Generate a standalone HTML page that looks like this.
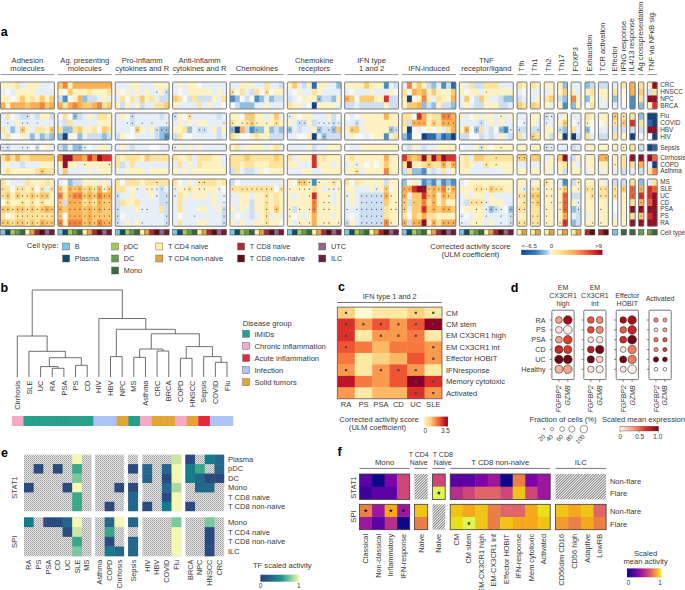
<!DOCTYPE html>
<html><head><meta charset="utf-8"><style>
html,body{margin:0;padding:0;background:#fff;}
svg{display:block;font-family:"Liberation Sans",sans-serif;fill:#383838;}
</style></head><body>
<svg width="685" height="590" viewBox="0 0 685 590">
<rect width="685" height="590" fill="#fff"/>
<text x="0.80" y="36.20" font-size="12.5" text-anchor="start" font-weight="bold" fill="#000">a</text>
<rect x="0.50" y="82.00" width="5.40" height="7.25" fill="#fef2c2" />
<rect x="5.40" y="82.00" width="5.40" height="7.25" fill="#fef2c2" />
<rect x="10.30" y="82.00" width="5.40" height="7.25" fill="#fef2c2" />
<rect x="15.20" y="82.00" width="5.40" height="7.25" fill="#fde39c" />
<rect x="20.10" y="82.00" width="5.40" height="7.25" fill="#e6eff8" />
<rect x="25.00" y="82.00" width="5.40" height="7.25" fill="#fef2c2" />
<rect x="29.90" y="82.00" width="5.40" height="7.25" fill="#fef2c2" />
<rect x="34.80" y="82.00" width="5.40" height="7.25" fill="#fef2c2" />
<rect x="39.70" y="82.00" width="5.40" height="7.25" fill="#e6eff8" />
<rect x="44.60" y="82.00" width="5.40" height="7.25" fill="#e6eff8" />
<rect x="49.50" y="82.00" width="4.90" height="7.25" fill="#f8f8f7" />
<rect x="0.50" y="88.75" width="5.40" height="7.25" fill="#e6eff8" />
<rect x="5.40" y="88.75" width="5.40" height="7.25" fill="#f8f8f7" />
<rect x="10.30" y="88.75" width="5.40" height="7.25" fill="#e6eff8" />
<rect x="15.20" y="88.75" width="5.40" height="7.25" fill="#fef2c2" />
<rect x="20.10" y="88.75" width="5.40" height="7.25" fill="#fef2c2" />
<rect x="25.00" y="88.75" width="5.40" height="7.25" fill="#fef2c2" />
<rect x="29.90" y="88.75" width="5.40" height="7.25" fill="#fef2c2" />
<rect x="34.80" y="88.75" width="5.40" height="7.25" fill="#e6eff8" />
<rect x="39.70" y="88.75" width="5.40" height="7.25" fill="#e6eff8" />
<rect x="44.60" y="88.75" width="5.40" height="7.25" fill="#e6eff8" />
<rect x="49.50" y="88.75" width="4.90" height="7.25" fill="#e6eff8" />
<rect x="0.50" y="95.50" width="5.40" height="7.25" fill="#fef2c2" />
<rect x="5.40" y="95.50" width="5.40" height="7.25" fill="#fef2c2" />
<rect x="10.30" y="95.50" width="5.40" height="7.25" fill="#f8f8f7" />
<rect x="15.20" y="95.50" width="5.40" height="7.25" fill="#fef2c2" />
<rect x="20.10" y="95.50" width="5.40" height="7.25" fill="#fccb70" />
<rect x="25.00" y="95.50" width="5.40" height="7.25" fill="#fef2c2" />
<rect x="29.90" y="95.50" width="5.40" height="7.25" fill="#fde39c" />
<rect x="34.80" y="95.50" width="5.40" height="7.25" fill="#fef2c2" />
<rect x="39.70" y="95.50" width="5.40" height="7.25" fill="#fccb70" />
<rect x="44.60" y="95.50" width="5.40" height="7.25" fill="#fef2c2" />
<rect x="49.50" y="95.50" width="4.90" height="7.25" fill="#fccb70" />
<rect x="0.50" y="102.25" width="5.40" height="6.75" fill="#fbb054" />
<rect x="5.40" y="102.25" width="5.40" height="6.75" fill="#fef2c2" />
<rect x="10.30" y="102.25" width="5.40" height="6.75" fill="#fbb054" />
<rect x="15.20" y="102.25" width="5.40" height="6.75" fill="#fbb054" />
<rect x="20.10" y="102.25" width="5.40" height="6.75" fill="#fbb054" />
<rect x="25.00" y="102.25" width="5.40" height="6.75" fill="#fccb70" />
<rect x="29.90" y="102.25" width="5.40" height="6.75" fill="#fbb054" />
<rect x="34.80" y="102.25" width="5.40" height="6.75" fill="#fbb054" />
<rect x="39.70" y="102.25" width="5.40" height="6.75" fill="#f6843e" />
<rect x="44.60" y="102.25" width="5.40" height="6.75" fill="#fccb70" />
<rect x="49.50" y="102.25" width="4.90" height="6.75" fill="#fbb054" />
<rect x="0.50" y="82.00" width="53.90" height="27.00" fill="none" stroke="#6f6f6f" stroke-width="0.9" rx="0.8"/>
<rect x="0.50" y="113.00" width="5.40" height="7.25" fill="#e6eff8" />
<rect x="5.40" y="113.00" width="5.40" height="7.25" fill="#fde39c" />
<rect x="10.30" y="113.00" width="5.40" height="7.25" fill="#f8f8f7" />
<rect x="15.20" y="113.00" width="5.40" height="7.25" fill="#e6eff8" />
<rect x="20.10" y="113.00" width="5.40" height="7.25" fill="#cddff0" />
<rect x="25.00" y="113.00" width="5.40" height="7.25" fill="#cddff0" />
<rect x="29.90" y="113.00" width="5.40" height="7.25" fill="#e6eff8" />
<rect x="34.80" y="113.00" width="5.40" height="7.25" fill="#cddff0" />
<rect x="39.70" y="113.00" width="5.40" height="7.25" fill="#fef2c2" />
<rect x="44.60" y="113.00" width="5.40" height="7.25" fill="#fef2c2" />
<rect x="49.50" y="113.00" width="4.90" height="7.25" fill="#cddff0" />
<rect x="0.50" y="119.75" width="5.40" height="7.25" fill="#e6eff8" />
<rect x="5.40" y="119.75" width="5.40" height="7.25" fill="#e6eff8" />
<rect x="10.30" y="119.75" width="5.40" height="7.25" fill="#e6eff8" />
<rect x="15.20" y="119.75" width="5.40" height="7.25" fill="#fef2c2" />
<rect x="20.10" y="119.75" width="5.40" height="7.25" fill="#e6eff8" />
<rect x="25.00" y="119.75" width="5.40" height="7.25" fill="#e6eff8" />
<rect x="29.90" y="119.75" width="5.40" height="7.25" fill="#e6eff8" />
<rect x="34.80" y="119.75" width="5.40" height="7.25" fill="#e6eff8" />
<rect x="39.70" y="119.75" width="5.40" height="7.25" fill="#e6eff8" />
<rect x="44.60" y="119.75" width="5.40" height="7.25" fill="#e6eff8" />
<rect x="49.50" y="119.75" width="4.90" height="7.25" fill="#e6eff8" />
<rect x="0.50" y="126.50" width="5.40" height="7.25" fill="#fde39c" />
<rect x="5.40" y="126.50" width="5.40" height="7.25" fill="#e6eff8" />
<rect x="10.30" y="126.50" width="5.40" height="7.25" fill="#92bfdf" />
<rect x="15.20" y="126.50" width="5.40" height="7.25" fill="#e6eff8" />
<rect x="20.10" y="126.50" width="5.40" height="7.25" fill="#fccb70" />
<rect x="25.00" y="126.50" width="5.40" height="7.25" fill="#fef2c2" />
<rect x="29.90" y="126.50" width="5.40" height="7.25" fill="#e6eff8" />
<rect x="34.80" y="126.50" width="5.40" height="7.25" fill="#fde39c" />
<rect x="39.70" y="126.50" width="5.40" height="7.25" fill="#fde39c" />
<rect x="44.60" y="126.50" width="5.40" height="7.25" fill="#fef2c2" />
<rect x="49.50" y="126.50" width="4.90" height="7.25" fill="#fccb70" />
<rect x="0.50" y="133.25" width="5.40" height="6.75" fill="#e6eff8" />
<rect x="5.40" y="133.25" width="5.40" height="6.75" fill="#fde39c" />
<rect x="10.30" y="133.25" width="5.40" height="6.75" fill="#f8f8f7" />
<rect x="15.20" y="133.25" width="5.40" height="6.75" fill="#f8f8f7" />
<rect x="20.10" y="133.25" width="5.40" height="6.75" fill="#fef2c2" />
<rect x="25.00" y="133.25" width="5.40" height="6.75" fill="#e6eff8" />
<rect x="29.90" y="133.25" width="5.40" height="6.75" fill="#92bfdf" />
<rect x="34.80" y="133.25" width="5.40" height="6.75" fill="#e6eff8" />
<rect x="39.70" y="133.25" width="5.40" height="6.75" fill="#92bfdf" />
<rect x="44.60" y="133.25" width="5.40" height="6.75" fill="#cddff0" />
<rect x="49.50" y="133.25" width="4.90" height="6.75" fill="#92bfdf" />
<circle cx="27.45" cy="116.38" r="0.62" fill="#4a4a4a"/>
<circle cx="7.85" cy="123.12" r="0.62" fill="#4a4a4a"/>
<circle cx="22.55" cy="123.12" r="0.62" fill="#4a4a4a"/>
<circle cx="27.45" cy="123.12" r="0.62" fill="#4a4a4a"/>
<circle cx="37.25" cy="123.12" r="0.62" fill="#4a4a4a"/>
<circle cx="22.55" cy="129.88" r="0.62" fill="#4a4a4a"/>
<circle cx="51.95" cy="129.88" r="0.62" fill="#4a4a4a"/>
<rect x="0.50" y="113.00" width="53.90" height="27.00" fill="none" stroke="#6f6f6f" stroke-width="0.9" rx="0.8"/>
<rect x="0.50" y="144.20" width="5.40" height="6.75" fill="#e6eff8" />
<rect x="5.40" y="144.20" width="5.40" height="6.75" fill="#cddff0" />
<rect x="10.30" y="144.20" width="5.40" height="6.75" fill="#e6eff8" />
<rect x="15.20" y="144.20" width="5.40" height="6.75" fill="#e6eff8" />
<rect x="20.10" y="144.20" width="5.40" height="6.75" fill="#e6eff8" />
<rect x="25.00" y="144.20" width="5.40" height="6.75" fill="#e6eff8" />
<rect x="29.90" y="144.20" width="5.40" height="6.75" fill="#f8f8f7" />
<rect x="34.80" y="144.20" width="5.40" height="6.75" fill="#cddff0" />
<rect x="39.70" y="144.20" width="5.40" height="6.75" fill="#f8f8f7" />
<rect x="44.60" y="144.20" width="5.40" height="6.75" fill="#fef2c2" />
<rect x="49.50" y="144.20" width="4.90" height="6.75" fill="#e6eff8" />
<circle cx="2.95" cy="147.57" r="0.62" fill="#4a4a4a"/>
<circle cx="7.85" cy="147.57" r="0.62" fill="#4a4a4a"/>
<circle cx="22.55" cy="147.57" r="0.62" fill="#4a4a4a"/>
<circle cx="27.45" cy="147.57" r="0.62" fill="#4a4a4a"/>
<circle cx="37.25" cy="147.57" r="0.62" fill="#4a4a4a"/>
<rect x="0.50" y="144.20" width="53.90" height="6.75" fill="none" stroke="#6f6f6f" stroke-width="0.9" rx="0.8"/>
<rect x="0.50" y="154.60" width="5.40" height="7.25" fill="#fde39c" />
<rect x="5.40" y="154.60" width="5.40" height="7.25" fill="#fbb054" />
<rect x="10.30" y="154.60" width="5.40" height="7.25" fill="#fde39c" />
<rect x="15.20" y="154.60" width="5.40" height="7.25" fill="#fbb054" />
<rect x="20.10" y="154.60" width="5.40" height="7.25" fill="#fde39c" />
<rect x="25.00" y="154.60" width="5.40" height="7.25" fill="#fde39c" />
<rect x="29.90" y="154.60" width="5.40" height="7.25" fill="#fccb70" />
<rect x="34.80" y="154.60" width="5.40" height="7.25" fill="#fccb70" />
<rect x="39.70" y="154.60" width="5.40" height="7.25" fill="#fccb70" />
<rect x="44.60" y="154.60" width="5.40" height="7.25" fill="#fccb70" />
<rect x="49.50" y="154.60" width="4.90" height="7.25" fill="#fccb70" />
<rect x="0.50" y="161.35" width="5.40" height="7.25" fill="#e6eff8" />
<rect x="5.40" y="161.35" width="5.40" height="7.25" fill="#fef2c2" />
<rect x="10.30" y="161.35" width="5.40" height="7.25" fill="#e6eff8" />
<rect x="15.20" y="161.35" width="5.40" height="7.25" fill="#e6eff8" />
<rect x="20.10" y="161.35" width="5.40" height="7.25" fill="#cddff0" />
<rect x="25.00" y="161.35" width="5.40" height="7.25" fill="#e6eff8" />
<rect x="29.90" y="161.35" width="5.40" height="7.25" fill="#e6eff8" />
<rect x="34.80" y="161.35" width="5.40" height="7.25" fill="#e6eff8" />
<rect x="39.70" y="161.35" width="5.40" height="7.25" fill="#fef2c2" />
<rect x="44.60" y="161.35" width="5.40" height="7.25" fill="#fef2c2" />
<rect x="49.50" y="161.35" width="4.90" height="7.25" fill="#fef2c2" />
<rect x="0.50" y="168.10" width="5.40" height="6.75" fill="#fef2c2" />
<rect x="5.40" y="168.10" width="5.40" height="6.75" fill="#fde39c" />
<rect x="10.30" y="168.10" width="5.40" height="6.75" fill="#fef2c2" />
<rect x="15.20" y="168.10" width="5.40" height="6.75" fill="#fef2c2" />
<rect x="20.10" y="168.10" width="5.40" height="6.75" fill="#fef2c2" />
<rect x="25.00" y="168.10" width="5.40" height="6.75" fill="#fef2c2" />
<rect x="29.90" y="168.10" width="5.40" height="6.75" fill="#fef2c2" />
<rect x="34.80" y="168.10" width="5.40" height="6.75" fill="#fde39c" />
<rect x="39.70" y="168.10" width="5.40" height="6.75" fill="#fccb70" />
<rect x="44.60" y="168.10" width="5.40" height="6.75" fill="#fde39c" />
<rect x="49.50" y="168.10" width="4.90" height="6.75" fill="#fde39c" />
<circle cx="42.15" cy="171.47" r="0.62" fill="#4a4a4a"/>
<rect x="0.50" y="154.60" width="53.90" height="20.25" fill="none" stroke="#6f6f6f" stroke-width="0.9" rx="0.8"/>
<rect x="0.50" y="179.00" width="5.40" height="7.25" fill="#fde39c" />
<rect x="5.40" y="179.00" width="5.40" height="7.25" fill="#f8f8f7" />
<rect x="10.30" y="179.00" width="5.40" height="7.25" fill="#e6eff8" />
<rect x="15.20" y="179.00" width="5.40" height="7.25" fill="#e6eff8" />
<rect x="20.10" y="179.00" width="5.40" height="7.25" fill="#e6eff8" />
<rect x="25.00" y="179.00" width="5.40" height="7.25" fill="#fde39c" />
<rect x="29.90" y="179.00" width="5.40" height="7.25" fill="#fef2c2" />
<rect x="34.80" y="179.00" width="5.40" height="7.25" fill="#fef2c2" />
<rect x="39.70" y="179.00" width="5.40" height="7.25" fill="#fef2c2" />
<rect x="44.60" y="179.00" width="5.40" height="7.25" fill="#fde39c" />
<rect x="49.50" y="179.00" width="4.90" height="7.25" fill="#fef2c2" />
<rect x="0.50" y="185.75" width="5.40" height="7.25" fill="#fde39c" />
<rect x="5.40" y="185.75" width="5.40" height="7.25" fill="#fde39c" />
<rect x="10.30" y="185.75" width="5.40" height="7.25" fill="#f8f8f7" />
<rect x="15.20" y="185.75" width="5.40" height="7.25" fill="#fde39c" />
<rect x="20.10" y="185.75" width="5.40" height="7.25" fill="#fde39c" />
<rect x="25.00" y="185.75" width="5.40" height="7.25" fill="#fef2c2" />
<rect x="29.90" y="185.75" width="5.40" height="7.25" fill="#fde39c" />
<rect x="34.80" y="185.75" width="5.40" height="7.25" fill="#f8f8f7" />
<rect x="39.70" y="185.75" width="5.40" height="7.25" fill="#fde39c" />
<rect x="44.60" y="185.75" width="5.40" height="7.25" fill="#e6eff8" />
<rect x="49.50" y="185.75" width="4.90" height="7.25" fill="#fde39c" />
<rect x="0.50" y="192.50" width="5.40" height="7.25" fill="#fde39c" />
<rect x="5.40" y="192.50" width="5.40" height="7.25" fill="#fccb70" />
<rect x="10.30" y="192.50" width="5.40" height="7.25" fill="#fef2c2" />
<rect x="15.20" y="192.50" width="5.40" height="7.25" fill="#fccb70" />
<rect x="20.10" y="192.50" width="5.40" height="7.25" fill="#fde39c" />
<rect x="25.00" y="192.50" width="5.40" height="7.25" fill="#fde39c" />
<rect x="29.90" y="192.50" width="5.40" height="7.25" fill="#fccb70" />
<rect x="34.80" y="192.50" width="5.40" height="7.25" fill="#fde39c" />
<rect x="39.70" y="192.50" width="5.40" height="7.25" fill="#fccb70" />
<rect x="44.60" y="192.50" width="5.40" height="7.25" fill="#fccb70" />
<rect x="49.50" y="192.50" width="4.90" height="7.25" fill="#fef2c2" />
<rect x="0.50" y="199.25" width="5.40" height="7.25" fill="#f8f8f7" />
<rect x="5.40" y="199.25" width="5.40" height="7.25" fill="#fde39c" />
<rect x="10.30" y="199.25" width="5.40" height="7.25" fill="#fef2c2" />
<rect x="15.20" y="199.25" width="5.40" height="7.25" fill="#fef2c2" />
<rect x="20.10" y="199.25" width="5.40" height="7.25" fill="#fde39c" />
<rect x="25.00" y="199.25" width="5.40" height="7.25" fill="#fef2c2" />
<rect x="29.90" y="199.25" width="5.40" height="7.25" fill="#fde39c" />
<rect x="34.80" y="199.25" width="5.40" height="7.25" fill="#fef2c2" />
<rect x="39.70" y="199.25" width="5.40" height="7.25" fill="#fde39c" />
<rect x="44.60" y="199.25" width="5.40" height="7.25" fill="#fef2c2" />
<rect x="49.50" y="199.25" width="4.90" height="7.25" fill="#fef2c2" />
<rect x="0.50" y="206.00" width="5.40" height="7.25" fill="#fccb70" />
<rect x="5.40" y="206.00" width="5.40" height="7.25" fill="#fccb70" />
<rect x="10.30" y="206.00" width="5.40" height="7.25" fill="#fde39c" />
<rect x="15.20" y="206.00" width="5.40" height="7.25" fill="#fccb70" />
<rect x="20.10" y="206.00" width="5.40" height="7.25" fill="#fccb70" />
<rect x="25.00" y="206.00" width="5.40" height="7.25" fill="#fde39c" />
<rect x="29.90" y="206.00" width="5.40" height="7.25" fill="#fccb70" />
<rect x="34.80" y="206.00" width="5.40" height="7.25" fill="#fde39c" />
<rect x="39.70" y="206.00" width="5.40" height="7.25" fill="#fccb70" />
<rect x="44.60" y="206.00" width="5.40" height="7.25" fill="#fbb054" />
<rect x="49.50" y="206.00" width="4.90" height="7.25" fill="#fccb70" />
<rect x="0.50" y="212.75" width="5.40" height="7.25" fill="#fde39c" />
<rect x="5.40" y="212.75" width="5.40" height="7.25" fill="#f8f8f7" />
<rect x="10.30" y="212.75" width="5.40" height="7.25" fill="#fef2c2" />
<rect x="15.20" y="212.75" width="5.40" height="7.25" fill="#fde39c" />
<rect x="20.10" y="212.75" width="5.40" height="7.25" fill="#fde39c" />
<rect x="25.00" y="212.75" width="5.40" height="7.25" fill="#fde39c" />
<rect x="29.90" y="212.75" width="5.40" height="7.25" fill="#fde39c" />
<rect x="34.80" y="212.75" width="5.40" height="7.25" fill="#fde39c" />
<rect x="39.70" y="212.75" width="5.40" height="7.25" fill="#fde39c" />
<rect x="44.60" y="212.75" width="5.40" height="7.25" fill="#fde39c" />
<rect x="49.50" y="212.75" width="4.90" height="7.25" fill="#fde39c" />
<rect x="0.50" y="219.50" width="5.40" height="6.75" fill="#fccb70" />
<rect x="5.40" y="219.50" width="5.40" height="6.75" fill="#fccb70" />
<rect x="10.30" y="219.50" width="5.40" height="6.75" fill="#fde39c" />
<rect x="15.20" y="219.50" width="5.40" height="6.75" fill="#fccb70" />
<rect x="20.10" y="219.50" width="5.40" height="6.75" fill="#fccb70" />
<rect x="25.00" y="219.50" width="5.40" height="6.75" fill="#fde39c" />
<rect x="29.90" y="219.50" width="5.40" height="6.75" fill="#fccb70" />
<rect x="34.80" y="219.50" width="5.40" height="6.75" fill="#fde39c" />
<rect x="39.70" y="219.50" width="5.40" height="6.75" fill="#fbb054" />
<rect x="44.60" y="219.50" width="5.40" height="6.75" fill="#fccb70" />
<rect x="49.50" y="219.50" width="4.90" height="6.75" fill="#fccb70" />
<circle cx="2.95" cy="189.12" r="0.62" fill="#4a4a4a"/>
<circle cx="17.65" cy="189.12" r="0.62" fill="#4a4a4a"/>
<circle cx="22.55" cy="189.12" r="0.62" fill="#4a4a4a"/>
<circle cx="32.35" cy="189.12" r="0.62" fill="#4a4a4a"/>
<circle cx="42.15" cy="189.12" r="0.62" fill="#4a4a4a"/>
<circle cx="51.95" cy="189.12" r="0.62" fill="#4a4a4a"/>
<circle cx="2.95" cy="195.88" r="0.62" fill="#4a4a4a"/>
<circle cx="7.85" cy="195.88" r="0.62" fill="#4a4a4a"/>
<circle cx="17.65" cy="195.88" r="0.62" fill="#4a4a4a"/>
<circle cx="22.55" cy="195.88" r="0.62" fill="#4a4a4a"/>
<circle cx="27.45" cy="195.88" r="0.62" fill="#4a4a4a"/>
<circle cx="32.35" cy="195.88" r="0.62" fill="#4a4a4a"/>
<circle cx="37.25" cy="195.88" r="0.62" fill="#4a4a4a"/>
<circle cx="42.15" cy="195.88" r="0.62" fill="#4a4a4a"/>
<circle cx="47.05" cy="195.88" r="0.62" fill="#4a4a4a"/>
<circle cx="7.85" cy="202.62" r="0.62" fill="#4a4a4a"/>
<circle cx="22.55" cy="202.62" r="0.62" fill="#4a4a4a"/>
<circle cx="32.35" cy="202.62" r="0.62" fill="#4a4a4a"/>
<circle cx="42.15" cy="202.62" r="0.62" fill="#4a4a4a"/>
<circle cx="2.95" cy="209.38" r="0.62" fill="#4a4a4a"/>
<circle cx="7.85" cy="209.38" r="0.62" fill="#4a4a4a"/>
<circle cx="12.75" cy="209.38" r="0.62" fill="#4a4a4a"/>
<circle cx="17.65" cy="209.38" r="0.62" fill="#4a4a4a"/>
<circle cx="22.55" cy="209.38" r="0.62" fill="#4a4a4a"/>
<circle cx="27.45" cy="209.38" r="0.62" fill="#4a4a4a"/>
<circle cx="32.35" cy="209.38" r="0.62" fill="#4a4a4a"/>
<circle cx="37.25" cy="209.38" r="0.62" fill="#4a4a4a"/>
<circle cx="42.15" cy="209.38" r="0.62" fill="#4a4a4a"/>
<circle cx="47.05" cy="209.38" r="0.62" fill="#4a4a4a"/>
<circle cx="51.95" cy="209.38" r="0.62" fill="#4a4a4a"/>
<circle cx="17.65" cy="216.12" r="0.62" fill="#4a4a4a"/>
<circle cx="22.55" cy="216.12" r="0.62" fill="#4a4a4a"/>
<circle cx="27.45" cy="216.12" r="0.62" fill="#4a4a4a"/>
<circle cx="32.35" cy="216.12" r="0.62" fill="#4a4a4a"/>
<circle cx="37.25" cy="216.12" r="0.62" fill="#4a4a4a"/>
<circle cx="42.15" cy="216.12" r="0.62" fill="#4a4a4a"/>
<circle cx="47.05" cy="216.12" r="0.62" fill="#4a4a4a"/>
<circle cx="51.95" cy="216.12" r="0.62" fill="#4a4a4a"/>
<circle cx="2.95" cy="222.88" r="0.62" fill="#4a4a4a"/>
<circle cx="7.85" cy="222.88" r="0.62" fill="#4a4a4a"/>
<circle cx="12.75" cy="222.88" r="0.62" fill="#4a4a4a"/>
<circle cx="17.65" cy="222.88" r="0.62" fill="#4a4a4a"/>
<circle cx="22.55" cy="222.88" r="0.62" fill="#4a4a4a"/>
<circle cx="27.45" cy="222.88" r="0.62" fill="#4a4a4a"/>
<circle cx="32.35" cy="222.88" r="0.62" fill="#4a4a4a"/>
<circle cx="37.25" cy="222.88" r="0.62" fill="#4a4a4a"/>
<circle cx="42.15" cy="222.88" r="0.62" fill="#4a4a4a"/>
<circle cx="47.05" cy="222.88" r="0.62" fill="#4a4a4a"/>
<circle cx="51.95" cy="222.88" r="0.62" fill="#4a4a4a"/>
<rect x="0.50" y="179.00" width="53.90" height="47.25" fill="none" stroke="#6f6f6f" stroke-width="0.9" rx="0.8"/>
<rect x="0.50" y="229.50" width="5.30" height="5.50" fill="#7cc5dc" />
<rect x="5.40" y="229.50" width="5.30" height="5.50" fill="#0d4f67" />
<rect x="10.30" y="229.50" width="5.30" height="5.50" fill="#a5c85b" />
<rect x="15.20" y="229.50" width="5.30" height="5.50" fill="#6a9c4d" />
<rect x="20.10" y="229.50" width="5.30" height="5.50" fill="#3a6a40" />
<rect x="25.00" y="229.50" width="5.30" height="5.50" fill="#fdf0aa" />
<rect x="29.90" y="229.50" width="5.30" height="5.50" fill="#e5a23e" />
<rect x="34.80" y="229.50" width="5.30" height="5.50" fill="#a62f35" />
<rect x="39.70" y="229.50" width="5.30" height="5.50" fill="#5a0e16" />
<rect x="44.60" y="229.50" width="5.30" height="5.50" fill="#94678a" />
<rect x="49.50" y="229.50" width="4.90" height="5.50" fill="#6a1f3d" />
<path d="M5.40,229.5V235 M10.30,229.5V235 M15.20,229.5V235 M20.10,229.5V235 M25.00,229.5V235 M29.90,229.5V235 M34.80,229.5V235 M39.70,229.5V235 M44.60,229.5V235 M49.50,229.5V235" stroke="#2a2a2a" stroke-width="0.45"/>
<rect x="0.50" y="229.5" width="53.90" height="5.5" fill="none" stroke="#444" stroke-width="0.55"/>
<text x="27.45" y="62.60" font-size="7.6" text-anchor="middle" >Adhesion</text>
<text x="27.45" y="71.20" font-size="7.6" text-anchor="middle" >molecules</text>
<line x1="0.50" y1="74.6" x2="54.40" y2="74.6" stroke="#8a8a8a" stroke-width="0.9"/>
<rect x="57.86" y="82.00" width="5.40" height="7.25" fill="#fccb70" />
<rect x="62.76" y="82.00" width="5.40" height="7.25" fill="#f6843e" />
<rect x="67.66" y="82.00" width="5.40" height="7.25" fill="#fef2c2" />
<rect x="72.56" y="82.00" width="5.40" height="7.25" fill="#fbb054" />
<rect x="77.46" y="82.00" width="5.40" height="7.25" fill="#fbb054" />
<rect x="82.36" y="82.00" width="5.40" height="7.25" fill="#fbb054" />
<rect x="87.26" y="82.00" width="5.40" height="7.25" fill="#fbb054" />
<rect x="92.16" y="82.00" width="5.40" height="7.25" fill="#fbb054" />
<rect x="97.06" y="82.00" width="5.40" height="7.25" fill="#fbb054" />
<rect x="101.96" y="82.00" width="5.40" height="7.25" fill="#fbb054" />
<rect x="106.86" y="82.00" width="4.90" height="7.25" fill="#fbb054" />
<rect x="57.86" y="88.75" width="5.40" height="7.25" fill="#fef2c2" />
<rect x="62.76" y="88.75" width="5.40" height="7.25" fill="#f8f8f7" />
<rect x="67.66" y="88.75" width="5.40" height="7.25" fill="#fccb70" />
<rect x="72.56" y="88.75" width="5.40" height="7.25" fill="#fef2c2" />
<rect x="77.46" y="88.75" width="5.40" height="7.25" fill="#fef2c2" />
<rect x="82.36" y="88.75" width="5.40" height="7.25" fill="#fef2c2" />
<rect x="87.26" y="88.75" width="5.40" height="7.25" fill="#fde39c" />
<rect x="92.16" y="88.75" width="5.40" height="7.25" fill="#fef2c2" />
<rect x="97.06" y="88.75" width="5.40" height="7.25" fill="#fef2c2" />
<rect x="101.96" y="88.75" width="5.40" height="7.25" fill="#fef2c2" />
<rect x="106.86" y="88.75" width="4.90" height="7.25" fill="#fde39c" />
<rect x="57.86" y="95.50" width="5.40" height="7.25" fill="#cddff0" />
<rect x="62.76" y="95.50" width="5.40" height="7.25" fill="#4b8ec5" />
<rect x="67.66" y="95.50" width="5.40" height="7.25" fill="#f8f8f7" />
<rect x="72.56" y="95.50" width="5.40" height="7.25" fill="#fef2c2" />
<rect x="77.46" y="95.50" width="5.40" height="7.25" fill="#fbb054" />
<rect x="82.36" y="95.50" width="5.40" height="7.25" fill="#92bfdf" />
<rect x="87.26" y="95.50" width="5.40" height="7.25" fill="#cddff0" />
<rect x="92.16" y="95.50" width="5.40" height="7.25" fill="#cddff0" />
<rect x="97.06" y="95.50" width="5.40" height="7.25" fill="#e6eff8" />
<rect x="101.96" y="95.50" width="5.40" height="7.25" fill="#fef2c2" />
<rect x="106.86" y="95.50" width="4.90" height="7.25" fill="#e6eff8" />
<rect x="57.86" y="102.25" width="5.40" height="6.75" fill="#fbb054" />
<rect x="62.76" y="102.25" width="5.40" height="6.75" fill="#fde39c" />
<rect x="67.66" y="102.25" width="5.40" height="6.75" fill="#fbb054" />
<rect x="72.56" y="102.25" width="5.40" height="6.75" fill="#f6843e" />
<rect x="77.46" y="102.25" width="5.40" height="6.75" fill="#fbb054" />
<rect x="82.36" y="102.25" width="5.40" height="6.75" fill="#fccb70" />
<rect x="87.26" y="102.25" width="5.40" height="6.75" fill="#fccb70" />
<rect x="92.16" y="102.25" width="5.40" height="6.75" fill="#fbb054" />
<rect x="97.06" y="102.25" width="5.40" height="6.75" fill="#f6843e" />
<rect x="101.96" y="102.25" width="5.40" height="6.75" fill="#fde39c" />
<rect x="106.86" y="102.25" width="4.90" height="6.75" fill="#fccb70" />
<rect x="57.86" y="82.00" width="53.90" height="27.00" fill="none" stroke="#6f6f6f" stroke-width="0.9" rx="0.8"/>
<rect x="57.86" y="113.00" width="5.40" height="7.25" fill="#f8f8f7" />
<rect x="62.76" y="113.00" width="5.40" height="7.25" fill="#fde39c" />
<rect x="67.66" y="113.00" width="5.40" height="7.25" fill="#f8f8f7" />
<rect x="72.56" y="113.00" width="5.40" height="7.25" fill="#92bfdf" />
<rect x="77.46" y="113.00" width="5.40" height="7.25" fill="#cddff0" />
<rect x="82.36" y="113.00" width="5.40" height="7.25" fill="#e6eff8" />
<rect x="87.26" y="113.00" width="5.40" height="7.25" fill="#fef2c2" />
<rect x="92.16" y="113.00" width="5.40" height="7.25" fill="#e6eff8" />
<rect x="97.06" y="113.00" width="5.40" height="7.25" fill="#fde39c" />
<rect x="101.96" y="113.00" width="5.40" height="7.25" fill="#fde39c" />
<rect x="106.86" y="113.00" width="4.90" height="7.25" fill="#fef2c2" />
<rect x="57.86" y="119.75" width="5.40" height="7.25" fill="#e6eff8" />
<rect x="62.76" y="119.75" width="5.40" height="7.25" fill="#cddff0" />
<rect x="67.66" y="119.75" width="5.40" height="7.25" fill="#fde39c" />
<rect x="72.56" y="119.75" width="5.40" height="7.25" fill="#e6eff8" />
<rect x="77.46" y="119.75" width="5.40" height="7.25" fill="#e6eff8" />
<rect x="82.36" y="119.75" width="5.40" height="7.25" fill="#e6eff8" />
<rect x="87.26" y="119.75" width="5.40" height="7.25" fill="#e6eff8" />
<rect x="92.16" y="119.75" width="5.40" height="7.25" fill="#e6eff8" />
<rect x="97.06" y="119.75" width="5.40" height="7.25" fill="#fef2c2" />
<rect x="101.96" y="119.75" width="5.40" height="7.25" fill="#fef2c2" />
<rect x="106.86" y="119.75" width="4.90" height="7.25" fill="#fef2c2" />
<rect x="57.86" y="126.50" width="5.40" height="7.25" fill="#fde39c" />
<rect x="62.76" y="126.50" width="5.40" height="7.25" fill="#92bfdf" />
<rect x="67.66" y="126.50" width="5.40" height="7.25" fill="#92bfdf" />
<rect x="72.56" y="126.50" width="5.40" height="7.25" fill="#fde39c" />
<rect x="77.46" y="126.50" width="5.40" height="7.25" fill="#fccb70" />
<rect x="82.36" y="126.50" width="5.40" height="7.25" fill="#fef2c2" />
<rect x="87.26" y="126.50" width="5.40" height="7.25" fill="#fef2c2" />
<rect x="92.16" y="126.50" width="5.40" height="7.25" fill="#fde39c" />
<rect x="97.06" y="126.50" width="5.40" height="7.25" fill="#f8f8f7" />
<rect x="101.96" y="126.50" width="5.40" height="7.25" fill="#fccb70" />
<rect x="106.86" y="126.50" width="4.90" height="7.25" fill="#fde39c" />
<rect x="57.86" y="133.25" width="5.40" height="6.75" fill="#92bfdf" />
<rect x="62.76" y="133.25" width="5.40" height="6.75" fill="#163f80" />
<rect x="67.66" y="133.25" width="5.40" height="6.75" fill="#f8f8f7" />
<rect x="72.56" y="133.25" width="5.40" height="6.75" fill="#f8f8f7" />
<rect x="77.46" y="133.25" width="5.40" height="6.75" fill="#92bfdf" />
<rect x="82.36" y="133.25" width="5.40" height="6.75" fill="#e6eff8" />
<rect x="87.26" y="133.25" width="5.40" height="6.75" fill="#cddff0" />
<rect x="92.16" y="133.25" width="5.40" height="6.75" fill="#cddff0" />
<rect x="97.06" y="133.25" width="5.40" height="6.75" fill="#cddff0" />
<rect x="101.96" y="133.25" width="5.40" height="6.75" fill="#92bfdf" />
<rect x="106.86" y="133.25" width="4.90" height="6.75" fill="#cddff0" />
<circle cx="75.01" cy="116.38" r="0.62" fill="#4a4a4a"/>
<rect x="57.86" y="113.00" width="53.90" height="27.00" fill="none" stroke="#6f6f6f" stroke-width="0.9" rx="0.8"/>
<rect x="57.86" y="144.20" width="5.40" height="6.75" fill="#cddff0" />
<rect x="62.76" y="144.20" width="5.40" height="6.75" fill="#92bfdf" />
<rect x="67.66" y="144.20" width="5.40" height="6.75" fill="#e6eff8" />
<rect x="72.56" y="144.20" width="5.40" height="6.75" fill="#92bfdf" />
<rect x="77.46" y="144.20" width="5.40" height="6.75" fill="#92bfdf" />
<rect x="82.36" y="144.20" width="5.40" height="6.75" fill="#e6eff8" />
<rect x="87.26" y="144.20" width="5.40" height="6.75" fill="#f8f8f7" />
<rect x="92.16" y="144.20" width="5.40" height="6.75" fill="#e6eff8" />
<rect x="97.06" y="144.20" width="5.40" height="6.75" fill="#fef2c2" />
<rect x="101.96" y="144.20" width="5.40" height="6.75" fill="#fef2c2" />
<rect x="106.86" y="144.20" width="4.90" height="6.75" fill="#e6eff8" />
<circle cx="79.91" cy="147.57" r="0.62" fill="#4a4a4a"/>
<circle cx="84.81" cy="147.57" r="0.62" fill="#4a4a4a"/>
<rect x="57.86" y="144.20" width="53.90" height="6.75" fill="none" stroke="#6f6f6f" stroke-width="0.9" rx="0.8"/>
<rect x="57.86" y="154.60" width="5.40" height="7.25" fill="#f6843e" />
<rect x="62.76" y="154.60" width="5.40" height="7.25" fill="#950c28" />
<rect x="67.66" y="154.60" width="5.40" height="7.25" fill="#950c28" />
<rect x="72.56" y="154.60" width="5.40" height="7.25" fill="#f6843e" />
<rect x="77.46" y="154.60" width="5.40" height="7.25" fill="#f6843e" />
<rect x="82.36" y="154.60" width="5.40" height="7.25" fill="#fbb054" />
<rect x="87.26" y="154.60" width="5.40" height="7.25" fill="#d9302a" />
<rect x="92.16" y="154.60" width="5.40" height="7.25" fill="#f6843e" />
<rect x="97.06" y="154.60" width="5.40" height="7.25" fill="#950c28" />
<rect x="101.96" y="154.60" width="5.40" height="7.25" fill="#d9302a" />
<rect x="106.86" y="154.60" width="4.90" height="7.25" fill="#d9302a" />
<rect x="57.86" y="161.35" width="5.40" height="7.25" fill="#fef2c2" />
<rect x="62.76" y="161.35" width="5.40" height="7.25" fill="#950c28" />
<rect x="67.66" y="161.35" width="5.40" height="7.25" fill="#fef2c2" />
<rect x="72.56" y="161.35" width="5.40" height="7.25" fill="#fef2c2" />
<rect x="77.46" y="161.35" width="5.40" height="7.25" fill="#e6eff8" />
<rect x="82.36" y="161.35" width="5.40" height="7.25" fill="#fef2c2" />
<rect x="87.26" y="161.35" width="5.40" height="7.25" fill="#fef2c2" />
<rect x="92.16" y="161.35" width="5.40" height="7.25" fill="#fef2c2" />
<rect x="97.06" y="161.35" width="5.40" height="7.25" fill="#fef2c2" />
<rect x="101.96" y="161.35" width="5.40" height="7.25" fill="#fef2c2" />
<rect x="106.86" y="161.35" width="4.90" height="7.25" fill="#fef2c2" />
<rect x="57.86" y="168.10" width="5.40" height="6.75" fill="#e6eff8" />
<rect x="62.76" y="168.10" width="5.40" height="6.75" fill="#fccb70" />
<rect x="67.66" y="168.10" width="5.40" height="6.75" fill="#e6eff8" />
<rect x="72.56" y="168.10" width="5.40" height="6.75" fill="#e6eff8" />
<rect x="77.46" y="168.10" width="5.40" height="6.75" fill="#e6eff8" />
<rect x="82.36" y="168.10" width="5.40" height="6.75" fill="#e6eff8" />
<rect x="87.26" y="168.10" width="5.40" height="6.75" fill="#fef2c2" />
<rect x="92.16" y="168.10" width="5.40" height="6.75" fill="#e6eff8" />
<rect x="97.06" y="168.10" width="5.40" height="6.75" fill="#fef2c2" />
<rect x="101.96" y="168.10" width="5.40" height="6.75" fill="#fef2c2" />
<rect x="106.86" y="168.10" width="4.90" height="6.75" fill="#fef2c2" />
<circle cx="65.21" cy="157.97" r="0.62" fill="#4a4a4a"/>
<circle cx="65.21" cy="164.72" r="0.62" fill="#4a4a4a"/>
<circle cx="84.81" cy="164.72" r="0.62" fill="#4a4a4a"/>
<circle cx="109.31" cy="164.72" r="0.62" fill="#4a4a4a"/>
<rect x="57.86" y="154.60" width="53.90" height="20.25" fill="none" stroke="#6f6f6f" stroke-width="0.9" rx="0.8"/>
<rect x="57.86" y="179.00" width="5.40" height="7.25" fill="#e6eff8" />
<rect x="62.76" y="179.00" width="5.40" height="7.25" fill="#f8f8f7" />
<rect x="67.66" y="179.00" width="5.40" height="7.25" fill="#92bfdf" />
<rect x="72.56" y="179.00" width="5.40" height="7.25" fill="#cddff0" />
<rect x="77.46" y="179.00" width="5.40" height="7.25" fill="#cddff0" />
<rect x="82.36" y="179.00" width="5.40" height="7.25" fill="#fef2c2" />
<rect x="87.26" y="179.00" width="5.40" height="7.25" fill="#fef2c2" />
<rect x="92.16" y="179.00" width="5.40" height="7.25" fill="#fef2c2" />
<rect x="97.06" y="179.00" width="5.40" height="7.25" fill="#e6eff8" />
<rect x="101.96" y="179.00" width="5.40" height="7.25" fill="#fef2c2" />
<rect x="106.86" y="179.00" width="4.90" height="7.25" fill="#e6eff8" />
<rect x="57.86" y="185.75" width="5.40" height="7.25" fill="#fccb70" />
<rect x="62.76" y="185.75" width="5.40" height="7.25" fill="#fef2c2" />
<rect x="67.66" y="185.75" width="5.40" height="7.25" fill="#fbb054" />
<rect x="72.56" y="185.75" width="5.40" height="7.25" fill="#fccb70" />
<rect x="77.46" y="185.75" width="5.40" height="7.25" fill="#fbb054" />
<rect x="82.36" y="185.75" width="5.40" height="7.25" fill="#fde39c" />
<rect x="87.26" y="185.75" width="5.40" height="7.25" fill="#fccb70" />
<rect x="92.16" y="185.75" width="5.40" height="7.25" fill="#fde39c" />
<rect x="97.06" y="185.75" width="5.40" height="7.25" fill="#fbb054" />
<rect x="101.96" y="185.75" width="5.40" height="7.25" fill="#fef2c2" />
<rect x="106.86" y="185.75" width="4.90" height="7.25" fill="#fccb70" />
<rect x="57.86" y="192.50" width="5.40" height="7.25" fill="#f6843e" />
<rect x="62.76" y="192.50" width="5.40" height="7.25" fill="#fde39c" />
<rect x="67.66" y="192.50" width="5.40" height="7.25" fill="#fbb054" />
<rect x="72.56" y="192.50" width="5.40" height="7.25" fill="#f6843e" />
<rect x="77.46" y="192.50" width="5.40" height="7.25" fill="#f6843e" />
<rect x="82.36" y="192.50" width="5.40" height="7.25" fill="#fccb70" />
<rect x="87.26" y="192.50" width="5.40" height="7.25" fill="#fbb054" />
<rect x="92.16" y="192.50" width="5.40" height="7.25" fill="#fccb70" />
<rect x="97.06" y="192.50" width="5.40" height="7.25" fill="#f6843e" />
<rect x="101.96" y="192.50" width="5.40" height="7.25" fill="#fbb054" />
<rect x="106.86" y="192.50" width="4.90" height="7.25" fill="#fbb054" />
<rect x="57.86" y="199.25" width="5.40" height="7.25" fill="#fccb70" />
<rect x="62.76" y="199.25" width="5.40" height="7.25" fill="#cddff0" />
<rect x="67.66" y="199.25" width="5.40" height="7.25" fill="#fbb054" />
<rect x="72.56" y="199.25" width="5.40" height="7.25" fill="#fbb054" />
<rect x="77.46" y="199.25" width="5.40" height="7.25" fill="#fbb054" />
<rect x="82.36" y="199.25" width="5.40" height="7.25" fill="#fde39c" />
<rect x="87.26" y="199.25" width="5.40" height="7.25" fill="#fccb70" />
<rect x="92.16" y="199.25" width="5.40" height="7.25" fill="#fde39c" />
<rect x="97.06" y="199.25" width="5.40" height="7.25" fill="#fbb054" />
<rect x="101.96" y="199.25" width="5.40" height="7.25" fill="#fccb70" />
<rect x="106.86" y="199.25" width="4.90" height="7.25" fill="#fccb70" />
<rect x="57.86" y="206.00" width="5.40" height="7.25" fill="#fbb054" />
<rect x="62.76" y="206.00" width="5.40" height="7.25" fill="#fccb70" />
<rect x="67.66" y="206.00" width="5.40" height="7.25" fill="#fbb054" />
<rect x="72.56" y="206.00" width="5.40" height="7.25" fill="#fbb054" />
<rect x="77.46" y="206.00" width="5.40" height="7.25" fill="#fbb054" />
<rect x="82.36" y="206.00" width="5.40" height="7.25" fill="#fccb70" />
<rect x="87.26" y="206.00" width="5.40" height="7.25" fill="#fbb054" />
<rect x="92.16" y="206.00" width="5.40" height="7.25" fill="#fccb70" />
<rect x="97.06" y="206.00" width="5.40" height="7.25" fill="#fbb054" />
<rect x="101.96" y="206.00" width="5.40" height="7.25" fill="#fccb70" />
<rect x="106.86" y="206.00" width="4.90" height="7.25" fill="#fccb70" />
<rect x="57.86" y="212.75" width="5.40" height="7.25" fill="#fccb70" />
<rect x="62.76" y="212.75" width="5.40" height="7.25" fill="#f8f8f7" />
<rect x="67.66" y="212.75" width="5.40" height="7.25" fill="#fbb054" />
<rect x="72.56" y="212.75" width="5.40" height="7.25" fill="#fbb054" />
<rect x="77.46" y="212.75" width="5.40" height="7.25" fill="#fbb054" />
<rect x="82.36" y="212.75" width="5.40" height="7.25" fill="#fccb70" />
<rect x="87.26" y="212.75" width="5.40" height="7.25" fill="#fbb054" />
<rect x="92.16" y="212.75" width="5.40" height="7.25" fill="#fccb70" />
<rect x="97.06" y="212.75" width="5.40" height="7.25" fill="#fccb70" />
<rect x="101.96" y="212.75" width="5.40" height="7.25" fill="#fccb70" />
<rect x="106.86" y="212.75" width="4.90" height="7.25" fill="#fccb70" />
<rect x="57.86" y="219.50" width="5.40" height="6.75" fill="#f6843e" />
<rect x="62.76" y="219.50" width="5.40" height="6.75" fill="#fef2c2" />
<rect x="67.66" y="219.50" width="5.40" height="6.75" fill="#f6843e" />
<rect x="72.56" y="219.50" width="5.40" height="6.75" fill="#f6843e" />
<rect x="77.46" y="219.50" width="5.40" height="6.75" fill="#f6843e" />
<rect x="82.36" y="219.50" width="5.40" height="6.75" fill="#fccb70" />
<rect x="87.26" y="219.50" width="5.40" height="6.75" fill="#fbb054" />
<rect x="92.16" y="219.50" width="5.40" height="6.75" fill="#fccb70" />
<rect x="97.06" y="219.50" width="5.40" height="6.75" fill="#f6843e" />
<rect x="101.96" y="219.50" width="5.40" height="6.75" fill="#fbb054" />
<rect x="106.86" y="219.50" width="4.90" height="6.75" fill="#fbb054" />
<circle cx="60.31" cy="189.12" r="0.62" fill="#4a4a4a"/>
<circle cx="70.11" cy="189.12" r="0.62" fill="#4a4a4a"/>
<circle cx="75.01" cy="189.12" r="0.62" fill="#4a4a4a"/>
<circle cx="79.91" cy="189.12" r="0.62" fill="#4a4a4a"/>
<circle cx="84.81" cy="189.12" r="0.62" fill="#4a4a4a"/>
<circle cx="89.71" cy="189.12" r="0.62" fill="#4a4a4a"/>
<circle cx="94.61" cy="189.12" r="0.62" fill="#4a4a4a"/>
<circle cx="99.51" cy="189.12" r="0.62" fill="#4a4a4a"/>
<circle cx="104.41" cy="189.12" r="0.62" fill="#4a4a4a"/>
<circle cx="109.31" cy="189.12" r="0.62" fill="#4a4a4a"/>
<circle cx="60.31" cy="195.88" r="0.62" fill="#4a4a4a"/>
<circle cx="70.11" cy="195.88" r="0.62" fill="#4a4a4a"/>
<circle cx="75.01" cy="195.88" r="0.62" fill="#4a4a4a"/>
<circle cx="79.91" cy="195.88" r="0.62" fill="#4a4a4a"/>
<circle cx="84.81" cy="195.88" r="0.62" fill="#4a4a4a"/>
<circle cx="89.71" cy="195.88" r="0.62" fill="#4a4a4a"/>
<circle cx="94.61" cy="195.88" r="0.62" fill="#4a4a4a"/>
<circle cx="99.51" cy="195.88" r="0.62" fill="#4a4a4a"/>
<circle cx="104.41" cy="195.88" r="0.62" fill="#4a4a4a"/>
<circle cx="109.31" cy="195.88" r="0.62" fill="#4a4a4a"/>
<circle cx="60.31" cy="202.62" r="0.62" fill="#4a4a4a"/>
<circle cx="70.11" cy="202.62" r="0.62" fill="#4a4a4a"/>
<circle cx="75.01" cy="202.62" r="0.62" fill="#4a4a4a"/>
<circle cx="79.91" cy="202.62" r="0.62" fill="#4a4a4a"/>
<circle cx="84.81" cy="202.62" r="0.62" fill="#4a4a4a"/>
<circle cx="89.71" cy="202.62" r="0.62" fill="#4a4a4a"/>
<circle cx="94.61" cy="202.62" r="0.62" fill="#4a4a4a"/>
<circle cx="99.51" cy="202.62" r="0.62" fill="#4a4a4a"/>
<circle cx="104.41" cy="202.62" r="0.62" fill="#4a4a4a"/>
<circle cx="109.31" cy="202.62" r="0.62" fill="#4a4a4a"/>
<circle cx="60.31" cy="209.38" r="0.62" fill="#4a4a4a"/>
<circle cx="70.11" cy="209.38" r="0.62" fill="#4a4a4a"/>
<circle cx="75.01" cy="209.38" r="0.62" fill="#4a4a4a"/>
<circle cx="79.91" cy="209.38" r="0.62" fill="#4a4a4a"/>
<circle cx="84.81" cy="209.38" r="0.62" fill="#4a4a4a"/>
<circle cx="89.71" cy="209.38" r="0.62" fill="#4a4a4a"/>
<circle cx="94.61" cy="209.38" r="0.62" fill="#4a4a4a"/>
<circle cx="99.51" cy="209.38" r="0.62" fill="#4a4a4a"/>
<circle cx="104.41" cy="209.38" r="0.62" fill="#4a4a4a"/>
<circle cx="109.31" cy="209.38" r="0.62" fill="#4a4a4a"/>
<circle cx="60.31" cy="216.12" r="0.62" fill="#4a4a4a"/>
<circle cx="70.11" cy="216.12" r="0.62" fill="#4a4a4a"/>
<circle cx="75.01" cy="216.12" r="0.62" fill="#4a4a4a"/>
<circle cx="79.91" cy="216.12" r="0.62" fill="#4a4a4a"/>
<circle cx="84.81" cy="216.12" r="0.62" fill="#4a4a4a"/>
<circle cx="89.71" cy="216.12" r="0.62" fill="#4a4a4a"/>
<circle cx="94.61" cy="216.12" r="0.62" fill="#4a4a4a"/>
<circle cx="99.51" cy="216.12" r="0.62" fill="#4a4a4a"/>
<circle cx="104.41" cy="216.12" r="0.62" fill="#4a4a4a"/>
<circle cx="109.31" cy="216.12" r="0.62" fill="#4a4a4a"/>
<circle cx="60.31" cy="222.88" r="0.62" fill="#4a4a4a"/>
<circle cx="70.11" cy="222.88" r="0.62" fill="#4a4a4a"/>
<circle cx="75.01" cy="222.88" r="0.62" fill="#4a4a4a"/>
<circle cx="79.91" cy="222.88" r="0.62" fill="#4a4a4a"/>
<circle cx="84.81" cy="222.88" r="0.62" fill="#4a4a4a"/>
<circle cx="89.71" cy="222.88" r="0.62" fill="#4a4a4a"/>
<circle cx="94.61" cy="222.88" r="0.62" fill="#4a4a4a"/>
<circle cx="99.51" cy="222.88" r="0.62" fill="#4a4a4a"/>
<circle cx="104.41" cy="222.88" r="0.62" fill="#4a4a4a"/>
<circle cx="109.31" cy="222.88" r="0.62" fill="#4a4a4a"/>
<rect x="57.86" y="179.00" width="53.90" height="47.25" fill="none" stroke="#6f6f6f" stroke-width="0.9" rx="0.8"/>
<rect x="57.86" y="229.50" width="5.30" height="5.50" fill="#7cc5dc" />
<rect x="62.76" y="229.50" width="5.30" height="5.50" fill="#0d4f67" />
<rect x="67.66" y="229.50" width="5.30" height="5.50" fill="#a5c85b" />
<rect x="72.56" y="229.50" width="5.30" height="5.50" fill="#6a9c4d" />
<rect x="77.46" y="229.50" width="5.30" height="5.50" fill="#3a6a40" />
<rect x="82.36" y="229.50" width="5.30" height="5.50" fill="#fdf0aa" />
<rect x="87.26" y="229.50" width="5.30" height="5.50" fill="#e5a23e" />
<rect x="92.16" y="229.50" width="5.30" height="5.50" fill="#a62f35" />
<rect x="97.06" y="229.50" width="5.30" height="5.50" fill="#5a0e16" />
<rect x="101.96" y="229.50" width="5.30" height="5.50" fill="#94678a" />
<rect x="106.86" y="229.50" width="4.90" height="5.50" fill="#6a1f3d" />
<path d="M62.76,229.5V235 M67.66,229.5V235 M72.56,229.5V235 M77.46,229.5V235 M82.36,229.5V235 M87.26,229.5V235 M92.16,229.5V235 M97.06,229.5V235 M101.96,229.5V235 M106.86,229.5V235" stroke="#2a2a2a" stroke-width="0.45"/>
<rect x="57.86" y="229.5" width="53.90" height="5.5" fill="none" stroke="#444" stroke-width="0.55"/>
<text x="84.81" y="62.60" font-size="7.6" text-anchor="middle" >Ag. presenting</text>
<text x="84.81" y="71.20" font-size="7.6" text-anchor="middle" >molecules</text>
<line x1="57.86" y1="74.6" x2="111.76" y2="74.6" stroke="#8a8a8a" stroke-width="0.9"/>
<rect x="115.22" y="82.00" width="5.40" height="7.25" fill="#e6eff8" />
<rect x="120.12" y="82.00" width="5.40" height="7.25" fill="#e6eff8" />
<rect x="125.02" y="82.00" width="5.40" height="7.25" fill="#e6eff8" />
<rect x="129.92" y="82.00" width="5.40" height="7.25" fill="#fef2c2" />
<rect x="134.82" y="82.00" width="5.40" height="7.25" fill="#fef2c2" />
<rect x="139.72" y="82.00" width="5.40" height="7.25" fill="#e6eff8" />
<rect x="144.62" y="82.00" width="5.40" height="7.25" fill="#e6eff8" />
<rect x="149.52" y="82.00" width="5.40" height="7.25" fill="#e6eff8" />
<rect x="154.42" y="82.00" width="5.40" height="7.25" fill="#fef2c2" />
<rect x="159.32" y="82.00" width="5.40" height="7.25" fill="#fef2c2" />
<rect x="164.22" y="82.00" width="4.90" height="7.25" fill="#fef2c2" />
<rect x="115.22" y="88.75" width="5.40" height="7.25" fill="#fef2c2" />
<rect x="120.12" y="88.75" width="5.40" height="7.25" fill="#f8f8f7" />
<rect x="125.02" y="88.75" width="5.40" height="7.25" fill="#fef2c2" />
<rect x="129.92" y="88.75" width="5.40" height="7.25" fill="#e6eff8" />
<rect x="134.82" y="88.75" width="5.40" height="7.25" fill="#fef2c2" />
<rect x="139.72" y="88.75" width="5.40" height="7.25" fill="#e6eff8" />
<rect x="144.62" y="88.75" width="5.40" height="7.25" fill="#fef2c2" />
<rect x="149.52" y="88.75" width="5.40" height="7.25" fill="#e6eff8" />
<rect x="154.42" y="88.75" width="5.40" height="7.25" fill="#e6eff8" />
<rect x="159.32" y="88.75" width="5.40" height="7.25" fill="#fef2c2" />
<rect x="164.22" y="88.75" width="4.90" height="7.25" fill="#cddff0" />
<rect x="115.22" y="95.50" width="5.40" height="7.25" fill="#e6eff8" />
<rect x="120.12" y="95.50" width="5.40" height="7.25" fill="#fde39c" />
<rect x="125.02" y="95.50" width="5.40" height="7.25" fill="#f8f8f7" />
<rect x="129.92" y="95.50" width="5.40" height="7.25" fill="#fde39c" />
<rect x="134.82" y="95.50" width="5.40" height="7.25" fill="#e6eff8" />
<rect x="139.72" y="95.50" width="5.40" height="7.25" fill="#fccb70" />
<rect x="144.62" y="95.50" width="5.40" height="7.25" fill="#fef2c2" />
<rect x="149.52" y="95.50" width="5.40" height="7.25" fill="#fde39c" />
<rect x="154.42" y="95.50" width="5.40" height="7.25" fill="#e6eff8" />
<rect x="159.32" y="95.50" width="5.40" height="7.25" fill="#cddff0" />
<rect x="164.22" y="95.50" width="4.90" height="7.25" fill="#cddff0" />
<rect x="115.22" y="102.25" width="5.40" height="6.75" fill="#fef2c2" />
<rect x="120.12" y="102.25" width="5.40" height="6.75" fill="#cddff0" />
<rect x="125.02" y="102.25" width="5.40" height="6.75" fill="#fef2c2" />
<rect x="129.92" y="102.25" width="5.40" height="6.75" fill="#e6eff8" />
<rect x="134.82" y="102.25" width="5.40" height="6.75" fill="#fef2c2" />
<rect x="139.72" y="102.25" width="5.40" height="6.75" fill="#cddff0" />
<rect x="144.62" y="102.25" width="5.40" height="6.75" fill="#e6eff8" />
<rect x="149.52" y="102.25" width="5.40" height="6.75" fill="#e6eff8" />
<rect x="154.42" y="102.25" width="5.40" height="6.75" fill="#fde39c" />
<rect x="159.32" y="102.25" width="5.40" height="6.75" fill="#fde39c" />
<rect x="164.22" y="102.25" width="4.90" height="6.75" fill="#fccb70" />
<circle cx="156.87" cy="92.12" r="0.62" fill="#4a4a4a"/>
<circle cx="166.67" cy="92.12" r="0.62" fill="#4a4a4a"/>
<rect x="115.22" y="82.00" width="53.90" height="27.00" fill="none" stroke="#6f6f6f" stroke-width="0.9" rx="0.8"/>
<rect x="115.22" y="113.00" width="5.40" height="7.25" fill="#e6eff8" />
<rect x="120.12" y="113.00" width="5.40" height="7.25" fill="#fef2c2" />
<rect x="125.02" y="113.00" width="5.40" height="7.25" fill="#f8f8f7" />
<rect x="129.92" y="113.00" width="5.40" height="7.25" fill="#cddff0" />
<rect x="134.82" y="113.00" width="5.40" height="7.25" fill="#e6eff8" />
<rect x="139.72" y="113.00" width="5.40" height="7.25" fill="#e6eff8" />
<rect x="144.62" y="113.00" width="5.40" height="7.25" fill="#e6eff8" />
<rect x="149.52" y="113.00" width="5.40" height="7.25" fill="#e6eff8" />
<rect x="154.42" y="113.00" width="5.40" height="7.25" fill="#e6eff8" />
<rect x="159.32" y="113.00" width="5.40" height="7.25" fill="#cddff0" />
<rect x="164.22" y="113.00" width="4.90" height="7.25" fill="#e6eff8" />
<rect x="115.22" y="119.75" width="5.40" height="7.25" fill="#e6eff8" />
<rect x="120.12" y="119.75" width="5.40" height="7.25" fill="#e6eff8" />
<rect x="125.02" y="119.75" width="5.40" height="7.25" fill="#e6eff8" />
<rect x="129.92" y="119.75" width="5.40" height="7.25" fill="#cddff0" />
<rect x="134.82" y="119.75" width="5.40" height="7.25" fill="#e6eff8" />
<rect x="139.72" y="119.75" width="5.40" height="7.25" fill="#e6eff8" />
<rect x="144.62" y="119.75" width="5.40" height="7.25" fill="#e6eff8" />
<rect x="149.52" y="119.75" width="5.40" height="7.25" fill="#e6eff8" />
<rect x="154.42" y="119.75" width="5.40" height="7.25" fill="#e6eff8" />
<rect x="159.32" y="119.75" width="5.40" height="7.25" fill="#e6eff8" />
<rect x="164.22" y="119.75" width="4.90" height="7.25" fill="#e6eff8" />
<rect x="115.22" y="126.50" width="5.40" height="7.25" fill="#e6eff8" />
<rect x="120.12" y="126.50" width="5.40" height="7.25" fill="#e6eff8" />
<rect x="125.02" y="126.50" width="5.40" height="7.25" fill="#e6eff8" />
<rect x="129.92" y="126.50" width="5.40" height="7.25" fill="#f8f8f7" />
<rect x="134.82" y="126.50" width="5.40" height="7.25" fill="#fccb70" />
<rect x="139.72" y="126.50" width="5.40" height="7.25" fill="#fef2c2" />
<rect x="144.62" y="126.50" width="5.40" height="7.25" fill="#e6eff8" />
<rect x="149.52" y="126.50" width="5.40" height="7.25" fill="#fef2c2" />
<rect x="154.42" y="126.50" width="5.40" height="7.25" fill="#cddff0" />
<rect x="159.32" y="126.50" width="5.40" height="7.25" fill="#92bfdf" />
<rect x="164.22" y="126.50" width="4.90" height="7.25" fill="#92bfdf" />
<rect x="115.22" y="133.25" width="5.40" height="6.75" fill="#cddff0" />
<rect x="120.12" y="133.25" width="5.40" height="6.75" fill="#fef2c2" />
<rect x="125.02" y="133.25" width="5.40" height="6.75" fill="#f8f8f7" />
<rect x="129.92" y="133.25" width="5.40" height="6.75" fill="#f8f8f7" />
<rect x="134.82" y="133.25" width="5.40" height="6.75" fill="#e6eff8" />
<rect x="139.72" y="133.25" width="5.40" height="6.75" fill="#e6eff8" />
<rect x="144.62" y="133.25" width="5.40" height="6.75" fill="#e6eff8" />
<rect x="149.52" y="133.25" width="5.40" height="6.75" fill="#e6eff8" />
<rect x="154.42" y="133.25" width="5.40" height="6.75" fill="#cddff0" />
<rect x="159.32" y="133.25" width="5.40" height="6.75" fill="#92bfdf" />
<rect x="164.22" y="133.25" width="4.90" height="6.75" fill="#4b8ec5" />
<circle cx="132.37" cy="116.38" r="0.62" fill="#4a4a4a"/>
<circle cx="127.47" cy="123.12" r="0.62" fill="#4a4a4a"/>
<circle cx="132.37" cy="123.12" r="0.62" fill="#4a4a4a"/>
<circle cx="142.17" cy="123.12" r="0.62" fill="#4a4a4a"/>
<circle cx="151.97" cy="123.12" r="0.62" fill="#4a4a4a"/>
<circle cx="166.67" cy="123.12" r="0.62" fill="#4a4a4a"/>
<circle cx="137.27" cy="129.88" r="0.62" fill="#4a4a4a"/>
<circle cx="156.87" cy="129.88" r="0.62" fill="#4a4a4a"/>
<circle cx="161.77" cy="129.88" r="0.62" fill="#4a4a4a"/>
<circle cx="166.67" cy="129.88" r="0.62" fill="#4a4a4a"/>
<circle cx="166.67" cy="136.62" r="0.62" fill="#4a4a4a"/>
<rect x="115.22" y="113.00" width="53.90" height="27.00" fill="none" stroke="#6f6f6f" stroke-width="0.9" rx="0.8"/>
<rect x="115.22" y="144.20" width="5.40" height="6.75" fill="#e6eff8" />
<rect x="120.12" y="144.20" width="5.40" height="6.75" fill="#fef2c2" />
<rect x="125.02" y="144.20" width="5.40" height="6.75" fill="#e6eff8" />
<rect x="129.92" y="144.20" width="5.40" height="6.75" fill="#cddff0" />
<rect x="134.82" y="144.20" width="5.40" height="6.75" fill="#e6eff8" />
<rect x="139.72" y="144.20" width="5.40" height="6.75" fill="#e6eff8" />
<rect x="144.62" y="144.20" width="5.40" height="6.75" fill="#e6eff8" />
<rect x="149.52" y="144.20" width="5.40" height="6.75" fill="#f8f8f7" />
<rect x="154.42" y="144.20" width="5.40" height="6.75" fill="#f8f8f7" />
<rect x="159.32" y="144.20" width="5.40" height="6.75" fill="#e6eff8" />
<rect x="164.22" y="144.20" width="4.90" height="6.75" fill="#e6eff8" />
<rect x="115.22" y="144.20" width="53.90" height="6.75" fill="none" stroke="#6f6f6f" stroke-width="0.9" rx="0.8"/>
<rect x="115.22" y="154.60" width="5.40" height="7.25" fill="#fde39c" />
<rect x="120.12" y="154.60" width="5.40" height="7.25" fill="#fef2c2" />
<rect x="125.02" y="154.60" width="5.40" height="7.25" fill="#fde39c" />
<rect x="129.92" y="154.60" width="5.40" height="7.25" fill="#fde39c" />
<rect x="134.82" y="154.60" width="5.40" height="7.25" fill="#fde39c" />
<rect x="139.72" y="154.60" width="5.40" height="7.25" fill="#fef2c2" />
<rect x="144.62" y="154.60" width="5.40" height="7.25" fill="#fccb70" />
<rect x="149.52" y="154.60" width="5.40" height="7.25" fill="#fde39c" />
<rect x="154.42" y="154.60" width="5.40" height="7.25" fill="#fde39c" />
<rect x="159.32" y="154.60" width="5.40" height="7.25" fill="#fde39c" />
<rect x="164.22" y="154.60" width="4.90" height="7.25" fill="#fde39c" />
<rect x="115.22" y="161.35" width="5.40" height="7.25" fill="#fde39c" />
<rect x="120.12" y="161.35" width="5.40" height="7.25" fill="#cddff0" />
<rect x="125.02" y="161.35" width="5.40" height="7.25" fill="#e6eff8" />
<rect x="129.92" y="161.35" width="5.40" height="7.25" fill="#fde39c" />
<rect x="134.82" y="161.35" width="5.40" height="7.25" fill="#e6eff8" />
<rect x="139.72" y="161.35" width="5.40" height="7.25" fill="#e6eff8" />
<rect x="144.62" y="161.35" width="5.40" height="7.25" fill="#e6eff8" />
<rect x="149.52" y="161.35" width="5.40" height="7.25" fill="#e6eff8" />
<rect x="154.42" y="161.35" width="5.40" height="7.25" fill="#e6eff8" />
<rect x="159.32" y="161.35" width="5.40" height="7.25" fill="#e6eff8" />
<rect x="164.22" y="161.35" width="4.90" height="7.25" fill="#e6eff8" />
<rect x="115.22" y="168.10" width="5.40" height="6.75" fill="#e6eff8" />
<rect x="120.12" y="168.10" width="5.40" height="6.75" fill="#e6eff8" />
<rect x="125.02" y="168.10" width="5.40" height="6.75" fill="#fef2c2" />
<rect x="129.92" y="168.10" width="5.40" height="6.75" fill="#fef2c2" />
<rect x="134.82" y="168.10" width="5.40" height="6.75" fill="#fef2c2" />
<rect x="139.72" y="168.10" width="5.40" height="6.75" fill="#fef2c2" />
<rect x="144.62" y="168.10" width="5.40" height="6.75" fill="#e6eff8" />
<rect x="149.52" y="168.10" width="5.40" height="6.75" fill="#fef2c2" />
<rect x="154.42" y="168.10" width="5.40" height="6.75" fill="#fef2c2" />
<rect x="159.32" y="168.10" width="5.40" height="6.75" fill="#fef2c2" />
<rect x="164.22" y="168.10" width="4.90" height="6.75" fill="#fef2c2" />
<rect x="115.22" y="154.60" width="53.90" height="20.25" fill="none" stroke="#6f6f6f" stroke-width="0.9" rx="0.8"/>
<rect x="115.22" y="179.00" width="5.40" height="7.25" fill="#fde39c" />
<rect x="120.12" y="179.00" width="5.40" height="7.25" fill="#f8f8f7" />
<rect x="125.02" y="179.00" width="5.40" height="7.25" fill="#fde39c" />
<rect x="129.92" y="179.00" width="5.40" height="7.25" fill="#fde39c" />
<rect x="134.82" y="179.00" width="5.40" height="7.25" fill="#fde39c" />
<rect x="139.72" y="179.00" width="5.40" height="7.25" fill="#fef2c2" />
<rect x="144.62" y="179.00" width="5.40" height="7.25" fill="#fde39c" />
<rect x="149.52" y="179.00" width="5.40" height="7.25" fill="#fde39c" />
<rect x="154.42" y="179.00" width="5.40" height="7.25" fill="#fde39c" />
<rect x="159.32" y="179.00" width="5.40" height="7.25" fill="#fde39c" />
<rect x="164.22" y="179.00" width="4.90" height="7.25" fill="#fde39c" />
<rect x="115.22" y="185.75" width="5.40" height="7.25" fill="#fde39c" />
<rect x="120.12" y="185.75" width="5.40" height="7.25" fill="#fde39c" />
<rect x="125.02" y="185.75" width="5.40" height="7.25" fill="#e6eff8" />
<rect x="129.92" y="185.75" width="5.40" height="7.25" fill="#fef2c2" />
<rect x="134.82" y="185.75" width="5.40" height="7.25" fill="#e6eff8" />
<rect x="139.72" y="185.75" width="5.40" height="7.25" fill="#e6eff8" />
<rect x="144.62" y="185.75" width="5.40" height="7.25" fill="#fef2c2" />
<rect x="149.52" y="185.75" width="5.40" height="7.25" fill="#fef2c2" />
<rect x="154.42" y="185.75" width="5.40" height="7.25" fill="#e6eff8" />
<rect x="159.32" y="185.75" width="5.40" height="7.25" fill="#cddff0" />
<rect x="164.22" y="185.75" width="4.90" height="7.25" fill="#e6eff8" />
<rect x="115.22" y="192.50" width="5.40" height="7.25" fill="#cddff0" />
<rect x="120.12" y="192.50" width="5.40" height="7.25" fill="#e6eff8" />
<rect x="125.02" y="192.50" width="5.40" height="7.25" fill="#e6eff8" />
<rect x="129.92" y="192.50" width="5.40" height="7.25" fill="#fef2c2" />
<rect x="134.82" y="192.50" width="5.40" height="7.25" fill="#e6eff8" />
<rect x="139.72" y="192.50" width="5.40" height="7.25" fill="#e6eff8" />
<rect x="144.62" y="192.50" width="5.40" height="7.25" fill="#e6eff8" />
<rect x="149.52" y="192.50" width="5.40" height="7.25" fill="#fef2c2" />
<rect x="154.42" y="192.50" width="5.40" height="7.25" fill="#e6eff8" />
<rect x="159.32" y="192.50" width="5.40" height="7.25" fill="#cddff0" />
<rect x="164.22" y="192.50" width="4.90" height="7.25" fill="#cddff0" />
<rect x="115.22" y="199.25" width="5.40" height="7.25" fill="#cddff0" />
<rect x="120.12" y="199.25" width="5.40" height="7.25" fill="#fde39c" />
<rect x="125.02" y="199.25" width="5.40" height="7.25" fill="#fef2c2" />
<rect x="129.92" y="199.25" width="5.40" height="7.25" fill="#fef2c2" />
<rect x="134.82" y="199.25" width="5.40" height="7.25" fill="#fde39c" />
<rect x="139.72" y="199.25" width="5.40" height="7.25" fill="#e6eff8" />
<rect x="144.62" y="199.25" width="5.40" height="7.25" fill="#e6eff8" />
<rect x="149.52" y="199.25" width="5.40" height="7.25" fill="#e6eff8" />
<rect x="154.42" y="199.25" width="5.40" height="7.25" fill="#e6eff8" />
<rect x="159.32" y="199.25" width="5.40" height="7.25" fill="#cddff0" />
<rect x="164.22" y="199.25" width="4.90" height="7.25" fill="#cddff0" />
<rect x="115.22" y="206.00" width="5.40" height="7.25" fill="#cddff0" />
<rect x="120.12" y="206.00" width="5.40" height="7.25" fill="#e6eff8" />
<rect x="125.02" y="206.00" width="5.40" height="7.25" fill="#e6eff8" />
<rect x="129.92" y="206.00" width="5.40" height="7.25" fill="#e6eff8" />
<rect x="134.82" y="206.00" width="5.40" height="7.25" fill="#fef2c2" />
<rect x="139.72" y="206.00" width="5.40" height="7.25" fill="#e6eff8" />
<rect x="144.62" y="206.00" width="5.40" height="7.25" fill="#e6eff8" />
<rect x="149.52" y="206.00" width="5.40" height="7.25" fill="#e6eff8" />
<rect x="154.42" y="206.00" width="5.40" height="7.25" fill="#e6eff8" />
<rect x="159.32" y="206.00" width="5.40" height="7.25" fill="#fde39c" />
<rect x="164.22" y="206.00" width="4.90" height="7.25" fill="#cddff0" />
<rect x="115.22" y="212.75" width="5.40" height="7.25" fill="#cddff0" />
<rect x="120.12" y="212.75" width="5.40" height="7.25" fill="#f8f8f7" />
<rect x="125.02" y="212.75" width="5.40" height="7.25" fill="#e6eff8" />
<rect x="129.92" y="212.75" width="5.40" height="7.25" fill="#e6eff8" />
<rect x="134.82" y="212.75" width="5.40" height="7.25" fill="#e6eff8" />
<rect x="139.72" y="212.75" width="5.40" height="7.25" fill="#e6eff8" />
<rect x="144.62" y="212.75" width="5.40" height="7.25" fill="#e6eff8" />
<rect x="149.52" y="212.75" width="5.40" height="7.25" fill="#e6eff8" />
<rect x="154.42" y="212.75" width="5.40" height="7.25" fill="#e6eff8" />
<rect x="159.32" y="212.75" width="5.40" height="7.25" fill="#e6eff8" />
<rect x="164.22" y="212.75" width="4.90" height="7.25" fill="#cddff0" />
<rect x="115.22" y="219.50" width="5.40" height="6.75" fill="#cddff0" />
<rect x="120.12" y="219.50" width="5.40" height="6.75" fill="#e6eff8" />
<rect x="125.02" y="219.50" width="5.40" height="6.75" fill="#fef2c2" />
<rect x="129.92" y="219.50" width="5.40" height="6.75" fill="#e6eff8" />
<rect x="134.82" y="219.50" width="5.40" height="6.75" fill="#fef2c2" />
<rect x="139.72" y="219.50" width="5.40" height="6.75" fill="#e6eff8" />
<rect x="144.62" y="219.50" width="5.40" height="6.75" fill="#e6eff8" />
<rect x="149.52" y="219.50" width="5.40" height="6.75" fill="#e6eff8" />
<rect x="154.42" y="219.50" width="5.40" height="6.75" fill="#e6eff8" />
<rect x="159.32" y="219.50" width="5.40" height="6.75" fill="#e6eff8" />
<rect x="164.22" y="219.50" width="4.90" height="6.75" fill="#cddff0" />
<circle cx="156.87" cy="182.38" r="0.62" fill="#4a4a4a"/>
<circle cx="137.27" cy="189.12" r="0.62" fill="#4a4a4a"/>
<circle cx="147.07" cy="189.12" r="0.62" fill="#4a4a4a"/>
<circle cx="151.97" cy="189.12" r="0.62" fill="#4a4a4a"/>
<circle cx="156.87" cy="189.12" r="0.62" fill="#4a4a4a"/>
<circle cx="161.77" cy="189.12" r="0.62" fill="#4a4a4a"/>
<circle cx="117.67" cy="195.88" r="0.62" fill="#4a4a4a"/>
<circle cx="156.87" cy="195.88" r="0.62" fill="#4a4a4a"/>
<circle cx="166.67" cy="195.88" r="0.62" fill="#4a4a4a"/>
<circle cx="166.67" cy="202.62" r="0.62" fill="#4a4a4a"/>
<circle cx="117.67" cy="209.38" r="0.62" fill="#4a4a4a"/>
<circle cx="142.17" cy="209.38" r="0.62" fill="#4a4a4a"/>
<circle cx="147.07" cy="209.38" r="0.62" fill="#4a4a4a"/>
<circle cx="117.67" cy="216.12" r="0.62" fill="#4a4a4a"/>
<circle cx="166.67" cy="216.12" r="0.62" fill="#4a4a4a"/>
<circle cx="117.67" cy="222.88" r="0.62" fill="#4a4a4a"/>
<circle cx="142.17" cy="222.88" r="0.62" fill="#4a4a4a"/>
<circle cx="166.67" cy="222.88" r="0.62" fill="#4a4a4a"/>
<rect x="115.22" y="179.00" width="53.90" height="47.25" fill="none" stroke="#6f6f6f" stroke-width="0.9" rx="0.8"/>
<rect x="115.22" y="229.50" width="5.30" height="5.50" fill="#7cc5dc" />
<rect x="120.12" y="229.50" width="5.30" height="5.50" fill="#0d4f67" />
<rect x="125.02" y="229.50" width="5.30" height="5.50" fill="#a5c85b" />
<rect x="129.92" y="229.50" width="5.30" height="5.50" fill="#6a9c4d" />
<rect x="134.82" y="229.50" width="5.30" height="5.50" fill="#3a6a40" />
<rect x="139.72" y="229.50" width="5.30" height="5.50" fill="#fdf0aa" />
<rect x="144.62" y="229.50" width="5.30" height="5.50" fill="#e5a23e" />
<rect x="149.52" y="229.50" width="5.30" height="5.50" fill="#a62f35" />
<rect x="154.42" y="229.50" width="5.30" height="5.50" fill="#5a0e16" />
<rect x="159.32" y="229.50" width="5.30" height="5.50" fill="#94678a" />
<rect x="164.22" y="229.50" width="4.90" height="5.50" fill="#6a1f3d" />
<path d="M120.12,229.5V235 M125.02,229.5V235 M129.92,229.5V235 M134.82,229.5V235 M139.72,229.5V235 M144.62,229.5V235 M149.52,229.5V235 M154.42,229.5V235 M159.32,229.5V235 M164.22,229.5V235" stroke="#2a2a2a" stroke-width="0.45"/>
<rect x="115.22" y="229.5" width="53.90" height="5.5" fill="none" stroke="#444" stroke-width="0.55"/>
<text x="142.17" y="62.60" font-size="7.6" text-anchor="middle" >Pro-inflamm</text>
<text x="142.17" y="71.20" font-size="7.6" text-anchor="middle" >cytokines and R</text>
<line x1="115.22" y1="74.6" x2="169.12" y2="74.6" stroke="#8a8a8a" stroke-width="0.9"/>
<rect x="172.58" y="82.00" width="5.40" height="7.25" fill="#e6eff8" />
<rect x="177.48" y="82.00" width="5.40" height="7.25" fill="#fef2c2" />
<rect x="182.38" y="82.00" width="5.40" height="7.25" fill="#e6eff8" />
<rect x="187.28" y="82.00" width="5.40" height="7.25" fill="#fef2c2" />
<rect x="192.18" y="82.00" width="5.40" height="7.25" fill="#fef2c2" />
<rect x="197.08" y="82.00" width="5.40" height="7.25" fill="#f8f8f7" />
<rect x="201.98" y="82.00" width="5.40" height="7.25" fill="#e6eff8" />
<rect x="206.88" y="82.00" width="5.40" height="7.25" fill="#e6eff8" />
<rect x="211.78" y="82.00" width="5.40" height="7.25" fill="#e6eff8" />
<rect x="216.68" y="82.00" width="5.40" height="7.25" fill="#e6eff8" />
<rect x="221.58" y="82.00" width="4.90" height="7.25" fill="#e6eff8" />
<rect x="172.58" y="88.75" width="5.40" height="7.25" fill="#e6eff8" />
<rect x="177.48" y="88.75" width="5.40" height="7.25" fill="#f8f8f7" />
<rect x="182.38" y="88.75" width="5.40" height="7.25" fill="#e6eff8" />
<rect x="187.28" y="88.75" width="5.40" height="7.25" fill="#fef2c2" />
<rect x="192.18" y="88.75" width="5.40" height="7.25" fill="#fef2c2" />
<rect x="197.08" y="88.75" width="5.40" height="7.25" fill="#fef2c2" />
<rect x="201.98" y="88.75" width="5.40" height="7.25" fill="#fef2c2" />
<rect x="206.88" y="88.75" width="5.40" height="7.25" fill="#fef2c2" />
<rect x="211.78" y="88.75" width="5.40" height="7.25" fill="#e6eff8" />
<rect x="216.68" y="88.75" width="5.40" height="7.25" fill="#fef2c2" />
<rect x="221.58" y="88.75" width="4.90" height="7.25" fill="#e6eff8" />
<rect x="172.58" y="95.50" width="5.40" height="7.25" fill="#fccb70" />
<rect x="177.48" y="95.50" width="5.40" height="7.25" fill="#fde39c" />
<rect x="182.38" y="95.50" width="5.40" height="7.25" fill="#f8f8f7" />
<rect x="187.28" y="95.50" width="5.40" height="7.25" fill="#cddff0" />
<rect x="192.18" y="95.50" width="5.40" height="7.25" fill="#fde39c" />
<rect x="197.08" y="95.50" width="5.40" height="7.25" fill="#cddff0" />
<rect x="201.98" y="95.50" width="5.40" height="7.25" fill="#cddff0" />
<rect x="206.88" y="95.50" width="5.40" height="7.25" fill="#cddff0" />
<rect x="211.78" y="95.50" width="5.40" height="7.25" fill="#fef2c2" />
<rect x="216.68" y="95.50" width="5.40" height="7.25" fill="#e6eff8" />
<rect x="221.58" y="95.50" width="4.90" height="7.25" fill="#fde39c" />
<rect x="172.58" y="102.25" width="5.40" height="6.75" fill="#fef2c2" />
<rect x="177.48" y="102.25" width="5.40" height="6.75" fill="#e6eff8" />
<rect x="182.38" y="102.25" width="5.40" height="6.75" fill="#e6eff8" />
<rect x="187.28" y="102.25" width="5.40" height="6.75" fill="#e6eff8" />
<rect x="192.18" y="102.25" width="5.40" height="6.75" fill="#e6eff8" />
<rect x="197.08" y="102.25" width="5.40" height="6.75" fill="#fde39c" />
<rect x="201.98" y="102.25" width="5.40" height="6.75" fill="#e6eff8" />
<rect x="206.88" y="102.25" width="5.40" height="6.75" fill="#fef2c2" />
<rect x="211.78" y="102.25" width="5.40" height="6.75" fill="#e6eff8" />
<rect x="216.68" y="102.25" width="5.40" height="6.75" fill="#e6eff8" />
<rect x="221.58" y="102.25" width="4.90" height="6.75" fill="#f8f8f7" />
<rect x="172.58" y="82.00" width="53.90" height="27.00" fill="none" stroke="#6f6f6f" stroke-width="0.9" rx="0.8"/>
<rect x="172.58" y="113.00" width="5.40" height="7.25" fill="#cddff0" />
<rect x="177.48" y="113.00" width="5.40" height="7.25" fill="#fef2c2" />
<rect x="182.38" y="113.00" width="5.40" height="7.25" fill="#f8f8f7" />
<rect x="187.28" y="113.00" width="5.40" height="7.25" fill="#fde39c" />
<rect x="192.18" y="113.00" width="5.40" height="7.25" fill="#e6eff8" />
<rect x="197.08" y="113.00" width="5.40" height="7.25" fill="#e6eff8" />
<rect x="201.98" y="113.00" width="5.40" height="7.25" fill="#e6eff8" />
<rect x="206.88" y="113.00" width="5.40" height="7.25" fill="#e6eff8" />
<rect x="211.78" y="113.00" width="5.40" height="7.25" fill="#e6eff8" />
<rect x="216.68" y="113.00" width="5.40" height="7.25" fill="#cddff0" />
<rect x="221.58" y="113.00" width="4.90" height="7.25" fill="#e6eff8" />
<rect x="172.58" y="119.75" width="5.40" height="7.25" fill="#e6eff8" />
<rect x="177.48" y="119.75" width="5.40" height="7.25" fill="#fef2c2" />
<rect x="182.38" y="119.75" width="5.40" height="7.25" fill="#e6eff8" />
<rect x="187.28" y="119.75" width="5.40" height="7.25" fill="#fef2c2" />
<rect x="192.18" y="119.75" width="5.40" height="7.25" fill="#e6eff8" />
<rect x="197.08" y="119.75" width="5.40" height="7.25" fill="#fef2c2" />
<rect x="201.98" y="119.75" width="5.40" height="7.25" fill="#fef2c2" />
<rect x="206.88" y="119.75" width="5.40" height="7.25" fill="#e6eff8" />
<rect x="211.78" y="119.75" width="5.40" height="7.25" fill="#e6eff8" />
<rect x="216.68" y="119.75" width="5.40" height="7.25" fill="#e6eff8" />
<rect x="221.58" y="119.75" width="4.90" height="7.25" fill="#e6eff8" />
<rect x="172.58" y="126.50" width="5.40" height="7.25" fill="#fef2c2" />
<rect x="177.48" y="126.50" width="5.40" height="7.25" fill="#fef2c2" />
<rect x="182.38" y="126.50" width="5.40" height="7.25" fill="#fde39c" />
<rect x="187.28" y="126.50" width="5.40" height="7.25" fill="#92bfdf" />
<rect x="192.18" y="126.50" width="5.40" height="7.25" fill="#e6eff8" />
<rect x="197.08" y="126.50" width="5.40" height="7.25" fill="#cddff0" />
<rect x="201.98" y="126.50" width="5.40" height="7.25" fill="#cddff0" />
<rect x="206.88" y="126.50" width="5.40" height="7.25" fill="#e6eff8" />
<rect x="211.78" y="126.50" width="5.40" height="7.25" fill="#fef2c2" />
<rect x="216.68" y="126.50" width="5.40" height="7.25" fill="#cddff0" />
<rect x="221.58" y="126.50" width="4.90" height="7.25" fill="#fef2c2" />
<rect x="172.58" y="133.25" width="5.40" height="6.75" fill="#cddff0" />
<rect x="177.48" y="133.25" width="5.40" height="6.75" fill="#fde39c" />
<rect x="182.38" y="133.25" width="5.40" height="6.75" fill="#f8f8f7" />
<rect x="187.28" y="133.25" width="5.40" height="6.75" fill="#f8f8f7" />
<rect x="192.18" y="133.25" width="5.40" height="6.75" fill="#e6eff8" />
<rect x="197.08" y="133.25" width="5.40" height="6.75" fill="#e6eff8" />
<rect x="201.98" y="133.25" width="5.40" height="6.75" fill="#e6eff8" />
<rect x="206.88" y="133.25" width="5.40" height="6.75" fill="#e6eff8" />
<rect x="211.78" y="133.25" width="5.40" height="6.75" fill="#e6eff8" />
<rect x="216.68" y="133.25" width="5.40" height="6.75" fill="#cddff0" />
<rect x="221.58" y="133.25" width="4.90" height="6.75" fill="#e6eff8" />
<circle cx="175.03" cy="116.38" r="0.62" fill="#4a4a4a"/>
<circle cx="189.73" cy="116.38" r="0.62" fill="#4a4a4a"/>
<circle cx="224.03" cy="123.12" r="0.62" fill="#4a4a4a"/>
<circle cx="199.53" cy="129.88" r="0.62" fill="#4a4a4a"/>
<circle cx="204.43" cy="129.88" r="0.62" fill="#4a4a4a"/>
<rect x="172.58" y="113.00" width="53.90" height="27.00" fill="none" stroke="#6f6f6f" stroke-width="0.9" rx="0.8"/>
<rect x="172.58" y="144.20" width="5.40" height="6.75" fill="#e6eff8" />
<rect x="177.48" y="144.20" width="5.40" height="6.75" fill="#fef2c2" />
<rect x="182.38" y="144.20" width="5.40" height="6.75" fill="#e6eff8" />
<rect x="187.28" y="144.20" width="5.40" height="6.75" fill="#fef2c2" />
<rect x="192.18" y="144.20" width="5.40" height="6.75" fill="#e6eff8" />
<rect x="197.08" y="144.20" width="5.40" height="6.75" fill="#fef2c2" />
<rect x="201.98" y="144.20" width="5.40" height="6.75" fill="#e6eff8" />
<rect x="206.88" y="144.20" width="5.40" height="6.75" fill="#e6eff8" />
<rect x="211.78" y="144.20" width="5.40" height="6.75" fill="#e6eff8" />
<rect x="216.68" y="144.20" width="5.40" height="6.75" fill="#e6eff8" />
<rect x="221.58" y="144.20" width="4.90" height="6.75" fill="#e6eff8" />
<circle cx="175.03" cy="147.57" r="0.62" fill="#4a4a4a"/>
<rect x="172.58" y="144.20" width="53.90" height="6.75" fill="none" stroke="#6f6f6f" stroke-width="0.9" rx="0.8"/>
<rect x="172.58" y="154.60" width="5.40" height="7.25" fill="#fde39c" />
<rect x="177.48" y="154.60" width="5.40" height="7.25" fill="#fef2c2" />
<rect x="182.38" y="154.60" width="5.40" height="7.25" fill="#fef2c2" />
<rect x="187.28" y="154.60" width="5.40" height="7.25" fill="#fde39c" />
<rect x="192.18" y="154.60" width="5.40" height="7.25" fill="#e6eff8" />
<rect x="197.08" y="154.60" width="5.40" height="7.25" fill="#fde39c" />
<rect x="201.98" y="154.60" width="5.40" height="7.25" fill="#fde39c" />
<rect x="206.88" y="154.60" width="5.40" height="7.25" fill="#fde39c" />
<rect x="211.78" y="154.60" width="5.40" height="7.25" fill="#fef2c2" />
<rect x="216.68" y="154.60" width="5.40" height="7.25" fill="#fef2c2" />
<rect x="221.58" y="154.60" width="4.90" height="7.25" fill="#e6eff8" />
<rect x="172.58" y="161.35" width="5.40" height="7.25" fill="#e6eff8" />
<rect x="177.48" y="161.35" width="5.40" height="7.25" fill="#fde39c" />
<rect x="182.38" y="161.35" width="5.40" height="7.25" fill="#e6eff8" />
<rect x="187.28" y="161.35" width="5.40" height="7.25" fill="#fef2c2" />
<rect x="192.18" y="161.35" width="5.40" height="7.25" fill="#e6eff8" />
<rect x="197.08" y="161.35" width="5.40" height="7.25" fill="#fde39c" />
<rect x="201.98" y="161.35" width="5.40" height="7.25" fill="#fef2c2" />
<rect x="206.88" y="161.35" width="5.40" height="7.25" fill="#fef2c2" />
<rect x="211.78" y="161.35" width="5.40" height="7.25" fill="#fef2c2" />
<rect x="216.68" y="161.35" width="5.40" height="7.25" fill="#fef2c2" />
<rect x="221.58" y="161.35" width="4.90" height="7.25" fill="#e6eff8" />
<rect x="172.58" y="168.10" width="5.40" height="6.75" fill="#fef2c2" />
<rect x="177.48" y="168.10" width="5.40" height="6.75" fill="#e6eff8" />
<rect x="182.38" y="168.10" width="5.40" height="6.75" fill="#fef2c2" />
<rect x="187.28" y="168.10" width="5.40" height="6.75" fill="#e6eff8" />
<rect x="192.18" y="168.10" width="5.40" height="6.75" fill="#fef2c2" />
<rect x="197.08" y="168.10" width="5.40" height="6.75" fill="#fef2c2" />
<rect x="201.98" y="168.10" width="5.40" height="6.75" fill="#fef2c2" />
<rect x="206.88" y="168.10" width="5.40" height="6.75" fill="#fef2c2" />
<rect x="211.78" y="168.10" width="5.40" height="6.75" fill="#fef2c2" />
<rect x="216.68" y="168.10" width="5.40" height="6.75" fill="#fef2c2" />
<rect x="221.58" y="168.10" width="4.90" height="6.75" fill="#fef2c2" />
<rect x="172.58" y="154.60" width="53.90" height="20.25" fill="none" stroke="#6f6f6f" stroke-width="0.9" rx="0.8"/>
<rect x="172.58" y="179.00" width="5.40" height="7.25" fill="#fde39c" />
<rect x="177.48" y="179.00" width="5.40" height="7.25" fill="#f8f8f7" />
<rect x="182.38" y="179.00" width="5.40" height="7.25" fill="#e6eff8" />
<rect x="187.28" y="179.00" width="5.40" height="7.25" fill="#fef2c2" />
<rect x="192.18" y="179.00" width="5.40" height="7.25" fill="#e6eff8" />
<rect x="197.08" y="179.00" width="5.40" height="7.25" fill="#fde39c" />
<rect x="201.98" y="179.00" width="5.40" height="7.25" fill="#fde39c" />
<rect x="206.88" y="179.00" width="5.40" height="7.25" fill="#fde39c" />
<rect x="211.78" y="179.00" width="5.40" height="7.25" fill="#fde39c" />
<rect x="216.68" y="179.00" width="5.40" height="7.25" fill="#fef2c2" />
<rect x="221.58" y="179.00" width="4.90" height="7.25" fill="#fde39c" />
<rect x="172.58" y="185.75" width="5.40" height="7.25" fill="#e6eff8" />
<rect x="177.48" y="185.75" width="5.40" height="7.25" fill="#fef2c2" />
<rect x="182.38" y="185.75" width="5.40" height="7.25" fill="#fef2c2" />
<rect x="187.28" y="185.75" width="5.40" height="7.25" fill="#fde39c" />
<rect x="192.18" y="185.75" width="5.40" height="7.25" fill="#fef2c2" />
<rect x="197.08" y="185.75" width="5.40" height="7.25" fill="#fef2c2" />
<rect x="201.98" y="185.75" width="5.40" height="7.25" fill="#fef2c2" />
<rect x="206.88" y="185.75" width="5.40" height="7.25" fill="#fef2c2" />
<rect x="211.78" y="185.75" width="5.40" height="7.25" fill="#fef2c2" />
<rect x="216.68" y="185.75" width="5.40" height="7.25" fill="#e6eff8" />
<rect x="221.58" y="185.75" width="4.90" height="7.25" fill="#f8f8f7" />
<rect x="172.58" y="192.50" width="5.40" height="7.25" fill="#e6eff8" />
<rect x="177.48" y="192.50" width="5.40" height="7.25" fill="#fde39c" />
<rect x="182.38" y="192.50" width="5.40" height="7.25" fill="#fef2c2" />
<rect x="187.28" y="192.50" width="5.40" height="7.25" fill="#e6eff8" />
<rect x="192.18" y="192.50" width="5.40" height="7.25" fill="#fef2c2" />
<rect x="197.08" y="192.50" width="5.40" height="7.25" fill="#fef2c2" />
<rect x="201.98" y="192.50" width="5.40" height="7.25" fill="#fef2c2" />
<rect x="206.88" y="192.50" width="5.40" height="7.25" fill="#e6eff8" />
<rect x="211.78" y="192.50" width="5.40" height="7.25" fill="#fef2c2" />
<rect x="216.68" y="192.50" width="5.40" height="7.25" fill="#e6eff8" />
<rect x="221.58" y="192.50" width="4.90" height="7.25" fill="#e6eff8" />
<rect x="172.58" y="199.25" width="5.40" height="7.25" fill="#e6eff8" />
<rect x="177.48" y="199.25" width="5.40" height="7.25" fill="#fde39c" />
<rect x="182.38" y="199.25" width="5.40" height="7.25" fill="#e6eff8" />
<rect x="187.28" y="199.25" width="5.40" height="7.25" fill="#e6eff8" />
<rect x="192.18" y="199.25" width="5.40" height="7.25" fill="#e6eff8" />
<rect x="197.08" y="199.25" width="5.40" height="7.25" fill="#e6eff8" />
<rect x="201.98" y="199.25" width="5.40" height="7.25" fill="#e6eff8" />
<rect x="206.88" y="199.25" width="5.40" height="7.25" fill="#e6eff8" />
<rect x="211.78" y="199.25" width="5.40" height="7.25" fill="#fef2c2" />
<rect x="216.68" y="199.25" width="5.40" height="7.25" fill="#e6eff8" />
<rect x="221.58" y="199.25" width="4.90" height="7.25" fill="#e6eff8" />
<rect x="172.58" y="206.00" width="5.40" height="7.25" fill="#e6eff8" />
<rect x="177.48" y="206.00" width="5.40" height="7.25" fill="#fde39c" />
<rect x="182.38" y="206.00" width="5.40" height="7.25" fill="#e6eff8" />
<rect x="187.28" y="206.00" width="5.40" height="7.25" fill="#e6eff8" />
<rect x="192.18" y="206.00" width="5.40" height="7.25" fill="#e6eff8" />
<rect x="197.08" y="206.00" width="5.40" height="7.25" fill="#fef2c2" />
<rect x="201.98" y="206.00" width="5.40" height="7.25" fill="#fef2c2" />
<rect x="206.88" y="206.00" width="5.40" height="7.25" fill="#e6eff8" />
<rect x="211.78" y="206.00" width="5.40" height="7.25" fill="#e6eff8" />
<rect x="216.68" y="206.00" width="5.40" height="7.25" fill="#fef2c2" />
<rect x="221.58" y="206.00" width="4.90" height="7.25" fill="#cddff0" />
<rect x="172.58" y="212.75" width="5.40" height="7.25" fill="#e6eff8" />
<rect x="177.48" y="212.75" width="5.40" height="7.25" fill="#f8f8f7" />
<rect x="182.38" y="212.75" width="5.40" height="7.25" fill="#e6eff8" />
<rect x="187.28" y="212.75" width="5.40" height="7.25" fill="#e6eff8" />
<rect x="192.18" y="212.75" width="5.40" height="7.25" fill="#e6eff8" />
<rect x="197.08" y="212.75" width="5.40" height="7.25" fill="#e6eff8" />
<rect x="201.98" y="212.75" width="5.40" height="7.25" fill="#e6eff8" />
<rect x="206.88" y="212.75" width="5.40" height="7.25" fill="#e6eff8" />
<rect x="211.78" y="212.75" width="5.40" height="7.25" fill="#e6eff8" />
<rect x="216.68" y="212.75" width="5.40" height="7.25" fill="#e6eff8" />
<rect x="221.58" y="212.75" width="4.90" height="7.25" fill="#cddff0" />
<rect x="172.58" y="219.50" width="5.40" height="6.75" fill="#e6eff8" />
<rect x="177.48" y="219.50" width="5.40" height="6.75" fill="#fde39c" />
<rect x="182.38" y="219.50" width="5.40" height="6.75" fill="#e6eff8" />
<rect x="187.28" y="219.50" width="5.40" height="6.75" fill="#e6eff8" />
<rect x="192.18" y="219.50" width="5.40" height="6.75" fill="#e6eff8" />
<rect x="197.08" y="219.50" width="5.40" height="6.75" fill="#fef2c2" />
<rect x="201.98" y="219.50" width="5.40" height="6.75" fill="#fef2c2" />
<rect x="206.88" y="219.50" width="5.40" height="6.75" fill="#e6eff8" />
<rect x="211.78" y="219.50" width="5.40" height="6.75" fill="#e6eff8" />
<rect x="216.68" y="219.50" width="5.40" height="6.75" fill="#e6eff8" />
<rect x="221.58" y="219.50" width="4.90" height="6.75" fill="#cddff0" />
<circle cx="199.53" cy="182.38" r="0.62" fill="#4a4a4a"/>
<circle cx="204.43" cy="182.38" r="0.62" fill="#4a4a4a"/>
<circle cx="175.03" cy="189.12" r="0.62" fill="#4a4a4a"/>
<circle cx="184.83" cy="189.12" r="0.62" fill="#4a4a4a"/>
<circle cx="189.73" cy="189.12" r="0.62" fill="#4a4a4a"/>
<circle cx="199.53" cy="189.12" r="0.62" fill="#4a4a4a"/>
<circle cx="204.43" cy="189.12" r="0.62" fill="#4a4a4a"/>
<circle cx="219.13" cy="189.12" r="0.62" fill="#4a4a4a"/>
<circle cx="175.03" cy="195.88" r="0.62" fill="#4a4a4a"/>
<circle cx="224.03" cy="195.88" r="0.62" fill="#4a4a4a"/>
<circle cx="224.03" cy="202.62" r="0.62" fill="#4a4a4a"/>
<circle cx="224.03" cy="209.38" r="0.62" fill="#4a4a4a"/>
<circle cx="194.63" cy="216.12" r="0.62" fill="#4a4a4a"/>
<circle cx="224.03" cy="216.12" r="0.62" fill="#4a4a4a"/>
<circle cx="224.03" cy="222.88" r="0.62" fill="#4a4a4a"/>
<rect x="172.58" y="179.00" width="53.90" height="47.25" fill="none" stroke="#6f6f6f" stroke-width="0.9" rx="0.8"/>
<rect x="172.58" y="229.50" width="5.30" height="5.50" fill="#7cc5dc" />
<rect x="177.48" y="229.50" width="5.30" height="5.50" fill="#0d4f67" />
<rect x="182.38" y="229.50" width="5.30" height="5.50" fill="#a5c85b" />
<rect x="187.28" y="229.50" width="5.30" height="5.50" fill="#6a9c4d" />
<rect x="192.18" y="229.50" width="5.30" height="5.50" fill="#3a6a40" />
<rect x="197.08" y="229.50" width="5.30" height="5.50" fill="#fdf0aa" />
<rect x="201.98" y="229.50" width="5.30" height="5.50" fill="#e5a23e" />
<rect x="206.88" y="229.50" width="5.30" height="5.50" fill="#a62f35" />
<rect x="211.78" y="229.50" width="5.30" height="5.50" fill="#5a0e16" />
<rect x="216.68" y="229.50" width="5.30" height="5.50" fill="#94678a" />
<rect x="221.58" y="229.50" width="4.90" height="5.50" fill="#6a1f3d" />
<path d="M177.48,229.5V235 M182.38,229.5V235 M187.28,229.5V235 M192.18,229.5V235 M197.08,229.5V235 M201.98,229.5V235 M206.88,229.5V235 M211.78,229.5V235 M216.68,229.5V235 M221.58,229.5V235" stroke="#2a2a2a" stroke-width="0.45"/>
<rect x="172.58" y="229.5" width="53.90" height="5.5" fill="none" stroke="#444" stroke-width="0.55"/>
<text x="199.53" y="62.60" font-size="7.6" text-anchor="middle" >Anti-inflamm</text>
<text x="199.53" y="71.20" font-size="7.6" text-anchor="middle" >cytokines and R</text>
<line x1="172.58" y1="74.6" x2="226.48" y2="74.6" stroke="#8a8a8a" stroke-width="0.9"/>
<rect x="229.94" y="82.00" width="5.40" height="7.25" fill="#e6eff8" />
<rect x="234.84" y="82.00" width="5.40" height="7.25" fill="#e6eff8" />
<rect x="239.74" y="82.00" width="5.40" height="7.25" fill="#fef2c2" />
<rect x="244.64" y="82.00" width="5.40" height="7.25" fill="#fef2c2" />
<rect x="249.54" y="82.00" width="5.40" height="7.25" fill="#fef2c2" />
<rect x="254.44" y="82.00" width="5.40" height="7.25" fill="#e6eff8" />
<rect x="259.34" y="82.00" width="5.40" height="7.25" fill="#e6eff8" />
<rect x="264.24" y="82.00" width="5.40" height="7.25" fill="#fde39c" />
<rect x="269.14" y="82.00" width="5.40" height="7.25" fill="#e6eff8" />
<rect x="274.04" y="82.00" width="5.40" height="7.25" fill="#e6eff8" />
<rect x="278.94" y="82.00" width="4.90" height="7.25" fill="#cddff0" />
<rect x="229.94" y="88.75" width="5.40" height="7.25" fill="#fde39c" />
<rect x="234.84" y="88.75" width="5.40" height="7.25" fill="#f8f8f7" />
<rect x="239.74" y="88.75" width="5.40" height="7.25" fill="#fde39c" />
<rect x="244.64" y="88.75" width="5.40" height="7.25" fill="#e6eff8" />
<rect x="249.54" y="88.75" width="5.40" height="7.25" fill="#cddff0" />
<rect x="254.44" y="88.75" width="5.40" height="7.25" fill="#fde39c" />
<rect x="259.34" y="88.75" width="5.40" height="7.25" fill="#f8f8f7" />
<rect x="264.24" y="88.75" width="5.40" height="7.25" fill="#fde39c" />
<rect x="269.14" y="88.75" width="5.40" height="7.25" fill="#f8f8f7" />
<rect x="274.04" y="88.75" width="5.40" height="7.25" fill="#fef2c2" />
<rect x="278.94" y="88.75" width="4.90" height="7.25" fill="#fef2c2" />
<rect x="229.94" y="95.50" width="5.40" height="7.25" fill="#4b8ec5" />
<rect x="234.84" y="95.50" width="5.40" height="7.25" fill="#92bfdf" />
<rect x="239.74" y="95.50" width="5.40" height="7.25" fill="#f8f8f7" />
<rect x="244.64" y="95.50" width="5.40" height="7.25" fill="#cddff0" />
<rect x="249.54" y="95.50" width="5.40" height="7.25" fill="#f8f8f7" />
<rect x="254.44" y="95.50" width="5.40" height="7.25" fill="#4b8ec5" />
<rect x="259.34" y="95.50" width="5.40" height="7.25" fill="#92bfdf" />
<rect x="264.24" y="95.50" width="5.40" height="7.25" fill="#e6eff8" />
<rect x="269.14" y="95.50" width="5.40" height="7.25" fill="#92bfdf" />
<rect x="274.04" y="95.50" width="5.40" height="7.25" fill="#cddff0" />
<rect x="278.94" y="95.50" width="4.90" height="7.25" fill="#cddff0" />
<rect x="229.94" y="102.25" width="5.40" height="6.75" fill="#f8f8f7" />
<rect x="234.84" y="102.25" width="5.40" height="6.75" fill="#cddff0" />
<rect x="239.74" y="102.25" width="5.40" height="6.75" fill="#92bfdf" />
<rect x="244.64" y="102.25" width="5.40" height="6.75" fill="#92bfdf" />
<rect x="249.54" y="102.25" width="5.40" height="6.75" fill="#92bfdf" />
<rect x="254.44" y="102.25" width="5.40" height="6.75" fill="#e6eff8" />
<rect x="259.34" y="102.25" width="5.40" height="6.75" fill="#e6eff8" />
<rect x="264.24" y="102.25" width="5.40" height="6.75" fill="#fef2c2" />
<rect x="269.14" y="102.25" width="5.40" height="6.75" fill="#e6eff8" />
<rect x="274.04" y="102.25" width="5.40" height="6.75" fill="#e6eff8" />
<rect x="278.94" y="102.25" width="4.90" height="6.75" fill="#e6eff8" />
<circle cx="232.39" cy="92.12" r="0.62" fill="#4a4a4a"/>
<circle cx="266.69" cy="92.12" r="0.62" fill="#4a4a4a"/>
<rect x="229.94" y="82.00" width="53.90" height="27.00" fill="none" stroke="#6f6f6f" stroke-width="0.9" rx="0.8"/>
<rect x="229.94" y="113.00" width="5.40" height="7.25" fill="#fef2c2" />
<rect x="234.84" y="113.00" width="5.40" height="7.25" fill="#fef2c2" />
<rect x="239.74" y="113.00" width="5.40" height="7.25" fill="#f8f8f7" />
<rect x="244.64" y="113.00" width="5.40" height="7.25" fill="#fccb70" />
<rect x="249.54" y="113.00" width="5.40" height="7.25" fill="#fccb70" />
<rect x="254.44" y="113.00" width="5.40" height="7.25" fill="#fef2c2" />
<rect x="259.34" y="113.00" width="5.40" height="7.25" fill="#fef2c2" />
<rect x="264.24" y="113.00" width="5.40" height="7.25" fill="#e6eff8" />
<rect x="269.14" y="113.00" width="5.40" height="7.25" fill="#fef2c2" />
<rect x="274.04" y="113.00" width="5.40" height="7.25" fill="#fccb70" />
<rect x="278.94" y="113.00" width="4.90" height="7.25" fill="#e6eff8" />
<rect x="229.94" y="119.75" width="5.40" height="7.25" fill="#fde39c" />
<rect x="234.84" y="119.75" width="5.40" height="7.25" fill="#fef2c2" />
<rect x="239.74" y="119.75" width="5.40" height="7.25" fill="#fef2c2" />
<rect x="244.64" y="119.75" width="5.40" height="7.25" fill="#fde39c" />
<rect x="249.54" y="119.75" width="5.40" height="7.25" fill="#fccb70" />
<rect x="254.44" y="119.75" width="5.40" height="7.25" fill="#fef2c2" />
<rect x="259.34" y="119.75" width="5.40" height="7.25" fill="#fef2c2" />
<rect x="264.24" y="119.75" width="5.40" height="7.25" fill="#fef2c2" />
<rect x="269.14" y="119.75" width="5.40" height="7.25" fill="#fef2c2" />
<rect x="274.04" y="119.75" width="5.40" height="7.25" fill="#fde39c" />
<rect x="278.94" y="119.75" width="4.90" height="7.25" fill="#fef2c2" />
<rect x="229.94" y="126.50" width="5.40" height="7.25" fill="#92bfdf" />
<rect x="234.84" y="126.50" width="5.40" height="7.25" fill="#163f80" />
<rect x="239.74" y="126.50" width="5.40" height="7.25" fill="#fbb054" />
<rect x="244.64" y="126.50" width="5.40" height="7.25" fill="#cddff0" />
<rect x="249.54" y="126.50" width="5.40" height="7.25" fill="#4b8ec5" />
<rect x="254.44" y="126.50" width="5.40" height="7.25" fill="#92bfdf" />
<rect x="259.34" y="126.50" width="5.40" height="7.25" fill="#92bfdf" />
<rect x="264.24" y="126.50" width="5.40" height="7.25" fill="#fef2c2" />
<rect x="269.14" y="126.50" width="5.40" height="7.25" fill="#92bfdf" />
<rect x="274.04" y="126.50" width="5.40" height="7.25" fill="#cddff0" />
<rect x="278.94" y="126.50" width="4.90" height="7.25" fill="#92bfdf" />
<rect x="229.94" y="133.25" width="5.40" height="6.75" fill="#fde39c" />
<rect x="234.84" y="133.25" width="5.40" height="6.75" fill="#fef2c2" />
<rect x="239.74" y="133.25" width="5.40" height="6.75" fill="#f8f8f7" />
<rect x="244.64" y="133.25" width="5.40" height="6.75" fill="#f8f8f7" />
<rect x="249.54" y="133.25" width="5.40" height="6.75" fill="#fef2c2" />
<rect x="254.44" y="133.25" width="5.40" height="6.75" fill="#fde39c" />
<rect x="259.34" y="133.25" width="5.40" height="6.75" fill="#fef2c2" />
<rect x="264.24" y="133.25" width="5.40" height="6.75" fill="#fef2c2" />
<rect x="269.14" y="133.25" width="5.40" height="6.75" fill="#cddff0" />
<rect x="274.04" y="133.25" width="5.40" height="6.75" fill="#cddff0" />
<rect x="278.94" y="133.25" width="4.90" height="6.75" fill="#cddff0" />
<circle cx="232.39" cy="123.12" r="0.62" fill="#4a4a4a"/>
<circle cx="242.19" cy="123.12" r="0.62" fill="#4a4a4a"/>
<circle cx="247.09" cy="123.12" r="0.62" fill="#4a4a4a"/>
<circle cx="251.99" cy="123.12" r="0.62" fill="#4a4a4a"/>
<circle cx="256.89" cy="123.12" r="0.62" fill="#4a4a4a"/>
<circle cx="266.69" cy="123.12" r="0.62" fill="#4a4a4a"/>
<circle cx="276.49" cy="123.12" r="0.62" fill="#4a4a4a"/>
<circle cx="232.39" cy="129.88" r="0.62" fill="#4a4a4a"/>
<circle cx="237.29" cy="129.88" r="0.62" fill="#4a4a4a"/>
<circle cx="256.89" cy="129.88" r="0.62" fill="#4a4a4a"/>
<rect x="229.94" y="113.00" width="53.90" height="27.00" fill="none" stroke="#6f6f6f" stroke-width="0.9" rx="0.8"/>
<rect x="229.94" y="144.20" width="5.40" height="6.75" fill="#fef2c2" />
<rect x="234.84" y="144.20" width="5.40" height="6.75" fill="#fde39c" />
<rect x="239.74" y="144.20" width="5.40" height="6.75" fill="#e6eff8" />
<rect x="244.64" y="144.20" width="5.40" height="6.75" fill="#fef2c2" />
<rect x="249.54" y="144.20" width="5.40" height="6.75" fill="#fef2c2" />
<rect x="254.44" y="144.20" width="5.40" height="6.75" fill="#fef2c2" />
<rect x="259.34" y="144.20" width="5.40" height="6.75" fill="#fef2c2" />
<rect x="264.24" y="144.20" width="5.40" height="6.75" fill="#e6eff8" />
<rect x="269.14" y="144.20" width="5.40" height="6.75" fill="#fef2c2" />
<rect x="274.04" y="144.20" width="5.40" height="6.75" fill="#fde39c" />
<rect x="278.94" y="144.20" width="4.90" height="6.75" fill="#e6eff8" />
<rect x="229.94" y="144.20" width="53.90" height="6.75" fill="none" stroke="#6f6f6f" stroke-width="0.9" rx="0.8"/>
<rect x="229.94" y="154.60" width="5.40" height="7.25" fill="#fde39c" />
<rect x="234.84" y="154.60" width="5.40" height="7.25" fill="#fde39c" />
<rect x="239.74" y="154.60" width="5.40" height="7.25" fill="#fde39c" />
<rect x="244.64" y="154.60" width="5.40" height="7.25" fill="#fccb70" />
<rect x="249.54" y="154.60" width="5.40" height="7.25" fill="#fde39c" />
<rect x="254.44" y="154.60" width="5.40" height="7.25" fill="#fde39c" />
<rect x="259.34" y="154.60" width="5.40" height="7.25" fill="#fde39c" />
<rect x="264.24" y="154.60" width="5.40" height="7.25" fill="#fde39c" />
<rect x="269.14" y="154.60" width="5.40" height="7.25" fill="#fde39c" />
<rect x="274.04" y="154.60" width="5.40" height="7.25" fill="#fccb70" />
<rect x="278.94" y="154.60" width="4.90" height="7.25" fill="#fde39c" />
<rect x="229.94" y="161.35" width="5.40" height="7.25" fill="#fde39c" />
<rect x="234.84" y="161.35" width="5.40" height="7.25" fill="#fde39c" />
<rect x="239.74" y="161.35" width="5.40" height="7.25" fill="#fef2c2" />
<rect x="244.64" y="161.35" width="5.40" height="7.25" fill="#fde39c" />
<rect x="249.54" y="161.35" width="5.40" height="7.25" fill="#fde39c" />
<rect x="254.44" y="161.35" width="5.40" height="7.25" fill="#fef2c2" />
<rect x="259.34" y="161.35" width="5.40" height="7.25" fill="#fef2c2" />
<rect x="264.24" y="161.35" width="5.40" height="7.25" fill="#fef2c2" />
<rect x="269.14" y="161.35" width="5.40" height="7.25" fill="#fde39c" />
<rect x="274.04" y="161.35" width="5.40" height="7.25" fill="#fde39c" />
<rect x="278.94" y="161.35" width="4.90" height="7.25" fill="#fde39c" />
<rect x="229.94" y="168.10" width="5.40" height="6.75" fill="#cddff0" />
<rect x="234.84" y="168.10" width="5.40" height="6.75" fill="#fde39c" />
<rect x="239.74" y="168.10" width="5.40" height="6.75" fill="#e6eff8" />
<rect x="244.64" y="168.10" width="5.40" height="6.75" fill="#cddff0" />
<rect x="249.54" y="168.10" width="5.40" height="6.75" fill="#cddff0" />
<rect x="254.44" y="168.10" width="5.40" height="6.75" fill="#e6eff8" />
<rect x="259.34" y="168.10" width="5.40" height="6.75" fill="#fef2c2" />
<rect x="264.24" y="168.10" width="5.40" height="6.75" fill="#f8f8f7" />
<rect x="269.14" y="168.10" width="5.40" height="6.75" fill="#fef2c2" />
<rect x="274.04" y="168.10" width="5.40" height="6.75" fill="#fef2c2" />
<rect x="278.94" y="168.10" width="4.90" height="6.75" fill="#fef2c2" />
<rect x="229.94" y="154.60" width="53.90" height="20.25" fill="none" stroke="#6f6f6f" stroke-width="0.9" rx="0.8"/>
<rect x="229.94" y="179.00" width="5.40" height="7.25" fill="#cddff0" />
<rect x="234.84" y="179.00" width="5.40" height="7.25" fill="#f8f8f7" />
<rect x="239.74" y="179.00" width="5.40" height="7.25" fill="#e6eff8" />
<rect x="244.64" y="179.00" width="5.40" height="7.25" fill="#e6eff8" />
<rect x="249.54" y="179.00" width="5.40" height="7.25" fill="#e6eff8" />
<rect x="254.44" y="179.00" width="5.40" height="7.25" fill="#e6eff8" />
<rect x="259.34" y="179.00" width="5.40" height="7.25" fill="#e6eff8" />
<rect x="264.24" y="179.00" width="5.40" height="7.25" fill="#e6eff8" />
<rect x="269.14" y="179.00" width="5.40" height="7.25" fill="#e6eff8" />
<rect x="274.04" y="179.00" width="5.40" height="7.25" fill="#e6eff8" />
<rect x="278.94" y="179.00" width="4.90" height="7.25" fill="#e6eff8" />
<rect x="229.94" y="185.75" width="5.40" height="7.25" fill="#fde39c" />
<rect x="234.84" y="185.75" width="5.40" height="7.25" fill="#fde39c" />
<rect x="239.74" y="185.75" width="5.40" height="7.25" fill="#fde39c" />
<rect x="244.64" y="185.75" width="5.40" height="7.25" fill="#fde39c" />
<rect x="249.54" y="185.75" width="5.40" height="7.25" fill="#fde39c" />
<rect x="254.44" y="185.75" width="5.40" height="7.25" fill="#fde39c" />
<rect x="259.34" y="185.75" width="5.40" height="7.25" fill="#fde39c" />
<rect x="264.24" y="185.75" width="5.40" height="7.25" fill="#fde39c" />
<rect x="269.14" y="185.75" width="5.40" height="7.25" fill="#fde39c" />
<rect x="274.04" y="185.75" width="5.40" height="7.25" fill="#f8f8f7" />
<rect x="278.94" y="185.75" width="4.90" height="7.25" fill="#fde39c" />
<rect x="229.94" y="192.50" width="5.40" height="7.25" fill="#e6eff8" />
<rect x="234.84" y="192.50" width="5.40" height="7.25" fill="#e6eff8" />
<rect x="239.74" y="192.50" width="5.40" height="7.25" fill="#fef2c2" />
<rect x="244.64" y="192.50" width="5.40" height="7.25" fill="#fef2c2" />
<rect x="249.54" y="192.50" width="5.40" height="7.25" fill="#e6eff8" />
<rect x="254.44" y="192.50" width="5.40" height="7.25" fill="#fef2c2" />
<rect x="259.34" y="192.50" width="5.40" height="7.25" fill="#fef2c2" />
<rect x="264.24" y="192.50" width="5.40" height="7.25" fill="#fde39c" />
<rect x="269.14" y="192.50" width="5.40" height="7.25" fill="#fef2c2" />
<rect x="274.04" y="192.50" width="5.40" height="7.25" fill="#fde39c" />
<rect x="278.94" y="192.50" width="4.90" height="7.25" fill="#fef2c2" />
<rect x="229.94" y="199.25" width="5.40" height="7.25" fill="#e6eff8" />
<rect x="234.84" y="199.25" width="5.40" height="7.25" fill="#e6eff8" />
<rect x="239.74" y="199.25" width="5.40" height="7.25" fill="#fef2c2" />
<rect x="244.64" y="199.25" width="5.40" height="7.25" fill="#fef2c2" />
<rect x="249.54" y="199.25" width="5.40" height="7.25" fill="#cddff0" />
<rect x="254.44" y="199.25" width="5.40" height="7.25" fill="#fef2c2" />
<rect x="259.34" y="199.25" width="5.40" height="7.25" fill="#fef2c2" />
<rect x="264.24" y="199.25" width="5.40" height="7.25" fill="#fde39c" />
<rect x="269.14" y="199.25" width="5.40" height="7.25" fill="#fef2c2" />
<rect x="274.04" y="199.25" width="5.40" height="7.25" fill="#fde39c" />
<rect x="278.94" y="199.25" width="4.90" height="7.25" fill="#fef2c2" />
<rect x="229.94" y="206.00" width="5.40" height="7.25" fill="#fef2c2" />
<rect x="234.84" y="206.00" width="5.40" height="7.25" fill="#e6eff8" />
<rect x="239.74" y="206.00" width="5.40" height="7.25" fill="#fef2c2" />
<rect x="244.64" y="206.00" width="5.40" height="7.25" fill="#e6eff8" />
<rect x="249.54" y="206.00" width="5.40" height="7.25" fill="#cddff0" />
<rect x="254.44" y="206.00" width="5.40" height="7.25" fill="#fef2c2" />
<rect x="259.34" y="206.00" width="5.40" height="7.25" fill="#fef2c2" />
<rect x="264.24" y="206.00" width="5.40" height="7.25" fill="#fde39c" />
<rect x="269.14" y="206.00" width="5.40" height="7.25" fill="#fef2c2" />
<rect x="274.04" y="206.00" width="5.40" height="7.25" fill="#fccb70" />
<rect x="278.94" y="206.00" width="4.90" height="7.25" fill="#fef2c2" />
<rect x="229.94" y="212.75" width="5.40" height="7.25" fill="#e6eff8" />
<rect x="234.84" y="212.75" width="5.40" height="7.25" fill="#f8f8f7" />
<rect x="239.74" y="212.75" width="5.40" height="7.25" fill="#e6eff8" />
<rect x="244.64" y="212.75" width="5.40" height="7.25" fill="#e6eff8" />
<rect x="249.54" y="212.75" width="5.40" height="7.25" fill="#cddff0" />
<rect x="254.44" y="212.75" width="5.40" height="7.25" fill="#e6eff8" />
<rect x="259.34" y="212.75" width="5.40" height="7.25" fill="#fef2c2" />
<rect x="264.24" y="212.75" width="5.40" height="7.25" fill="#fde39c" />
<rect x="269.14" y="212.75" width="5.40" height="7.25" fill="#e6eff8" />
<rect x="274.04" y="212.75" width="5.40" height="7.25" fill="#fef2c2" />
<rect x="278.94" y="212.75" width="4.90" height="7.25" fill="#e6eff8" />
<rect x="229.94" y="219.50" width="5.40" height="6.75" fill="#fef2c2" />
<rect x="234.84" y="219.50" width="5.40" height="6.75" fill="#e6eff8" />
<rect x="239.74" y="219.50" width="5.40" height="6.75" fill="#fef2c2" />
<rect x="244.64" y="219.50" width="5.40" height="6.75" fill="#e6eff8" />
<rect x="249.54" y="219.50" width="5.40" height="6.75" fill="#e6eff8" />
<rect x="254.44" y="219.50" width="5.40" height="6.75" fill="#fef2c2" />
<rect x="259.34" y="219.50" width="5.40" height="6.75" fill="#fef2c2" />
<rect x="264.24" y="219.50" width="5.40" height="6.75" fill="#fde39c" />
<rect x="269.14" y="219.50" width="5.40" height="6.75" fill="#fef2c2" />
<rect x="274.04" y="219.50" width="5.40" height="6.75" fill="#fef2c2" />
<rect x="278.94" y="219.50" width="4.90" height="6.75" fill="#f8f8f7" />
<circle cx="232.39" cy="189.12" r="0.62" fill="#4a4a4a"/>
<circle cx="242.19" cy="189.12" r="0.62" fill="#4a4a4a"/>
<circle cx="247.09" cy="189.12" r="0.62" fill="#4a4a4a"/>
<circle cx="251.99" cy="189.12" r="0.62" fill="#4a4a4a"/>
<circle cx="256.89" cy="189.12" r="0.62" fill="#4a4a4a"/>
<circle cx="261.79" cy="189.12" r="0.62" fill="#4a4a4a"/>
<circle cx="266.69" cy="189.12" r="0.62" fill="#4a4a4a"/>
<circle cx="271.59" cy="189.12" r="0.62" fill="#4a4a4a"/>
<circle cx="281.39" cy="189.12" r="0.62" fill="#4a4a4a"/>
<circle cx="266.69" cy="195.88" r="0.62" fill="#4a4a4a"/>
<circle cx="266.69" cy="202.62" r="0.62" fill="#4a4a4a"/>
<circle cx="266.69" cy="209.38" r="0.62" fill="#4a4a4a"/>
<circle cx="276.49" cy="209.38" r="0.62" fill="#4a4a4a"/>
<circle cx="266.69" cy="216.12" r="0.62" fill="#4a4a4a"/>
<circle cx="266.69" cy="222.88" r="0.62" fill="#4a4a4a"/>
<rect x="229.94" y="179.00" width="53.90" height="47.25" fill="none" stroke="#6f6f6f" stroke-width="0.9" rx="0.8"/>
<rect x="229.94" y="229.50" width="5.30" height="5.50" fill="#7cc5dc" />
<rect x="234.84" y="229.50" width="5.30" height="5.50" fill="#0d4f67" />
<rect x="239.74" y="229.50" width="5.30" height="5.50" fill="#a5c85b" />
<rect x="244.64" y="229.50" width="5.30" height="5.50" fill="#6a9c4d" />
<rect x="249.54" y="229.50" width="5.30" height="5.50" fill="#3a6a40" />
<rect x="254.44" y="229.50" width="5.30" height="5.50" fill="#fdf0aa" />
<rect x="259.34" y="229.50" width="5.30" height="5.50" fill="#e5a23e" />
<rect x="264.24" y="229.50" width="5.30" height="5.50" fill="#a62f35" />
<rect x="269.14" y="229.50" width="5.30" height="5.50" fill="#5a0e16" />
<rect x="274.04" y="229.50" width="5.30" height="5.50" fill="#94678a" />
<rect x="278.94" y="229.50" width="4.90" height="5.50" fill="#6a1f3d" />
<path d="M234.84,229.5V235 M239.74,229.5V235 M244.64,229.5V235 M249.54,229.5V235 M254.44,229.5V235 M259.34,229.5V235 M264.24,229.5V235 M269.14,229.5V235 M274.04,229.5V235 M278.94,229.5V235" stroke="#2a2a2a" stroke-width="0.45"/>
<rect x="229.94" y="229.5" width="53.90" height="5.5" fill="none" stroke="#444" stroke-width="0.55"/>
<text x="256.89" y="71.20" font-size="7.6" text-anchor="middle" >Chemokines</text>
<line x1="229.94" y1="74.6" x2="283.84" y2="74.6" stroke="#8a8a8a" stroke-width="0.9"/>
<rect x="287.30" y="82.00" width="5.40" height="7.25" fill="#fef2c2" />
<rect x="292.20" y="82.00" width="5.40" height="7.25" fill="#fccb70" />
<rect x="297.10" y="82.00" width="5.40" height="7.25" fill="#e6eff8" />
<rect x="302.00" y="82.00" width="5.40" height="7.25" fill="#cddff0" />
<rect x="306.90" y="82.00" width="5.40" height="7.25" fill="#fef2c2" />
<rect x="311.80" y="82.00" width="5.40" height="7.25" fill="#2b6aae" />
<rect x="316.70" y="82.00" width="5.40" height="7.25" fill="#fef2c2" />
<rect x="321.60" y="82.00" width="5.40" height="7.25" fill="#fef2c2" />
<rect x="326.50" y="82.00" width="5.40" height="7.25" fill="#e6eff8" />
<rect x="331.40" y="82.00" width="5.40" height="7.25" fill="#e6eff8" />
<rect x="336.30" y="82.00" width="4.90" height="7.25" fill="#92bfdf" />
<rect x="287.30" y="88.75" width="5.40" height="7.25" fill="#e6eff8" />
<rect x="292.20" y="88.75" width="5.40" height="7.25" fill="#f8f8f7" />
<rect x="297.10" y="88.75" width="5.40" height="7.25" fill="#fef2c2" />
<rect x="302.00" y="88.75" width="5.40" height="7.25" fill="#e6eff8" />
<rect x="306.90" y="88.75" width="5.40" height="7.25" fill="#e6eff8" />
<rect x="311.80" y="88.75" width="5.40" height="7.25" fill="#fde39c" />
<rect x="316.70" y="88.75" width="5.40" height="7.25" fill="#fef2c2" />
<rect x="321.60" y="88.75" width="5.40" height="7.25" fill="#e6eff8" />
<rect x="326.50" y="88.75" width="5.40" height="7.25" fill="#e6eff8" />
<rect x="331.40" y="88.75" width="5.40" height="7.25" fill="#e6eff8" />
<rect x="336.30" y="88.75" width="4.90" height="7.25" fill="#e6eff8" />
<rect x="287.30" y="95.50" width="5.40" height="7.25" fill="#cddff0" />
<rect x="292.20" y="95.50" width="5.40" height="7.25" fill="#e6eff8" />
<rect x="297.10" y="95.50" width="5.40" height="7.25" fill="#f8f8f7" />
<rect x="302.00" y="95.50" width="5.40" height="7.25" fill="#fef2c2" />
<rect x="306.90" y="95.50" width="5.40" height="7.25" fill="#fef2c2" />
<rect x="311.80" y="95.50" width="5.40" height="7.25" fill="#fef2c2" />
<rect x="316.70" y="95.50" width="5.40" height="7.25" fill="#92bfdf" />
<rect x="321.60" y="95.50" width="5.40" height="7.25" fill="#cddff0" />
<rect x="326.50" y="95.50" width="5.40" height="7.25" fill="#cddff0" />
<rect x="331.40" y="95.50" width="5.40" height="7.25" fill="#92bfdf" />
<rect x="336.30" y="95.50" width="4.90" height="7.25" fill="#fef2c2" />
<rect x="287.30" y="102.25" width="5.40" height="6.75" fill="#fde39c" />
<rect x="292.20" y="102.25" width="5.40" height="6.75" fill="#fef2c2" />
<rect x="297.10" y="102.25" width="5.40" height="6.75" fill="#fef2c2" />
<rect x="302.00" y="102.25" width="5.40" height="6.75" fill="#e6eff8" />
<rect x="306.90" y="102.25" width="5.40" height="6.75" fill="#f8f8f7" />
<rect x="311.80" y="102.25" width="5.40" height="6.75" fill="#163f80" />
<rect x="316.70" y="102.25" width="5.40" height="6.75" fill="#fef2c2" />
<rect x="321.60" y="102.25" width="5.40" height="6.75" fill="#fef2c2" />
<rect x="326.50" y="102.25" width="5.40" height="6.75" fill="#fef2c2" />
<rect x="331.40" y="102.25" width="5.40" height="6.75" fill="#fef2c2" />
<rect x="336.30" y="102.25" width="4.90" height="6.75" fill="#e6eff8" />
<circle cx="319.15" cy="98.88" r="0.62" fill="#4a4a4a"/>
<rect x="287.30" y="82.00" width="53.90" height="27.00" fill="none" stroke="#6f6f6f" stroke-width="0.9" rx="0.8"/>
<rect x="287.30" y="113.00" width="5.40" height="7.25" fill="#e6eff8" />
<rect x="292.20" y="113.00" width="5.40" height="7.25" fill="#fef2c2" />
<rect x="297.10" y="113.00" width="5.40" height="7.25" fill="#f8f8f7" />
<rect x="302.00" y="113.00" width="5.40" height="7.25" fill="#fef2c2" />
<rect x="306.90" y="113.00" width="5.40" height="7.25" fill="#fef2c2" />
<rect x="311.80" y="113.00" width="5.40" height="7.25" fill="#e6eff8" />
<rect x="316.70" y="113.00" width="5.40" height="7.25" fill="#e6eff8" />
<rect x="321.60" y="113.00" width="5.40" height="7.25" fill="#e6eff8" />
<rect x="326.50" y="113.00" width="5.40" height="7.25" fill="#fef2c2" />
<rect x="331.40" y="113.00" width="5.40" height="7.25" fill="#cddff0" />
<rect x="336.30" y="113.00" width="4.90" height="7.25" fill="#f8f8f7" />
<rect x="287.30" y="119.75" width="5.40" height="7.25" fill="#fef2c2" />
<rect x="292.20" y="119.75" width="5.40" height="7.25" fill="#e6eff8" />
<rect x="297.10" y="119.75" width="5.40" height="7.25" fill="#cddff0" />
<rect x="302.00" y="119.75" width="5.40" height="7.25" fill="#cddff0" />
<rect x="306.90" y="119.75" width="5.40" height="7.25" fill="#fef2c2" />
<rect x="311.80" y="119.75" width="5.40" height="7.25" fill="#cddff0" />
<rect x="316.70" y="119.75" width="5.40" height="7.25" fill="#e6eff8" />
<rect x="321.60" y="119.75" width="5.40" height="7.25" fill="#e6eff8" />
<rect x="326.50" y="119.75" width="5.40" height="7.25" fill="#e6eff8" />
<rect x="331.40" y="119.75" width="5.40" height="7.25" fill="#cddff0" />
<rect x="336.30" y="119.75" width="4.90" height="7.25" fill="#e6eff8" />
<rect x="287.30" y="126.50" width="5.40" height="7.25" fill="#92bfdf" />
<rect x="292.20" y="126.50" width="5.40" height="7.25" fill="#e6eff8" />
<rect x="297.10" y="126.50" width="5.40" height="7.25" fill="#cddff0" />
<rect x="302.00" y="126.50" width="5.40" height="7.25" fill="#e6eff8" />
<rect x="306.90" y="126.50" width="5.40" height="7.25" fill="#e6eff8" />
<rect x="311.80" y="126.50" width="5.40" height="7.25" fill="#fef2c2" />
<rect x="316.70" y="126.50" width="5.40" height="7.25" fill="#92bfdf" />
<rect x="321.60" y="126.50" width="5.40" height="7.25" fill="#cddff0" />
<rect x="326.50" y="126.50" width="5.40" height="7.25" fill="#cddff0" />
<rect x="331.40" y="126.50" width="5.40" height="7.25" fill="#92bfdf" />
<rect x="336.30" y="126.50" width="4.90" height="7.25" fill="#fccb70" />
<rect x="287.30" y="133.25" width="5.40" height="6.75" fill="#e6eff8" />
<rect x="292.20" y="133.25" width="5.40" height="6.75" fill="#e6eff8" />
<rect x="297.10" y="133.25" width="5.40" height="6.75" fill="#f8f8f7" />
<rect x="302.00" y="133.25" width="5.40" height="6.75" fill="#f8f8f7" />
<rect x="306.90" y="133.25" width="5.40" height="6.75" fill="#fef2c2" />
<rect x="311.80" y="133.25" width="5.40" height="6.75" fill="#163f80" />
<rect x="316.70" y="133.25" width="5.40" height="6.75" fill="#e6eff8" />
<rect x="321.60" y="133.25" width="5.40" height="6.75" fill="#92bfdf" />
<rect x="326.50" y="133.25" width="5.40" height="6.75" fill="#cddff0" />
<rect x="331.40" y="133.25" width="5.40" height="6.75" fill="#cddff0" />
<rect x="336.30" y="133.25" width="4.90" height="6.75" fill="#cddff0" />
<circle cx="289.75" cy="116.38" r="0.62" fill="#4a4a4a"/>
<circle cx="299.55" cy="123.12" r="0.62" fill="#4a4a4a"/>
<circle cx="304.45" cy="123.12" r="0.62" fill="#4a4a4a"/>
<circle cx="319.15" cy="123.12" r="0.62" fill="#4a4a4a"/>
<circle cx="324.05" cy="123.12" r="0.62" fill="#4a4a4a"/>
<circle cx="328.95" cy="123.12" r="0.62" fill="#4a4a4a"/>
<circle cx="333.85" cy="123.12" r="0.62" fill="#4a4a4a"/>
<circle cx="338.75" cy="123.12" r="0.62" fill="#4a4a4a"/>
<circle cx="289.75" cy="129.88" r="0.62" fill="#4a4a4a"/>
<circle cx="319.15" cy="129.88" r="0.62" fill="#4a4a4a"/>
<circle cx="328.95" cy="129.88" r="0.62" fill="#4a4a4a"/>
<circle cx="333.85" cy="129.88" r="0.62" fill="#4a4a4a"/>
<circle cx="314.25" cy="136.62" r="0.62" fill="#4a4a4a"/>
<circle cx="324.05" cy="136.62" r="0.62" fill="#4a4a4a"/>
<rect x="287.30" y="113.00" width="53.90" height="27.00" fill="none" stroke="#6f6f6f" stroke-width="0.9" rx="0.8"/>
<rect x="287.30" y="144.20" width="5.40" height="6.75" fill="#e6eff8" />
<rect x="292.20" y="144.20" width="5.40" height="6.75" fill="#e6eff8" />
<rect x="297.10" y="144.20" width="5.40" height="6.75" fill="#e6eff8" />
<rect x="302.00" y="144.20" width="5.40" height="6.75" fill="#e6eff8" />
<rect x="306.90" y="144.20" width="5.40" height="6.75" fill="#fef2c2" />
<rect x="311.80" y="144.20" width="5.40" height="6.75" fill="#cddff0" />
<rect x="316.70" y="144.20" width="5.40" height="6.75" fill="#e6eff8" />
<rect x="321.60" y="144.20" width="5.40" height="6.75" fill="#e6eff8" />
<rect x="326.50" y="144.20" width="5.40" height="6.75" fill="#fef2c2" />
<rect x="331.40" y="144.20" width="5.40" height="6.75" fill="#fef2c2" />
<rect x="336.30" y="144.20" width="4.90" height="6.75" fill="#fef2c2" />
<rect x="287.30" y="144.20" width="53.90" height="6.75" fill="none" stroke="#6f6f6f" stroke-width="0.9" rx="0.8"/>
<rect x="287.30" y="154.60" width="5.40" height="7.25" fill="#fde39c" />
<rect x="292.20" y="154.60" width="5.40" height="7.25" fill="#e6eff8" />
<rect x="297.10" y="154.60" width="5.40" height="7.25" fill="#fef2c2" />
<rect x="302.00" y="154.60" width="5.40" height="7.25" fill="#fef2c2" />
<rect x="306.90" y="154.60" width="5.40" height="7.25" fill="#fef2c2" />
<rect x="311.80" y="154.60" width="5.40" height="7.25" fill="#d9302a" />
<rect x="316.70" y="154.60" width="5.40" height="7.25" fill="#fef2c2" />
<rect x="321.60" y="154.60" width="5.40" height="7.25" fill="#fde39c" />
<rect x="326.50" y="154.60" width="5.40" height="7.25" fill="#fef2c2" />
<rect x="331.40" y="154.60" width="5.40" height="7.25" fill="#fef2c2" />
<rect x="336.30" y="154.60" width="4.90" height="7.25" fill="#fef2c2" />
<rect x="287.30" y="161.35" width="5.40" height="7.25" fill="#fef2c2" />
<rect x="292.20" y="161.35" width="5.40" height="7.25" fill="#fef2c2" />
<rect x="297.10" y="161.35" width="5.40" height="7.25" fill="#e6eff8" />
<rect x="302.00" y="161.35" width="5.40" height="7.25" fill="#e6eff8" />
<rect x="306.90" y="161.35" width="5.40" height="7.25" fill="#e6eff8" />
<rect x="311.80" y="161.35" width="5.40" height="7.25" fill="#d9302a" />
<rect x="316.70" y="161.35" width="5.40" height="7.25" fill="#fef2c2" />
<rect x="321.60" y="161.35" width="5.40" height="7.25" fill="#fef2c2" />
<rect x="326.50" y="161.35" width="5.40" height="7.25" fill="#fef2c2" />
<rect x="331.40" y="161.35" width="5.40" height="7.25" fill="#e6eff8" />
<rect x="336.30" y="161.35" width="4.90" height="7.25" fill="#fef2c2" />
<rect x="287.30" y="168.10" width="5.40" height="6.75" fill="#e6eff8" />
<rect x="292.20" y="168.10" width="5.40" height="6.75" fill="#e6eff8" />
<rect x="297.10" y="168.10" width="5.40" height="6.75" fill="#e6eff8" />
<rect x="302.00" y="168.10" width="5.40" height="6.75" fill="#fef2c2" />
<rect x="306.90" y="168.10" width="5.40" height="6.75" fill="#fef2c2" />
<rect x="311.80" y="168.10" width="5.40" height="6.75" fill="#e6eff8" />
<rect x="316.70" y="168.10" width="5.40" height="6.75" fill="#e6eff8" />
<rect x="321.60" y="168.10" width="5.40" height="6.75" fill="#fef2c2" />
<rect x="326.50" y="168.10" width="5.40" height="6.75" fill="#fef2c2" />
<rect x="331.40" y="168.10" width="5.40" height="6.75" fill="#fef2c2" />
<rect x="336.30" y="168.10" width="4.90" height="6.75" fill="#fef2c2" />
<rect x="287.30" y="154.60" width="53.90" height="20.25" fill="none" stroke="#6f6f6f" stroke-width="0.9" rx="0.8"/>
<rect x="287.30" y="179.00" width="5.40" height="7.25" fill="#fef2c2" />
<rect x="292.20" y="179.00" width="5.40" height="7.25" fill="#f8f8f7" />
<rect x="297.10" y="179.00" width="5.40" height="7.25" fill="#fccb70" />
<rect x="302.00" y="179.00" width="5.40" height="7.25" fill="#fccb70" />
<rect x="306.90" y="179.00" width="5.40" height="7.25" fill="#fef2c2" />
<rect x="311.80" y="179.00" width="5.40" height="7.25" fill="#4b8ec5" />
<rect x="316.70" y="179.00" width="5.40" height="7.25" fill="#fef2c2" />
<rect x="321.60" y="179.00" width="5.40" height="7.25" fill="#fef2c2" />
<rect x="326.50" y="179.00" width="5.40" height="7.25" fill="#fef2c2" />
<rect x="331.40" y="179.00" width="5.40" height="7.25" fill="#fde39c" />
<rect x="336.30" y="179.00" width="4.90" height="7.25" fill="#fef2c2" />
<rect x="287.30" y="185.75" width="5.40" height="7.25" fill="#fef2c2" />
<rect x="292.20" y="185.75" width="5.40" height="7.25" fill="#fef2c2" />
<rect x="297.10" y="185.75" width="5.40" height="7.25" fill="#fef2c2" />
<rect x="302.00" y="185.75" width="5.40" height="7.25" fill="#fef2c2" />
<rect x="306.90" y="185.75" width="5.40" height="7.25" fill="#fef2c2" />
<rect x="311.80" y="185.75" width="5.40" height="7.25" fill="#fde39c" />
<rect x="316.70" y="185.75" width="5.40" height="7.25" fill="#fef2c2" />
<rect x="321.60" y="185.75" width="5.40" height="7.25" fill="#e6eff8" />
<rect x="326.50" y="185.75" width="5.40" height="7.25" fill="#fef2c2" />
<rect x="331.40" y="185.75" width="5.40" height="7.25" fill="#e6eff8" />
<rect x="336.30" y="185.75" width="4.90" height="7.25" fill="#fef2c2" />
<rect x="287.30" y="192.50" width="5.40" height="7.25" fill="#fef2c2" />
<rect x="292.20" y="192.50" width="5.40" height="7.25" fill="#e6eff8" />
<rect x="297.10" y="192.50" width="5.40" height="7.25" fill="#fef2c2" />
<rect x="302.00" y="192.50" width="5.40" height="7.25" fill="#fef2c2" />
<rect x="306.90" y="192.50" width="5.40" height="7.25" fill="#fef2c2" />
<rect x="311.80" y="192.50" width="5.40" height="7.25" fill="#d9302a" />
<rect x="316.70" y="192.50" width="5.40" height="7.25" fill="#fef2c2" />
<rect x="321.60" y="192.50" width="5.40" height="7.25" fill="#fef2c2" />
<rect x="326.50" y="192.50" width="5.40" height="7.25" fill="#fef2c2" />
<rect x="331.40" y="192.50" width="5.40" height="7.25" fill="#e6eff8" />
<rect x="336.30" y="192.50" width="4.90" height="7.25" fill="#fef2c2" />
<rect x="287.30" y="199.25" width="5.40" height="7.25" fill="#fef2c2" />
<rect x="292.20" y="199.25" width="5.40" height="7.25" fill="#fef2c2" />
<rect x="297.10" y="199.25" width="5.40" height="7.25" fill="#fef2c2" />
<rect x="302.00" y="199.25" width="5.40" height="7.25" fill="#fef2c2" />
<rect x="306.90" y="199.25" width="5.40" height="7.25" fill="#fef2c2" />
<rect x="311.80" y="199.25" width="5.40" height="7.25" fill="#f6843e" />
<rect x="316.70" y="199.25" width="5.40" height="7.25" fill="#fef2c2" />
<rect x="321.60" y="199.25" width="5.40" height="7.25" fill="#fef2c2" />
<rect x="326.50" y="199.25" width="5.40" height="7.25" fill="#fef2c2" />
<rect x="331.40" y="199.25" width="5.40" height="7.25" fill="#e6eff8" />
<rect x="336.30" y="199.25" width="4.90" height="7.25" fill="#fef2c2" />
<rect x="287.30" y="206.00" width="5.40" height="7.25" fill="#fef2c2" />
<rect x="292.20" y="206.00" width="5.40" height="7.25" fill="#cddff0" />
<rect x="297.10" y="206.00" width="5.40" height="7.25" fill="#fef2c2" />
<rect x="302.00" y="206.00" width="5.40" height="7.25" fill="#fef2c2" />
<rect x="306.90" y="206.00" width="5.40" height="7.25" fill="#fef2c2" />
<rect x="311.80" y="206.00" width="5.40" height="7.25" fill="#f6843e" />
<rect x="316.70" y="206.00" width="5.40" height="7.25" fill="#fef2c2" />
<rect x="321.60" y="206.00" width="5.40" height="7.25" fill="#fef2c2" />
<rect x="326.50" y="206.00" width="5.40" height="7.25" fill="#fef2c2" />
<rect x="331.40" y="206.00" width="5.40" height="7.25" fill="#fef2c2" />
<rect x="336.30" y="206.00" width="4.90" height="7.25" fill="#fef2c2" />
<rect x="287.30" y="212.75" width="5.40" height="7.25" fill="#fef2c2" />
<rect x="292.20" y="212.75" width="5.40" height="7.25" fill="#f8f8f7" />
<rect x="297.10" y="212.75" width="5.40" height="7.25" fill="#fef2c2" />
<rect x="302.00" y="212.75" width="5.40" height="7.25" fill="#e6eff8" />
<rect x="306.90" y="212.75" width="5.40" height="7.25" fill="#fef2c2" />
<rect x="311.80" y="212.75" width="5.40" height="7.25" fill="#fbb054" />
<rect x="316.70" y="212.75" width="5.40" height="7.25" fill="#fef2c2" />
<rect x="321.60" y="212.75" width="5.40" height="7.25" fill="#fef2c2" />
<rect x="326.50" y="212.75" width="5.40" height="7.25" fill="#fef2c2" />
<rect x="331.40" y="212.75" width="5.40" height="7.25" fill="#e6eff8" />
<rect x="336.30" y="212.75" width="4.90" height="7.25" fill="#fef2c2" />
<rect x="287.30" y="219.50" width="5.40" height="6.75" fill="#fef2c2" />
<rect x="292.20" y="219.50" width="5.40" height="6.75" fill="#e6eff8" />
<rect x="297.10" y="219.50" width="5.40" height="6.75" fill="#fef2c2" />
<rect x="302.00" y="219.50" width="5.40" height="6.75" fill="#fef2c2" />
<rect x="306.90" y="219.50" width="5.40" height="6.75" fill="#fef2c2" />
<rect x="311.80" y="219.50" width="5.40" height="6.75" fill="#fbb054" />
<rect x="316.70" y="219.50" width="5.40" height="6.75" fill="#fef2c2" />
<rect x="321.60" y="219.50" width="5.40" height="6.75" fill="#fef2c2" />
<rect x="326.50" y="219.50" width="5.40" height="6.75" fill="#fef2c2" />
<rect x="331.40" y="219.50" width="5.40" height="6.75" fill="#fef2c2" />
<rect x="336.30" y="219.50" width="4.90" height="6.75" fill="#fef2c2" />
<circle cx="299.55" cy="182.38" r="0.62" fill="#4a4a4a"/>
<circle cx="304.45" cy="182.38" r="0.62" fill="#4a4a4a"/>
<circle cx="309.35" cy="182.38" r="0.62" fill="#4a4a4a"/>
<circle cx="319.15" cy="182.38" r="0.62" fill="#4a4a4a"/>
<circle cx="333.85" cy="182.38" r="0.62" fill="#4a4a4a"/>
<circle cx="289.75" cy="189.12" r="0.62" fill="#4a4a4a"/>
<circle cx="299.55" cy="189.12" r="0.62" fill="#4a4a4a"/>
<circle cx="304.45" cy="189.12" r="0.62" fill="#4a4a4a"/>
<circle cx="309.35" cy="189.12" r="0.62" fill="#4a4a4a"/>
<circle cx="328.95" cy="189.12" r="0.62" fill="#4a4a4a"/>
<circle cx="333.85" cy="189.12" r="0.62" fill="#4a4a4a"/>
<circle cx="338.75" cy="189.12" r="0.62" fill="#4a4a4a"/>
<circle cx="309.35" cy="195.88" r="0.62" fill="#4a4a4a"/>
<circle cx="314.25" cy="195.88" r="0.62" fill="#4a4a4a"/>
<circle cx="328.95" cy="195.88" r="0.62" fill="#4a4a4a"/>
<circle cx="314.25" cy="202.62" r="0.62" fill="#4a4a4a"/>
<circle cx="324.05" cy="202.62" r="0.62" fill="#4a4a4a"/>
<circle cx="328.95" cy="202.62" r="0.62" fill="#4a4a4a"/>
<circle cx="289.75" cy="209.38" r="0.62" fill="#4a4a4a"/>
<circle cx="299.55" cy="209.38" r="0.62" fill="#4a4a4a"/>
<circle cx="309.35" cy="209.38" r="0.62" fill="#4a4a4a"/>
<circle cx="314.25" cy="209.38" r="0.62" fill="#4a4a4a"/>
<circle cx="324.05" cy="209.38" r="0.62" fill="#4a4a4a"/>
<circle cx="328.95" cy="209.38" r="0.62" fill="#4a4a4a"/>
<circle cx="289.75" cy="216.12" r="0.62" fill="#4a4a4a"/>
<circle cx="299.55" cy="222.88" r="0.62" fill="#4a4a4a"/>
<circle cx="309.35" cy="222.88" r="0.62" fill="#4a4a4a"/>
<circle cx="324.05" cy="222.88" r="0.62" fill="#4a4a4a"/>
<circle cx="328.95" cy="222.88" r="0.62" fill="#4a4a4a"/>
<circle cx="338.75" cy="222.88" r="0.62" fill="#4a4a4a"/>
<rect x="287.30" y="179.00" width="53.90" height="47.25" fill="none" stroke="#6f6f6f" stroke-width="0.9" rx="0.8"/>
<rect x="287.30" y="229.50" width="5.30" height="5.50" fill="#7cc5dc" />
<rect x="292.20" y="229.50" width="5.30" height="5.50" fill="#0d4f67" />
<rect x="297.10" y="229.50" width="5.30" height="5.50" fill="#a5c85b" />
<rect x="302.00" y="229.50" width="5.30" height="5.50" fill="#6a9c4d" />
<rect x="306.90" y="229.50" width="5.30" height="5.50" fill="#3a6a40" />
<rect x="311.80" y="229.50" width="5.30" height="5.50" fill="#fdf0aa" />
<rect x="316.70" y="229.50" width="5.30" height="5.50" fill="#e5a23e" />
<rect x="321.60" y="229.50" width="5.30" height="5.50" fill="#a62f35" />
<rect x="326.50" y="229.50" width="5.30" height="5.50" fill="#5a0e16" />
<rect x="331.40" y="229.50" width="5.30" height="5.50" fill="#94678a" />
<rect x="336.30" y="229.50" width="4.90" height="5.50" fill="#6a1f3d" />
<path d="M292.20,229.5V235 M297.10,229.5V235 M302.00,229.5V235 M306.90,229.5V235 M311.80,229.5V235 M316.70,229.5V235 M321.60,229.5V235 M326.50,229.5V235 M331.40,229.5V235 M336.30,229.5V235" stroke="#2a2a2a" stroke-width="0.45"/>
<rect x="287.30" y="229.5" width="53.90" height="5.5" fill="none" stroke="#444" stroke-width="0.55"/>
<text x="314.25" y="62.60" font-size="7.6" text-anchor="middle" >Chemokine</text>
<text x="314.25" y="71.20" font-size="7.6" text-anchor="middle" >receptors</text>
<line x1="287.30" y1="74.6" x2="341.20" y2="74.6" stroke="#8a8a8a" stroke-width="0.9"/>
<rect x="344.66" y="82.00" width="5.40" height="7.25" fill="#fef2c2" />
<rect x="349.56" y="82.00" width="5.40" height="7.25" fill="#fef2c2" />
<rect x="354.46" y="82.00" width="5.40" height="7.25" fill="#fef2c2" />
<rect x="359.36" y="82.00" width="5.40" height="7.25" fill="#fef2c2" />
<rect x="364.26" y="82.00" width="5.40" height="7.25" fill="#fccb70" />
<rect x="369.16" y="82.00" width="5.40" height="7.25" fill="#fef2c2" />
<rect x="374.06" y="82.00" width="5.40" height="7.25" fill="#fef2c2" />
<rect x="378.96" y="82.00" width="5.40" height="7.25" fill="#fef2c2" />
<rect x="383.86" y="82.00" width="5.40" height="7.25" fill="#4b8ec5" />
<rect x="388.76" y="82.00" width="5.40" height="7.25" fill="#e6eff8" />
<rect x="393.66" y="82.00" width="4.90" height="7.25" fill="#cddff0" />
<rect x="344.66" y="88.75" width="5.40" height="7.25" fill="#e6eff8" />
<rect x="349.56" y="88.75" width="5.40" height="7.25" fill="#f8f8f7" />
<rect x="354.46" y="88.75" width="5.40" height="7.25" fill="#e6eff8" />
<rect x="359.36" y="88.75" width="5.40" height="7.25" fill="#e6eff8" />
<rect x="364.26" y="88.75" width="5.40" height="7.25" fill="#e6eff8" />
<rect x="369.16" y="88.75" width="5.40" height="7.25" fill="#fef2c2" />
<rect x="374.06" y="88.75" width="5.40" height="7.25" fill="#e6eff8" />
<rect x="378.96" y="88.75" width="5.40" height="7.25" fill="#e6eff8" />
<rect x="383.86" y="88.75" width="5.40" height="7.25" fill="#e6eff8" />
<rect x="388.76" y="88.75" width="5.40" height="7.25" fill="#fef2c2" />
<rect x="393.66" y="88.75" width="4.90" height="7.25" fill="#f8f8f7" />
<rect x="344.66" y="95.50" width="5.40" height="7.25" fill="#fbb054" />
<rect x="349.56" y="95.50" width="5.40" height="7.25" fill="#fccb70" />
<rect x="354.46" y="95.50" width="5.40" height="7.25" fill="#f8f8f7" />
<rect x="359.36" y="95.50" width="5.40" height="7.25" fill="#fccb70" />
<rect x="364.26" y="95.50" width="5.40" height="7.25" fill="#fccb70" />
<rect x="369.16" y="95.50" width="5.40" height="7.25" fill="#fccb70" />
<rect x="374.06" y="95.50" width="5.40" height="7.25" fill="#fef2c2" />
<rect x="378.96" y="95.50" width="5.40" height="7.25" fill="#fef2c2" />
<rect x="383.86" y="95.50" width="5.40" height="7.25" fill="#d9302a" />
<rect x="388.76" y="95.50" width="5.40" height="7.25" fill="#cddff0" />
<rect x="393.66" y="95.50" width="4.90" height="7.25" fill="#cddff0" />
<rect x="344.66" y="102.25" width="5.40" height="6.75" fill="#cddff0" />
<rect x="349.56" y="102.25" width="5.40" height="6.75" fill="#cddff0" />
<rect x="354.46" y="102.25" width="5.40" height="6.75" fill="#e6eff8" />
<rect x="359.36" y="102.25" width="5.40" height="6.75" fill="#cddff0" />
<rect x="364.26" y="102.25" width="5.40" height="6.75" fill="#cddff0" />
<rect x="369.16" y="102.25" width="5.40" height="6.75" fill="#cddff0" />
<rect x="374.06" y="102.25" width="5.40" height="6.75" fill="#cddff0" />
<rect x="378.96" y="102.25" width="5.40" height="6.75" fill="#cddff0" />
<rect x="383.86" y="102.25" width="5.40" height="6.75" fill="#fef2c2" />
<rect x="388.76" y="102.25" width="5.40" height="6.75" fill="#cddff0" />
<rect x="393.66" y="102.25" width="4.90" height="6.75" fill="#cddff0" />
<circle cx="347.11" cy="98.88" r="0.62" fill="#4a4a4a"/>
<rect x="344.66" y="82.00" width="53.90" height="27.00" fill="none" stroke="#6f6f6f" stroke-width="0.9" rx="0.8"/>
<rect x="344.66" y="113.00" width="5.40" height="7.25" fill="#f8f8f7" />
<rect x="349.56" y="113.00" width="5.40" height="7.25" fill="#e6eff8" />
<rect x="354.46" y="113.00" width="5.40" height="7.25" fill="#f8f8f7" />
<rect x="359.36" y="113.00" width="5.40" height="7.25" fill="#fef2c2" />
<rect x="364.26" y="113.00" width="5.40" height="7.25" fill="#fef2c2" />
<rect x="369.16" y="113.00" width="5.40" height="7.25" fill="#fef2c2" />
<rect x="374.06" y="113.00" width="5.40" height="7.25" fill="#fef2c2" />
<rect x="378.96" y="113.00" width="5.40" height="7.25" fill="#fef2c2" />
<rect x="383.86" y="113.00" width="5.40" height="7.25" fill="#fbb054" />
<rect x="388.76" y="113.00" width="5.40" height="7.25" fill="#fef2c2" />
<rect x="393.66" y="113.00" width="4.90" height="7.25" fill="#fef2c2" />
<rect x="344.66" y="119.75" width="5.40" height="7.25" fill="#e6eff8" />
<rect x="349.56" y="119.75" width="5.40" height="7.25" fill="#e6eff8" />
<rect x="354.46" y="119.75" width="5.40" height="7.25" fill="#cddff0" />
<rect x="359.36" y="119.75" width="5.40" height="7.25" fill="#e6eff8" />
<rect x="364.26" y="119.75" width="5.40" height="7.25" fill="#fef2c2" />
<rect x="369.16" y="119.75" width="5.40" height="7.25" fill="#fef2c2" />
<rect x="374.06" y="119.75" width="5.40" height="7.25" fill="#fef2c2" />
<rect x="378.96" y="119.75" width="5.40" height="7.25" fill="#fef2c2" />
<rect x="383.86" y="119.75" width="5.40" height="7.25" fill="#fef2c2" />
<rect x="388.76" y="119.75" width="5.40" height="7.25" fill="#fef2c2" />
<rect x="393.66" y="119.75" width="4.90" height="7.25" fill="#fef2c2" />
<rect x="344.66" y="126.50" width="5.40" height="7.25" fill="#fef2c2" />
<rect x="349.56" y="126.50" width="5.40" height="7.25" fill="#fccb70" />
<rect x="354.46" y="126.50" width="5.40" height="7.25" fill="#fccb70" />
<rect x="359.36" y="126.50" width="5.40" height="7.25" fill="#e6eff8" />
<rect x="364.26" y="126.50" width="5.40" height="7.25" fill="#fef2c2" />
<rect x="369.16" y="126.50" width="5.40" height="7.25" fill="#fef2c2" />
<rect x="374.06" y="126.50" width="5.40" height="7.25" fill="#fef2c2" />
<rect x="378.96" y="126.50" width="5.40" height="7.25" fill="#fef2c2" />
<rect x="383.86" y="126.50" width="5.40" height="7.25" fill="#fef2c2" />
<rect x="388.76" y="126.50" width="5.40" height="7.25" fill="#92bfdf" />
<rect x="393.66" y="126.50" width="4.90" height="7.25" fill="#cddff0" />
<rect x="344.66" y="133.25" width="5.40" height="6.75" fill="#e6eff8" />
<rect x="349.56" y="133.25" width="5.40" height="6.75" fill="#fef2c2" />
<rect x="354.46" y="133.25" width="5.40" height="6.75" fill="#f8f8f7" />
<rect x="359.36" y="133.25" width="5.40" height="6.75" fill="#f8f8f7" />
<rect x="364.26" y="133.25" width="5.40" height="6.75" fill="#e6eff8" />
<rect x="369.16" y="133.25" width="5.40" height="6.75" fill="#f8f8f7" />
<rect x="374.06" y="133.25" width="5.40" height="6.75" fill="#fef2c2" />
<rect x="378.96" y="133.25" width="5.40" height="6.75" fill="#fef2c2" />
<rect x="383.86" y="133.25" width="5.40" height="6.75" fill="#4b8ec5" />
<rect x="388.76" y="133.25" width="5.40" height="6.75" fill="#fef2c2" />
<rect x="393.66" y="133.25" width="4.90" height="6.75" fill="#fde39c" />
<circle cx="356.91" cy="123.12" r="0.62" fill="#4a4a4a"/>
<circle cx="352.01" cy="129.88" r="0.62" fill="#4a4a4a"/>
<circle cx="391.21" cy="129.88" r="0.62" fill="#4a4a4a"/>
<circle cx="396.11" cy="129.88" r="0.62" fill="#4a4a4a"/>
<rect x="344.66" y="113.00" width="53.90" height="27.00" fill="none" stroke="#6f6f6f" stroke-width="0.9" rx="0.8"/>
<rect x="344.66" y="144.20" width="5.40" height="6.75" fill="#f8f8f7" />
<rect x="349.56" y="144.20" width="5.40" height="6.75" fill="#e6eff8" />
<rect x="354.46" y="144.20" width="5.40" height="6.75" fill="#e6eff8" />
<rect x="359.36" y="144.20" width="5.40" height="6.75" fill="#fef2c2" />
<rect x="364.26" y="144.20" width="5.40" height="6.75" fill="#fef2c2" />
<rect x="369.16" y="144.20" width="5.40" height="6.75" fill="#fef2c2" />
<rect x="374.06" y="144.20" width="5.40" height="6.75" fill="#fef2c2" />
<rect x="378.96" y="144.20" width="5.40" height="6.75" fill="#fef2c2" />
<rect x="383.86" y="144.20" width="5.40" height="6.75" fill="#fef2c2" />
<rect x="388.76" y="144.20" width="5.40" height="6.75" fill="#fef2c2" />
<rect x="393.66" y="144.20" width="4.90" height="6.75" fill="#fef2c2" />
<rect x="344.66" y="144.20" width="53.90" height="6.75" fill="none" stroke="#6f6f6f" stroke-width="0.9" rx="0.8"/>
<rect x="344.66" y="154.60" width="5.40" height="7.25" fill="#fef2c2" />
<rect x="349.56" y="154.60" width="5.40" height="7.25" fill="#fde39c" />
<rect x="354.46" y="154.60" width="5.40" height="7.25" fill="#fef2c2" />
<rect x="359.36" y="154.60" width="5.40" height="7.25" fill="#fef2c2" />
<rect x="364.26" y="154.60" width="5.40" height="7.25" fill="#fef2c2" />
<rect x="369.16" y="154.60" width="5.40" height="7.25" fill="#fef2c2" />
<rect x="374.06" y="154.60" width="5.40" height="7.25" fill="#fef2c2" />
<rect x="378.96" y="154.60" width="5.40" height="7.25" fill="#fef2c2" />
<rect x="383.86" y="154.60" width="5.40" height="7.25" fill="#fbb054" />
<rect x="388.76" y="154.60" width="5.40" height="7.25" fill="#fef2c2" />
<rect x="393.66" y="154.60" width="4.90" height="7.25" fill="#fef2c2" />
<rect x="344.66" y="161.35" width="5.40" height="7.25" fill="#e6eff8" />
<rect x="349.56" y="161.35" width="5.40" height="7.25" fill="#fef2c2" />
<rect x="354.46" y="161.35" width="5.40" height="7.25" fill="#e6eff8" />
<rect x="359.36" y="161.35" width="5.40" height="7.25" fill="#fef2c2" />
<rect x="364.26" y="161.35" width="5.40" height="7.25" fill="#f8f8f7" />
<rect x="369.16" y="161.35" width="5.40" height="7.25" fill="#fef2c2" />
<rect x="374.06" y="161.35" width="5.40" height="7.25" fill="#f8f8f7" />
<rect x="378.96" y="161.35" width="5.40" height="7.25" fill="#fef2c2" />
<rect x="383.86" y="161.35" width="5.40" height="7.25" fill="#fccb70" />
<rect x="388.76" y="161.35" width="5.40" height="7.25" fill="#fef2c2" />
<rect x="393.66" y="161.35" width="4.90" height="7.25" fill="#fef2c2" />
<rect x="344.66" y="168.10" width="5.40" height="6.75" fill="#fef2c2" />
<rect x="349.56" y="168.10" width="5.40" height="6.75" fill="#fef2c2" />
<rect x="354.46" y="168.10" width="5.40" height="6.75" fill="#fde39c" />
<rect x="359.36" y="168.10" width="5.40" height="6.75" fill="#e6eff8" />
<rect x="364.26" y="168.10" width="5.40" height="6.75" fill="#fef2c2" />
<rect x="369.16" y="168.10" width="5.40" height="6.75" fill="#fef2c2" />
<rect x="374.06" y="168.10" width="5.40" height="6.75" fill="#fef2c2" />
<rect x="378.96" y="168.10" width="5.40" height="6.75" fill="#fef2c2" />
<rect x="383.86" y="168.10" width="5.40" height="6.75" fill="#f6843e" />
<rect x="388.76" y="168.10" width="5.40" height="6.75" fill="#fef2c2" />
<rect x="393.66" y="168.10" width="4.90" height="6.75" fill="#fef2c2" />
<circle cx="356.91" cy="164.72" r="0.62" fill="#4a4a4a"/>
<circle cx="356.91" cy="171.47" r="0.62" fill="#4a4a4a"/>
<rect x="344.66" y="154.60" width="53.90" height="20.25" fill="none" stroke="#6f6f6f" stroke-width="0.9" rx="0.8"/>
<rect x="344.66" y="179.00" width="5.40" height="7.25" fill="#fde39c" />
<rect x="349.56" y="179.00" width="5.40" height="7.25" fill="#f8f8f7" />
<rect x="354.46" y="179.00" width="5.40" height="7.25" fill="#fde39c" />
<rect x="359.36" y="179.00" width="5.40" height="7.25" fill="#fef2c2" />
<rect x="364.26" y="179.00" width="5.40" height="7.25" fill="#fef2c2" />
<rect x="369.16" y="179.00" width="5.40" height="7.25" fill="#fef2c2" />
<rect x="374.06" y="179.00" width="5.40" height="7.25" fill="#fef2c2" />
<rect x="378.96" y="179.00" width="5.40" height="7.25" fill="#fef2c2" />
<rect x="383.86" y="179.00" width="5.40" height="7.25" fill="#cddff0" />
<rect x="388.76" y="179.00" width="5.40" height="7.25" fill="#fef2c2" />
<rect x="393.66" y="179.00" width="4.90" height="7.25" fill="#fef2c2" />
<rect x="344.66" y="185.75" width="5.40" height="7.25" fill="#fef2c2" />
<rect x="349.56" y="185.75" width="5.40" height="7.25" fill="#fef2c2" />
<rect x="354.46" y="185.75" width="5.40" height="7.25" fill="#e6eff8" />
<rect x="359.36" y="185.75" width="5.40" height="7.25" fill="#e6eff8" />
<rect x="364.26" y="185.75" width="5.40" height="7.25" fill="#e6eff8" />
<rect x="369.16" y="185.75" width="5.40" height="7.25" fill="#fef2c2" />
<rect x="374.06" y="185.75" width="5.40" height="7.25" fill="#e6eff8" />
<rect x="378.96" y="185.75" width="5.40" height="7.25" fill="#fef2c2" />
<rect x="383.86" y="185.75" width="5.40" height="7.25" fill="#fccb70" />
<rect x="388.76" y="185.75" width="5.40" height="7.25" fill="#f8f8f7" />
<rect x="393.66" y="185.75" width="4.90" height="7.25" fill="#fef2c2" />
<rect x="344.66" y="192.50" width="5.40" height="7.25" fill="#e6eff8" />
<rect x="349.56" y="192.50" width="5.40" height="7.25" fill="#fef2c2" />
<rect x="354.46" y="192.50" width="5.40" height="7.25" fill="#e6eff8" />
<rect x="359.36" y="192.50" width="5.40" height="7.25" fill="#cddff0" />
<rect x="364.26" y="192.50" width="5.40" height="7.25" fill="#cddff0" />
<rect x="369.16" y="192.50" width="5.40" height="7.25" fill="#cddff0" />
<rect x="374.06" y="192.50" width="5.40" height="7.25" fill="#cddff0" />
<rect x="378.96" y="192.50" width="5.40" height="7.25" fill="#cddff0" />
<rect x="383.86" y="192.50" width="5.40" height="7.25" fill="#fbb054" />
<rect x="388.76" y="192.50" width="5.40" height="7.25" fill="#fef2c2" />
<rect x="393.66" y="192.50" width="4.90" height="7.25" fill="#fef2c2" />
<rect x="344.66" y="199.25" width="5.40" height="7.25" fill="#e6eff8" />
<rect x="349.56" y="199.25" width="5.40" height="7.25" fill="#fef2c2" />
<rect x="354.46" y="199.25" width="5.40" height="7.25" fill="#e6eff8" />
<rect x="359.36" y="199.25" width="5.40" height="7.25" fill="#cddff0" />
<rect x="364.26" y="199.25" width="5.40" height="7.25" fill="#cddff0" />
<rect x="369.16" y="199.25" width="5.40" height="7.25" fill="#cddff0" />
<rect x="374.06" y="199.25" width="5.40" height="7.25" fill="#cddff0" />
<rect x="378.96" y="199.25" width="5.40" height="7.25" fill="#cddff0" />
<rect x="383.86" y="199.25" width="5.40" height="7.25" fill="#fccb70" />
<rect x="388.76" y="199.25" width="5.40" height="7.25" fill="#fef2c2" />
<rect x="393.66" y="199.25" width="4.90" height="7.25" fill="#fef2c2" />
<rect x="344.66" y="206.00" width="5.40" height="7.25" fill="#e6eff8" />
<rect x="349.56" y="206.00" width="5.40" height="7.25" fill="#e6eff8" />
<rect x="354.46" y="206.00" width="5.40" height="7.25" fill="#e6eff8" />
<rect x="359.36" y="206.00" width="5.40" height="7.25" fill="#cddff0" />
<rect x="364.26" y="206.00" width="5.40" height="7.25" fill="#cddff0" />
<rect x="369.16" y="206.00" width="5.40" height="7.25" fill="#cddff0" />
<rect x="374.06" y="206.00" width="5.40" height="7.25" fill="#cddff0" />
<rect x="378.96" y="206.00" width="5.40" height="7.25" fill="#cddff0" />
<rect x="383.86" y="206.00" width="5.40" height="7.25" fill="#fde39c" />
<rect x="388.76" y="206.00" width="5.40" height="7.25" fill="#fef2c2" />
<rect x="393.66" y="206.00" width="4.90" height="7.25" fill="#fef2c2" />
<rect x="344.66" y="212.75" width="5.40" height="7.25" fill="#e6eff8" />
<rect x="349.56" y="212.75" width="5.40" height="7.25" fill="#f8f8f7" />
<rect x="354.46" y="212.75" width="5.40" height="7.25" fill="#e6eff8" />
<rect x="359.36" y="212.75" width="5.40" height="7.25" fill="#cddff0" />
<rect x="364.26" y="212.75" width="5.40" height="7.25" fill="#cddff0" />
<rect x="369.16" y="212.75" width="5.40" height="7.25" fill="#cddff0" />
<rect x="374.06" y="212.75" width="5.40" height="7.25" fill="#cddff0" />
<rect x="378.96" y="212.75" width="5.40" height="7.25" fill="#cddff0" />
<rect x="383.86" y="212.75" width="5.40" height="7.25" fill="#fde39c" />
<rect x="388.76" y="212.75" width="5.40" height="7.25" fill="#fef2c2" />
<rect x="393.66" y="212.75" width="4.90" height="7.25" fill="#fef2c2" />
<rect x="344.66" y="219.50" width="5.40" height="6.75" fill="#cddff0" />
<rect x="349.56" y="219.50" width="5.40" height="6.75" fill="#fef2c2" />
<rect x="354.46" y="219.50" width="5.40" height="6.75" fill="#e6eff8" />
<rect x="359.36" y="219.50" width="5.40" height="6.75" fill="#cddff0" />
<rect x="364.26" y="219.50" width="5.40" height="6.75" fill="#cddff0" />
<rect x="369.16" y="219.50" width="5.40" height="6.75" fill="#cddff0" />
<rect x="374.06" y="219.50" width="5.40" height="6.75" fill="#cddff0" />
<rect x="378.96" y="219.50" width="5.40" height="6.75" fill="#cddff0" />
<rect x="383.86" y="219.50" width="5.40" height="6.75" fill="#f6843e" />
<rect x="388.76" y="219.50" width="5.40" height="6.75" fill="#fef2c2" />
<rect x="393.66" y="219.50" width="4.90" height="6.75" fill="#fef2c2" />
<circle cx="376.51" cy="189.12" r="0.62" fill="#4a4a4a"/>
<circle cx="386.31" cy="189.12" r="0.62" fill="#4a4a4a"/>
<circle cx="347.11" cy="195.88" r="0.62" fill="#4a4a4a"/>
<circle cx="361.81" cy="195.88" r="0.62" fill="#4a4a4a"/>
<circle cx="366.71" cy="195.88" r="0.62" fill="#4a4a4a"/>
<circle cx="371.61" cy="195.88" r="0.62" fill="#4a4a4a"/>
<circle cx="376.51" cy="195.88" r="0.62" fill="#4a4a4a"/>
<circle cx="381.41" cy="195.88" r="0.62" fill="#4a4a4a"/>
<circle cx="386.31" cy="195.88" r="0.62" fill="#4a4a4a"/>
<circle cx="391.21" cy="195.88" r="0.62" fill="#4a4a4a"/>
<circle cx="361.81" cy="202.62" r="0.62" fill="#4a4a4a"/>
<circle cx="366.71" cy="202.62" r="0.62" fill="#4a4a4a"/>
<circle cx="371.61" cy="202.62" r="0.62" fill="#4a4a4a"/>
<circle cx="376.51" cy="202.62" r="0.62" fill="#4a4a4a"/>
<circle cx="381.41" cy="202.62" r="0.62" fill="#4a4a4a"/>
<circle cx="396.11" cy="202.62" r="0.62" fill="#4a4a4a"/>
<circle cx="347.11" cy="209.38" r="0.62" fill="#4a4a4a"/>
<circle cx="356.91" cy="209.38" r="0.62" fill="#4a4a4a"/>
<circle cx="361.81" cy="209.38" r="0.62" fill="#4a4a4a"/>
<circle cx="366.71" cy="209.38" r="0.62" fill="#4a4a4a"/>
<circle cx="371.61" cy="209.38" r="0.62" fill="#4a4a4a"/>
<circle cx="376.51" cy="209.38" r="0.62" fill="#4a4a4a"/>
<circle cx="381.41" cy="209.38" r="0.62" fill="#4a4a4a"/>
<circle cx="391.21" cy="209.38" r="0.62" fill="#4a4a4a"/>
<circle cx="396.11" cy="209.38" r="0.62" fill="#4a4a4a"/>
<circle cx="361.81" cy="216.12" r="0.62" fill="#4a4a4a"/>
<circle cx="366.71" cy="216.12" r="0.62" fill="#4a4a4a"/>
<circle cx="371.61" cy="216.12" r="0.62" fill="#4a4a4a"/>
<circle cx="376.51" cy="216.12" r="0.62" fill="#4a4a4a"/>
<circle cx="381.41" cy="216.12" r="0.62" fill="#4a4a4a"/>
<circle cx="347.11" cy="222.88" r="0.62" fill="#4a4a4a"/>
<circle cx="361.81" cy="222.88" r="0.62" fill="#4a4a4a"/>
<circle cx="366.71" cy="222.88" r="0.62" fill="#4a4a4a"/>
<circle cx="371.61" cy="222.88" r="0.62" fill="#4a4a4a"/>
<circle cx="376.51" cy="222.88" r="0.62" fill="#4a4a4a"/>
<circle cx="381.41" cy="222.88" r="0.62" fill="#4a4a4a"/>
<circle cx="386.31" cy="222.88" r="0.62" fill="#4a4a4a"/>
<circle cx="391.21" cy="222.88" r="0.62" fill="#4a4a4a"/>
<rect x="344.66" y="179.00" width="53.90" height="47.25" fill="none" stroke="#6f6f6f" stroke-width="0.9" rx="0.8"/>
<rect x="344.66" y="229.50" width="5.30" height="5.50" fill="#7cc5dc" />
<rect x="349.56" y="229.50" width="5.30" height="5.50" fill="#0d4f67" />
<rect x="354.46" y="229.50" width="5.30" height="5.50" fill="#a5c85b" />
<rect x="359.36" y="229.50" width="5.30" height="5.50" fill="#6a9c4d" />
<rect x="364.26" y="229.50" width="5.30" height="5.50" fill="#3a6a40" />
<rect x="369.16" y="229.50" width="5.30" height="5.50" fill="#fdf0aa" />
<rect x="374.06" y="229.50" width="5.30" height="5.50" fill="#e5a23e" />
<rect x="378.96" y="229.50" width="5.30" height="5.50" fill="#a62f35" />
<rect x="383.86" y="229.50" width="5.30" height="5.50" fill="#5a0e16" />
<rect x="388.76" y="229.50" width="5.30" height="5.50" fill="#94678a" />
<rect x="393.66" y="229.50" width="4.90" height="5.50" fill="#6a1f3d" />
<path d="M349.56,229.5V235 M354.46,229.5V235 M359.36,229.5V235 M364.26,229.5V235 M369.16,229.5V235 M374.06,229.5V235 M378.96,229.5V235 M383.86,229.5V235 M388.76,229.5V235 M393.66,229.5V235" stroke="#2a2a2a" stroke-width="0.45"/>
<rect x="344.66" y="229.5" width="53.90" height="5.5" fill="none" stroke="#444" stroke-width="0.55"/>
<text x="371.61" y="62.60" font-size="7.6" text-anchor="middle" >IFN type</text>
<text x="371.61" y="71.20" font-size="7.6" text-anchor="middle" >1 and 2</text>
<line x1="344.66" y1="74.6" x2="398.56" y2="74.6" stroke="#8a8a8a" stroke-width="0.9"/>
<rect x="402.02" y="82.00" width="5.40" height="7.25" fill="#e6eff8" />
<rect x="406.92" y="82.00" width="5.40" height="7.25" fill="#f6843e" />
<rect x="411.82" y="82.00" width="5.40" height="7.25" fill="#fef2c2" />
<rect x="416.72" y="82.00" width="5.40" height="7.25" fill="#fccb70" />
<rect x="421.62" y="82.00" width="5.40" height="7.25" fill="#fef2c2" />
<rect x="426.52" y="82.00" width="5.40" height="7.25" fill="#cddff0" />
<rect x="431.42" y="82.00" width="5.40" height="7.25" fill="#92bfdf" />
<rect x="436.32" y="82.00" width="5.40" height="7.25" fill="#e6eff8" />
<rect x="441.22" y="82.00" width="5.40" height="7.25" fill="#4b8ec5" />
<rect x="446.12" y="82.00" width="5.40" height="7.25" fill="#cddff0" />
<rect x="451.02" y="82.00" width="4.90" height="7.25" fill="#2b6aae" />
<rect x="402.02" y="88.75" width="5.40" height="7.25" fill="#fde39c" />
<rect x="406.92" y="88.75" width="5.40" height="7.25" fill="#f8f8f7" />
<rect x="411.82" y="88.75" width="5.40" height="7.25" fill="#fbb054" />
<rect x="416.72" y="88.75" width="5.40" height="7.25" fill="#fccb70" />
<rect x="421.62" y="88.75" width="5.40" height="7.25" fill="#fbb054" />
<rect x="426.52" y="88.75" width="5.40" height="7.25" fill="#fef2c2" />
<rect x="431.42" y="88.75" width="5.40" height="7.25" fill="#fccb70" />
<rect x="436.32" y="88.75" width="5.40" height="7.25" fill="#fef2c2" />
<rect x="441.22" y="88.75" width="5.40" height="7.25" fill="#fef2c2" />
<rect x="446.12" y="88.75" width="5.40" height="7.25" fill="#fef2c2" />
<rect x="451.02" y="88.75" width="4.90" height="7.25" fill="#fccb70" />
<rect x="402.02" y="95.50" width="5.40" height="7.25" fill="#fef2c2" />
<rect x="406.92" y="95.50" width="5.40" height="7.25" fill="#163f80" />
<rect x="411.82" y="95.50" width="5.40" height="7.25" fill="#f8f8f7" />
<rect x="416.72" y="95.50" width="5.40" height="7.25" fill="#fef2c2" />
<rect x="421.62" y="95.50" width="5.40" height="7.25" fill="#f6843e" />
<rect x="426.52" y="95.50" width="5.40" height="7.25" fill="#fef2c2" />
<rect x="431.42" y="95.50" width="5.40" height="7.25" fill="#e6eff8" />
<rect x="436.32" y="95.50" width="5.40" height="7.25" fill="#fde39c" />
<rect x="441.22" y="95.50" width="5.40" height="7.25" fill="#fef2c2" />
<rect x="446.12" y="95.50" width="5.40" height="7.25" fill="#fef2c2" />
<rect x="451.02" y="95.50" width="4.90" height="7.25" fill="#fbb054" />
<rect x="402.02" y="102.25" width="5.40" height="6.75" fill="#fef2c2" />
<rect x="406.92" y="102.25" width="5.40" height="6.75" fill="#fccb70" />
<rect x="411.82" y="102.25" width="5.40" height="6.75" fill="#fccb70" />
<rect x="416.72" y="102.25" width="5.40" height="6.75" fill="#fbb054" />
<rect x="421.62" y="102.25" width="5.40" height="6.75" fill="#92bfdf" />
<rect x="426.52" y="102.25" width="5.40" height="6.75" fill="#cddff0" />
<rect x="431.42" y="102.25" width="5.40" height="6.75" fill="#92bfdf" />
<rect x="436.32" y="102.25" width="5.40" height="6.75" fill="#fef2c2" />
<rect x="441.22" y="102.25" width="5.40" height="6.75" fill="#cddff0" />
<rect x="446.12" y="102.25" width="5.40" height="6.75" fill="#cddff0" />
<rect x="451.02" y="102.25" width="4.90" height="6.75" fill="#92bfdf" />
<circle cx="409.37" cy="98.88" r="0.62" fill="#4a4a4a"/>
<rect x="402.02" y="82.00" width="53.90" height="27.00" fill="none" stroke="#6f6f6f" stroke-width="0.9" rx="0.8"/>
<rect x="402.02" y="113.00" width="5.40" height="7.25" fill="#fde39c" />
<rect x="406.92" y="113.00" width="5.40" height="7.25" fill="#fde39c" />
<rect x="411.82" y="113.00" width="5.40" height="7.25" fill="#f8f8f7" />
<rect x="416.72" y="113.00" width="5.40" height="7.25" fill="#d9302a" />
<rect x="421.62" y="113.00" width="5.40" height="7.25" fill="#fbb054" />
<rect x="426.52" y="113.00" width="5.40" height="7.25" fill="#fef2c2" />
<rect x="431.42" y="113.00" width="5.40" height="7.25" fill="#fde39c" />
<rect x="436.32" y="113.00" width="5.40" height="7.25" fill="#fde39c" />
<rect x="441.22" y="113.00" width="5.40" height="7.25" fill="#f6843e" />
<rect x="446.12" y="113.00" width="5.40" height="7.25" fill="#f6843e" />
<rect x="451.02" y="113.00" width="4.90" height="7.25" fill="#fbb054" />
<rect x="402.02" y="119.75" width="5.40" height="7.25" fill="#fde39c" />
<rect x="406.92" y="119.75" width="5.40" height="7.25" fill="#cddff0" />
<rect x="411.82" y="119.75" width="5.40" height="7.25" fill="#fbb054" />
<rect x="416.72" y="119.75" width="5.40" height="7.25" fill="#fbb054" />
<rect x="421.62" y="119.75" width="5.40" height="7.25" fill="#fbb054" />
<rect x="426.52" y="119.75" width="5.40" height="7.25" fill="#fef2c2" />
<rect x="431.42" y="119.75" width="5.40" height="7.25" fill="#fccb70" />
<rect x="436.32" y="119.75" width="5.40" height="7.25" fill="#fde39c" />
<rect x="441.22" y="119.75" width="5.40" height="7.25" fill="#fbb054" />
<rect x="446.12" y="119.75" width="5.40" height="7.25" fill="#fbb054" />
<rect x="451.02" y="119.75" width="4.90" height="7.25" fill="#fbb054" />
<rect x="402.02" y="126.50" width="5.40" height="7.25" fill="#fef2c2" />
<rect x="406.92" y="126.50" width="5.40" height="7.25" fill="#163f80" />
<rect x="411.82" y="126.50" width="5.40" height="7.25" fill="#f8f8f7" />
<rect x="416.72" y="126.50" width="5.40" height="7.25" fill="#e6eff8" />
<rect x="421.62" y="126.50" width="5.40" height="7.25" fill="#f8f8f7" />
<rect x="426.52" y="126.50" width="5.40" height="7.25" fill="#fef2c2" />
<rect x="431.42" y="126.50" width="5.40" height="7.25" fill="#f8f8f7" />
<rect x="436.32" y="126.50" width="5.40" height="7.25" fill="#fef2c2" />
<rect x="441.22" y="126.50" width="5.40" height="7.25" fill="#e6eff8" />
<rect x="446.12" y="126.50" width="5.40" height="7.25" fill="#fde39c" />
<rect x="451.02" y="126.50" width="4.90" height="7.25" fill="#fbb054" />
<rect x="402.02" y="133.25" width="5.40" height="6.75" fill="#92bfdf" />
<rect x="406.92" y="133.25" width="5.40" height="6.75" fill="#2b6aae" />
<rect x="411.82" y="133.25" width="5.40" height="6.75" fill="#f8f8f7" />
<rect x="416.72" y="133.25" width="5.40" height="6.75" fill="#f8f8f7" />
<rect x="421.62" y="133.25" width="5.40" height="6.75" fill="#163f80" />
<rect x="426.52" y="133.25" width="5.40" height="6.75" fill="#2b6aae" />
<rect x="431.42" y="133.25" width="5.40" height="6.75" fill="#2b6aae" />
<rect x="436.32" y="133.25" width="5.40" height="6.75" fill="#92bfdf" />
<rect x="441.22" y="133.25" width="5.40" height="6.75" fill="#2b6aae" />
<rect x="446.12" y="133.25" width="5.40" height="6.75" fill="#4b8ec5" />
<rect x="451.02" y="133.25" width="4.90" height="6.75" fill="#163f80" />
<circle cx="419.17" cy="116.38" r="0.62" fill="#4a4a4a"/>
<circle cx="443.67" cy="116.38" r="0.62" fill="#4a4a4a"/>
<circle cx="448.57" cy="116.38" r="0.62" fill="#4a4a4a"/>
<circle cx="414.27" cy="123.12" r="0.62" fill="#4a4a4a"/>
<circle cx="419.17" cy="123.12" r="0.62" fill="#4a4a4a"/>
<circle cx="424.07" cy="123.12" r="0.62" fill="#4a4a4a"/>
<circle cx="433.87" cy="123.12" r="0.62" fill="#4a4a4a"/>
<circle cx="443.67" cy="123.12" r="0.62" fill="#4a4a4a"/>
<circle cx="448.57" cy="123.12" r="0.62" fill="#4a4a4a"/>
<circle cx="453.47" cy="123.12" r="0.62" fill="#4a4a4a"/>
<circle cx="409.37" cy="129.88" r="0.62" fill="#4a4a4a"/>
<rect x="402.02" y="113.00" width="53.90" height="27.00" fill="none" stroke="#6f6f6f" stroke-width="0.9" rx="0.8"/>
<rect x="402.02" y="144.20" width="5.40" height="6.75" fill="#e6eff8" />
<rect x="406.92" y="144.20" width="5.40" height="6.75" fill="#cddff0" />
<rect x="411.82" y="144.20" width="5.40" height="6.75" fill="#fef2c2" />
<rect x="416.72" y="144.20" width="5.40" height="6.75" fill="#e6eff8" />
<rect x="421.62" y="144.20" width="5.40" height="6.75" fill="#cddff0" />
<rect x="426.52" y="144.20" width="5.40" height="6.75" fill="#e6eff8" />
<rect x="431.42" y="144.20" width="5.40" height="6.75" fill="#e6eff8" />
<rect x="436.32" y="144.20" width="5.40" height="6.75" fill="#fef2c2" />
<rect x="441.22" y="144.20" width="5.40" height="6.75" fill="#fef2c2" />
<rect x="446.12" y="144.20" width="5.40" height="6.75" fill="#fef2c2" />
<rect x="451.02" y="144.20" width="4.90" height="6.75" fill="#fef2c2" />
<rect x="402.02" y="144.20" width="53.90" height="6.75" fill="none" stroke="#6f6f6f" stroke-width="0.9" rx="0.8"/>
<rect x="402.02" y="154.60" width="5.40" height="7.25" fill="#d9302a" />
<rect x="406.92" y="154.60" width="5.40" height="7.25" fill="#fbb054" />
<rect x="411.82" y="154.60" width="5.40" height="7.25" fill="#fccb70" />
<rect x="416.72" y="154.60" width="5.40" height="7.25" fill="#fbb054" />
<rect x="421.62" y="154.60" width="5.40" height="7.25" fill="#950c28" />
<rect x="426.52" y="154.60" width="5.40" height="7.25" fill="#fccb70" />
<rect x="431.42" y="154.60" width="5.40" height="7.25" fill="#950c28" />
<rect x="436.32" y="154.60" width="5.40" height="7.25" fill="#f6843e" />
<rect x="441.22" y="154.60" width="5.40" height="7.25" fill="#950c28" />
<rect x="446.12" y="154.60" width="5.40" height="7.25" fill="#d9302a" />
<rect x="451.02" y="154.60" width="4.90" height="7.25" fill="#d9302a" />
<rect x="402.02" y="161.35" width="5.40" height="7.25" fill="#fde39c" />
<rect x="406.92" y="161.35" width="5.40" height="7.25" fill="#950c28" />
<rect x="411.82" y="161.35" width="5.40" height="7.25" fill="#fef2c2" />
<rect x="416.72" y="161.35" width="5.40" height="7.25" fill="#fef2c2" />
<rect x="421.62" y="161.35" width="5.40" height="7.25" fill="#fde39c" />
<rect x="426.52" y="161.35" width="5.40" height="7.25" fill="#fccb70" />
<rect x="431.42" y="161.35" width="5.40" height="7.25" fill="#fde39c" />
<rect x="436.32" y="161.35" width="5.40" height="7.25" fill="#fde39c" />
<rect x="441.22" y="161.35" width="5.40" height="7.25" fill="#fbb054" />
<rect x="446.12" y="161.35" width="5.40" height="7.25" fill="#fde39c" />
<rect x="451.02" y="161.35" width="4.90" height="7.25" fill="#fbb054" />
<rect x="402.02" y="168.10" width="5.40" height="6.75" fill="#cddff0" />
<rect x="406.92" y="168.10" width="5.40" height="6.75" fill="#fde39c" />
<rect x="411.82" y="168.10" width="5.40" height="6.75" fill="#92bfdf" />
<rect x="416.72" y="168.10" width="5.40" height="6.75" fill="#92bfdf" />
<rect x="421.62" y="168.10" width="5.40" height="6.75" fill="#4b8ec5" />
<rect x="426.52" y="168.10" width="5.40" height="6.75" fill="#e6eff8" />
<rect x="431.42" y="168.10" width="5.40" height="6.75" fill="#cddff0" />
<rect x="436.32" y="168.10" width="5.40" height="6.75" fill="#e6eff8" />
<rect x="441.22" y="168.10" width="5.40" height="6.75" fill="#fde39c" />
<rect x="446.12" y="168.10" width="5.40" height="6.75" fill="#e6eff8" />
<rect x="451.02" y="168.10" width="4.90" height="6.75" fill="#fef2c2" />
<circle cx="409.37" cy="164.72" r="0.62" fill="#4a4a4a"/>
<circle cx="428.97" cy="164.72" r="0.62" fill="#4a4a4a"/>
<circle cx="443.67" cy="164.72" r="0.62" fill="#4a4a4a"/>
<circle cx="453.47" cy="164.72" r="0.62" fill="#4a4a4a"/>
<rect x="402.02" y="154.60" width="53.90" height="20.25" fill="none" stroke="#6f6f6f" stroke-width="0.9" rx="0.8"/>
<rect x="402.02" y="179.00" width="5.40" height="7.25" fill="#92bfdf" />
<rect x="406.92" y="179.00" width="5.40" height="7.25" fill="#f8f8f7" />
<rect x="411.82" y="179.00" width="5.40" height="7.25" fill="#fef2c2" />
<rect x="416.72" y="179.00" width="5.40" height="7.25" fill="#e6eff8" />
<rect x="421.62" y="179.00" width="5.40" height="7.25" fill="#4b8ec5" />
<rect x="426.52" y="179.00" width="5.40" height="7.25" fill="#92bfdf" />
<rect x="431.42" y="179.00" width="5.40" height="7.25" fill="#4b8ec5" />
<rect x="436.32" y="179.00" width="5.40" height="7.25" fill="#cddff0" />
<rect x="441.22" y="179.00" width="5.40" height="7.25" fill="#4b8ec5" />
<rect x="446.12" y="179.00" width="5.40" height="7.25" fill="#92bfdf" />
<rect x="451.02" y="179.00" width="4.90" height="7.25" fill="#4b8ec5" />
<rect x="402.02" y="185.75" width="5.40" height="7.25" fill="#fbb054" />
<rect x="406.92" y="185.75" width="5.40" height="7.25" fill="#fbb054" />
<rect x="411.82" y="185.75" width="5.40" height="7.25" fill="#d9302a" />
<rect x="416.72" y="185.75" width="5.40" height="7.25" fill="#950c28" />
<rect x="421.62" y="185.75" width="5.40" height="7.25" fill="#950c28" />
<rect x="426.52" y="185.75" width="5.40" height="7.25" fill="#fccb70" />
<rect x="431.42" y="185.75" width="5.40" height="7.25" fill="#fbb054" />
<rect x="436.32" y="185.75" width="5.40" height="7.25" fill="#fccb70" />
<rect x="441.22" y="185.75" width="5.40" height="7.25" fill="#f6843e" />
<rect x="446.12" y="185.75" width="5.40" height="7.25" fill="#fde39c" />
<rect x="451.02" y="185.75" width="4.90" height="7.25" fill="#fbb054" />
<rect x="402.02" y="192.50" width="5.40" height="7.25" fill="#fbb054" />
<rect x="406.92" y="192.50" width="5.40" height="7.25" fill="#e6eff8" />
<rect x="411.82" y="192.50" width="5.40" height="7.25" fill="#fccb70" />
<rect x="416.72" y="192.50" width="5.40" height="7.25" fill="#fccb70" />
<rect x="421.62" y="192.50" width="5.40" height="7.25" fill="#d9302a" />
<rect x="426.52" y="192.50" width="5.40" height="7.25" fill="#fccb70" />
<rect x="431.42" y="192.50" width="5.40" height="7.25" fill="#fbb054" />
<rect x="436.32" y="192.50" width="5.40" height="7.25" fill="#fef2c2" />
<rect x="441.22" y="192.50" width="5.40" height="7.25" fill="#fbb054" />
<rect x="446.12" y="192.50" width="5.40" height="7.25" fill="#fccb70" />
<rect x="451.02" y="192.50" width="4.90" height="7.25" fill="#fccb70" />
<rect x="402.02" y="199.25" width="5.40" height="7.25" fill="#fccb70" />
<rect x="406.92" y="199.25" width="5.40" height="7.25" fill="#cddff0" />
<rect x="411.82" y="199.25" width="5.40" height="7.25" fill="#fccb70" />
<rect x="416.72" y="199.25" width="5.40" height="7.25" fill="#fccb70" />
<rect x="421.62" y="199.25" width="5.40" height="7.25" fill="#f6843e" />
<rect x="426.52" y="199.25" width="5.40" height="7.25" fill="#fde39c" />
<rect x="431.42" y="199.25" width="5.40" height="7.25" fill="#fbb054" />
<rect x="436.32" y="199.25" width="5.40" height="7.25" fill="#fef2c2" />
<rect x="441.22" y="199.25" width="5.40" height="7.25" fill="#fccb70" />
<rect x="446.12" y="199.25" width="5.40" height="7.25" fill="#fef2c2" />
<rect x="451.02" y="199.25" width="4.90" height="7.25" fill="#fef2c2" />
<rect x="402.02" y="206.00" width="5.40" height="7.25" fill="#fccb70" />
<rect x="406.92" y="206.00" width="5.40" height="7.25" fill="#e6eff8" />
<rect x="411.82" y="206.00" width="5.40" height="7.25" fill="#fccb70" />
<rect x="416.72" y="206.00" width="5.40" height="7.25" fill="#fccb70" />
<rect x="421.62" y="206.00" width="5.40" height="7.25" fill="#d9302a" />
<rect x="426.52" y="206.00" width="5.40" height="7.25" fill="#fccb70" />
<rect x="431.42" y="206.00" width="5.40" height="7.25" fill="#fbb054" />
<rect x="436.32" y="206.00" width="5.40" height="7.25" fill="#fccb70" />
<rect x="441.22" y="206.00" width="5.40" height="7.25" fill="#fbb054" />
<rect x="446.12" y="206.00" width="5.40" height="7.25" fill="#fbb054" />
<rect x="451.02" y="206.00" width="4.90" height="7.25" fill="#fccb70" />
<rect x="402.02" y="212.75" width="5.40" height="7.25" fill="#fde39c" />
<rect x="406.92" y="212.75" width="5.40" height="7.25" fill="#f8f8f7" />
<rect x="411.82" y="212.75" width="5.40" height="7.25" fill="#fccb70" />
<rect x="416.72" y="212.75" width="5.40" height="7.25" fill="#fde39c" />
<rect x="421.62" y="212.75" width="5.40" height="7.25" fill="#fbb054" />
<rect x="426.52" y="212.75" width="5.40" height="7.25" fill="#fde39c" />
<rect x="431.42" y="212.75" width="5.40" height="7.25" fill="#fde39c" />
<rect x="436.32" y="212.75" width="5.40" height="7.25" fill="#fef2c2" />
<rect x="441.22" y="212.75" width="5.40" height="7.25" fill="#fef2c2" />
<rect x="446.12" y="212.75" width="5.40" height="7.25" fill="#fef2c2" />
<rect x="451.02" y="212.75" width="4.90" height="7.25" fill="#fef2c2" />
<rect x="402.02" y="219.50" width="5.40" height="6.75" fill="#fbb054" />
<rect x="406.92" y="219.50" width="5.40" height="6.75" fill="#cddff0" />
<rect x="411.82" y="219.50" width="5.40" height="6.75" fill="#fbb054" />
<rect x="416.72" y="219.50" width="5.40" height="6.75" fill="#fbb054" />
<rect x="421.62" y="219.50" width="5.40" height="6.75" fill="#950c28" />
<rect x="426.52" y="219.50" width="5.40" height="6.75" fill="#fef2c2" />
<rect x="431.42" y="219.50" width="5.40" height="6.75" fill="#fbb054" />
<rect x="436.32" y="219.50" width="5.40" height="6.75" fill="#fde39c" />
<rect x="441.22" y="219.50" width="5.40" height="6.75" fill="#fbb054" />
<rect x="446.12" y="219.50" width="5.40" height="6.75" fill="#fbb054" />
<rect x="451.02" y="219.50" width="4.90" height="6.75" fill="#fbb054" />
<circle cx="404.47" cy="189.12" r="0.62" fill="#4a4a4a"/>
<circle cx="409.37" cy="189.12" r="0.62" fill="#4a4a4a"/>
<circle cx="414.27" cy="189.12" r="0.62" fill="#4a4a4a"/>
<circle cx="419.17" cy="189.12" r="0.62" fill="#4a4a4a"/>
<circle cx="424.07" cy="189.12" r="0.62" fill="#4a4a4a"/>
<circle cx="428.97" cy="189.12" r="0.62" fill="#4a4a4a"/>
<circle cx="433.87" cy="189.12" r="0.62" fill="#4a4a4a"/>
<circle cx="438.77" cy="189.12" r="0.62" fill="#4a4a4a"/>
<circle cx="443.67" cy="189.12" r="0.62" fill="#4a4a4a"/>
<circle cx="448.57" cy="189.12" r="0.62" fill="#4a4a4a"/>
<circle cx="453.47" cy="189.12" r="0.62" fill="#4a4a4a"/>
<circle cx="404.47" cy="195.88" r="0.62" fill="#4a4a4a"/>
<circle cx="424.07" cy="195.88" r="0.62" fill="#4a4a4a"/>
<circle cx="428.97" cy="195.88" r="0.62" fill="#4a4a4a"/>
<circle cx="433.87" cy="195.88" r="0.62" fill="#4a4a4a"/>
<circle cx="443.67" cy="195.88" r="0.62" fill="#4a4a4a"/>
<circle cx="448.57" cy="195.88" r="0.62" fill="#4a4a4a"/>
<circle cx="404.47" cy="202.62" r="0.62" fill="#4a4a4a"/>
<circle cx="414.27" cy="202.62" r="0.62" fill="#4a4a4a"/>
<circle cx="424.07" cy="202.62" r="0.62" fill="#4a4a4a"/>
<circle cx="433.87" cy="202.62" r="0.62" fill="#4a4a4a"/>
<circle cx="404.47" cy="209.38" r="0.62" fill="#4a4a4a"/>
<circle cx="424.07" cy="209.38" r="0.62" fill="#4a4a4a"/>
<circle cx="433.87" cy="209.38" r="0.62" fill="#4a4a4a"/>
<circle cx="443.67" cy="209.38" r="0.62" fill="#4a4a4a"/>
<circle cx="448.57" cy="209.38" r="0.62" fill="#4a4a4a"/>
<circle cx="404.47" cy="222.88" r="0.62" fill="#4a4a4a"/>
<circle cx="414.27" cy="222.88" r="0.62" fill="#4a4a4a"/>
<circle cx="419.17" cy="222.88" r="0.62" fill="#4a4a4a"/>
<circle cx="424.07" cy="222.88" r="0.62" fill="#4a4a4a"/>
<circle cx="433.87" cy="222.88" r="0.62" fill="#4a4a4a"/>
<circle cx="443.67" cy="222.88" r="0.62" fill="#4a4a4a"/>
<circle cx="448.57" cy="222.88" r="0.62" fill="#4a4a4a"/>
<circle cx="453.47" cy="222.88" r="0.62" fill="#4a4a4a"/>
<rect x="402.02" y="179.00" width="53.90" height="47.25" fill="none" stroke="#6f6f6f" stroke-width="0.9" rx="0.8"/>
<rect x="402.02" y="229.50" width="5.30" height="5.50" fill="#7cc5dc" />
<rect x="406.92" y="229.50" width="5.30" height="5.50" fill="#0d4f67" />
<rect x="411.82" y="229.50" width="5.30" height="5.50" fill="#a5c85b" />
<rect x="416.72" y="229.50" width="5.30" height="5.50" fill="#6a9c4d" />
<rect x="421.62" y="229.50" width="5.30" height="5.50" fill="#3a6a40" />
<rect x="426.52" y="229.50" width="5.30" height="5.50" fill="#fdf0aa" />
<rect x="431.42" y="229.50" width="5.30" height="5.50" fill="#e5a23e" />
<rect x="436.32" y="229.50" width="5.30" height="5.50" fill="#a62f35" />
<rect x="441.22" y="229.50" width="5.30" height="5.50" fill="#5a0e16" />
<rect x="446.12" y="229.50" width="5.30" height="5.50" fill="#94678a" />
<rect x="451.02" y="229.50" width="4.90" height="5.50" fill="#6a1f3d" />
<path d="M406.92,229.5V235 M411.82,229.5V235 M416.72,229.5V235 M421.62,229.5V235 M426.52,229.5V235 M431.42,229.5V235 M436.32,229.5V235 M441.22,229.5V235 M446.12,229.5V235 M451.02,229.5V235" stroke="#2a2a2a" stroke-width="0.45"/>
<rect x="402.02" y="229.5" width="53.90" height="5.5" fill="none" stroke="#444" stroke-width="0.55"/>
<text x="428.97" y="71.20" font-size="7.6" text-anchor="middle" >IFN-induced</text>
<line x1="402.02" y1="74.6" x2="455.92" y2="74.6" stroke="#8a8a8a" stroke-width="0.9"/>
<rect x="459.38" y="82.00" width="5.40" height="7.25" fill="#fef2c2" />
<rect x="464.28" y="82.00" width="5.40" height="7.25" fill="#e6eff8" />
<rect x="469.18" y="82.00" width="5.40" height="7.25" fill="#fde39c" />
<rect x="474.08" y="82.00" width="5.40" height="7.25" fill="#cddff0" />
<rect x="478.98" y="82.00" width="5.40" height="7.25" fill="#cddff0" />
<rect x="483.88" y="82.00" width="5.40" height="7.25" fill="#fde39c" />
<rect x="488.78" y="82.00" width="5.40" height="7.25" fill="#fde39c" />
<rect x="493.68" y="82.00" width="5.40" height="7.25" fill="#fde39c" />
<rect x="498.58" y="82.00" width="5.40" height="7.25" fill="#e6eff8" />
<rect x="503.48" y="82.00" width="5.40" height="7.25" fill="#e6eff8" />
<rect x="508.38" y="82.00" width="4.90" height="7.25" fill="#e6eff8" />
<rect x="459.38" y="88.75" width="5.40" height="7.25" fill="#fef2c2" />
<rect x="464.28" y="88.75" width="5.40" height="7.25" fill="#f8f8f7" />
<rect x="469.18" y="88.75" width="5.40" height="7.25" fill="#fef2c2" />
<rect x="474.08" y="88.75" width="5.40" height="7.25" fill="#fef2c2" />
<rect x="478.98" y="88.75" width="5.40" height="7.25" fill="#e6eff8" />
<rect x="483.88" y="88.75" width="5.40" height="7.25" fill="#fef2c2" />
<rect x="488.78" y="88.75" width="5.40" height="7.25" fill="#fef2c2" />
<rect x="493.68" y="88.75" width="5.40" height="7.25" fill="#fef2c2" />
<rect x="498.58" y="88.75" width="5.40" height="7.25" fill="#fef2c2" />
<rect x="503.48" y="88.75" width="5.40" height="7.25" fill="#fef2c2" />
<rect x="508.38" y="88.75" width="4.90" height="7.25" fill="#fef2c2" />
<rect x="459.38" y="95.50" width="5.40" height="7.25" fill="#e6eff8" />
<rect x="464.28" y="95.50" width="5.40" height="7.25" fill="#fccb70" />
<rect x="469.18" y="95.50" width="5.40" height="7.25" fill="#f8f8f7" />
<rect x="474.08" y="95.50" width="5.40" height="7.25" fill="#cddff0" />
<rect x="478.98" y="95.50" width="5.40" height="7.25" fill="#fccb70" />
<rect x="483.88" y="95.50" width="5.40" height="7.25" fill="#fef2c2" />
<rect x="488.78" y="95.50" width="5.40" height="7.25" fill="#e6eff8" />
<rect x="493.68" y="95.50" width="5.40" height="7.25" fill="#e6eff8" />
<rect x="498.58" y="95.50" width="5.40" height="7.25" fill="#cddff0" />
<rect x="503.48" y="95.50" width="5.40" height="7.25" fill="#92bfdf" />
<rect x="508.38" y="95.50" width="4.90" height="7.25" fill="#92bfdf" />
<rect x="459.38" y="102.25" width="5.40" height="6.75" fill="#e6eff8" />
<rect x="464.28" y="102.25" width="5.40" height="6.75" fill="#fef2c2" />
<rect x="469.18" y="102.25" width="5.40" height="6.75" fill="#e6eff8" />
<rect x="474.08" y="102.25" width="5.40" height="6.75" fill="#cddff0" />
<rect x="478.98" y="102.25" width="5.40" height="6.75" fill="#cddff0" />
<rect x="483.88" y="102.25" width="5.40" height="6.75" fill="#fef2c2" />
<rect x="488.78" y="102.25" width="5.40" height="6.75" fill="#fef2c2" />
<rect x="493.68" y="102.25" width="5.40" height="6.75" fill="#fef2c2" />
<rect x="498.58" y="102.25" width="5.40" height="6.75" fill="#cddff0" />
<rect x="503.48" y="102.25" width="5.40" height="6.75" fill="#cddff0" />
<rect x="508.38" y="102.25" width="4.90" height="6.75" fill="#e6eff8" />
<circle cx="486.33" cy="92.12" r="0.62" fill="#4a4a4a"/>
<rect x="459.38" y="82.00" width="53.90" height="27.00" fill="none" stroke="#6f6f6f" stroke-width="0.9" rx="0.8"/>
<rect x="459.38" y="113.00" width="5.40" height="7.25" fill="#fef2c2" />
<rect x="464.28" y="113.00" width="5.40" height="7.25" fill="#e6eff8" />
<rect x="469.18" y="113.00" width="5.40" height="7.25" fill="#f8f8f7" />
<rect x="474.08" y="113.00" width="5.40" height="7.25" fill="#fef2c2" />
<rect x="478.98" y="113.00" width="5.40" height="7.25" fill="#e6eff8" />
<rect x="483.88" y="113.00" width="5.40" height="7.25" fill="#fef2c2" />
<rect x="488.78" y="113.00" width="5.40" height="7.25" fill="#fef2c2" />
<rect x="493.68" y="113.00" width="5.40" height="7.25" fill="#e6eff8" />
<rect x="498.58" y="113.00" width="5.40" height="7.25" fill="#fef2c2" />
<rect x="503.48" y="113.00" width="5.40" height="7.25" fill="#e6eff8" />
<rect x="508.38" y="113.00" width="4.90" height="7.25" fill="#fef2c2" />
<rect x="459.38" y="119.75" width="5.40" height="7.25" fill="#e6eff8" />
<rect x="464.28" y="119.75" width="5.40" height="7.25" fill="#e6eff8" />
<rect x="469.18" y="119.75" width="5.40" height="7.25" fill="#e6eff8" />
<rect x="474.08" y="119.75" width="5.40" height="7.25" fill="#e6eff8" />
<rect x="478.98" y="119.75" width="5.40" height="7.25" fill="#cddff0" />
<rect x="483.88" y="119.75" width="5.40" height="7.25" fill="#e6eff8" />
<rect x="488.78" y="119.75" width="5.40" height="7.25" fill="#fef2c2" />
<rect x="493.68" y="119.75" width="5.40" height="7.25" fill="#e6eff8" />
<rect x="498.58" y="119.75" width="5.40" height="7.25" fill="#fef2c2" />
<rect x="503.48" y="119.75" width="5.40" height="7.25" fill="#e6eff8" />
<rect x="508.38" y="119.75" width="4.90" height="7.25" fill="#e6eff8" />
<rect x="459.38" y="126.50" width="5.40" height="7.25" fill="#fef2c2" />
<rect x="464.28" y="126.50" width="5.40" height="7.25" fill="#fbb054" />
<rect x="469.18" y="126.50" width="5.40" height="7.25" fill="#f8f8f7" />
<rect x="474.08" y="126.50" width="5.40" height="7.25" fill="#92bfdf" />
<rect x="478.98" y="126.50" width="5.40" height="7.25" fill="#fde39c" />
<rect x="483.88" y="126.50" width="5.40" height="7.25" fill="#e6eff8" />
<rect x="488.78" y="126.50" width="5.40" height="7.25" fill="#cddff0" />
<rect x="493.68" y="126.50" width="5.40" height="7.25" fill="#f8f8f7" />
<rect x="498.58" y="126.50" width="5.40" height="7.25" fill="#92bfdf" />
<rect x="503.48" y="126.50" width="5.40" height="7.25" fill="#4b8ec5" />
<rect x="508.38" y="126.50" width="4.90" height="7.25" fill="#e6eff8" />
<rect x="459.38" y="133.25" width="5.40" height="6.75" fill="#cddff0" />
<rect x="464.28" y="133.25" width="5.40" height="6.75" fill="#cddff0" />
<rect x="469.18" y="133.25" width="5.40" height="6.75" fill="#f8f8f7" />
<rect x="474.08" y="133.25" width="5.40" height="6.75" fill="#f8f8f7" />
<rect x="478.98" y="133.25" width="5.40" height="6.75" fill="#cddff0" />
<rect x="483.88" y="133.25" width="5.40" height="6.75" fill="#e6eff8" />
<rect x="488.78" y="133.25" width="5.40" height="6.75" fill="#cddff0" />
<rect x="493.68" y="133.25" width="5.40" height="6.75" fill="#e6eff8" />
<rect x="498.58" y="133.25" width="5.40" height="6.75" fill="#fef2c2" />
<rect x="503.48" y="133.25" width="5.40" height="6.75" fill="#e6eff8" />
<rect x="508.38" y="133.25" width="4.90" height="6.75" fill="#cddff0" />
<circle cx="501.03" cy="116.38" r="0.62" fill="#4a4a4a"/>
<circle cx="481.43" cy="123.12" r="0.62" fill="#4a4a4a"/>
<circle cx="466.73" cy="129.88" r="0.62" fill="#4a4a4a"/>
<circle cx="476.53" cy="129.88" r="0.62" fill="#4a4a4a"/>
<circle cx="501.03" cy="129.88" r="0.62" fill="#4a4a4a"/>
<circle cx="505.93" cy="129.88" r="0.62" fill="#4a4a4a"/>
<circle cx="510.83" cy="129.88" r="0.62" fill="#4a4a4a"/>
<rect x="459.38" y="113.00" width="53.90" height="27.00" fill="none" stroke="#6f6f6f" stroke-width="0.9" rx="0.8"/>
<rect x="459.38" y="144.20" width="5.40" height="6.75" fill="#f8f8f7" />
<rect x="464.28" y="144.20" width="5.40" height="6.75" fill="#e6eff8" />
<rect x="469.18" y="144.20" width="5.40" height="6.75" fill="#e6eff8" />
<rect x="474.08" y="144.20" width="5.40" height="6.75" fill="#fef2c2" />
<rect x="478.98" y="144.20" width="5.40" height="6.75" fill="#cddff0" />
<rect x="483.88" y="144.20" width="5.40" height="6.75" fill="#fef2c2" />
<rect x="488.78" y="144.20" width="5.40" height="6.75" fill="#f8f8f7" />
<rect x="493.68" y="144.20" width="5.40" height="6.75" fill="#fef2c2" />
<rect x="498.58" y="144.20" width="5.40" height="6.75" fill="#fef2c2" />
<rect x="503.48" y="144.20" width="5.40" height="6.75" fill="#fef2c2" />
<rect x="508.38" y="144.20" width="4.90" height="6.75" fill="#fef2c2" />
<circle cx="481.43" cy="147.57" r="0.62" fill="#4a4a4a"/>
<circle cx="501.03" cy="147.57" r="0.62" fill="#4a4a4a"/>
<rect x="459.38" y="144.20" width="53.90" height="6.75" fill="none" stroke="#6f6f6f" stroke-width="0.9" rx="0.8"/>
<rect x="459.38" y="154.60" width="5.40" height="7.25" fill="#fef2c2" />
<rect x="464.28" y="154.60" width="5.40" height="7.25" fill="#fde39c" />
<rect x="469.18" y="154.60" width="5.40" height="7.25" fill="#e6eff8" />
<rect x="474.08" y="154.60" width="5.40" height="7.25" fill="#fccb70" />
<rect x="478.98" y="154.60" width="5.40" height="7.25" fill="#fccb70" />
<rect x="483.88" y="154.60" width="5.40" height="7.25" fill="#fde39c" />
<rect x="488.78" y="154.60" width="5.40" height="7.25" fill="#fde39c" />
<rect x="493.68" y="154.60" width="5.40" height="7.25" fill="#fde39c" />
<rect x="498.58" y="154.60" width="5.40" height="7.25" fill="#fde39c" />
<rect x="503.48" y="154.60" width="5.40" height="7.25" fill="#fde39c" />
<rect x="508.38" y="154.60" width="4.90" height="7.25" fill="#fde39c" />
<rect x="459.38" y="161.35" width="5.40" height="7.25" fill="#fef2c2" />
<rect x="464.28" y="161.35" width="5.40" height="7.25" fill="#fde39c" />
<rect x="469.18" y="161.35" width="5.40" height="7.25" fill="#fef2c2" />
<rect x="474.08" y="161.35" width="5.40" height="7.25" fill="#e6eff8" />
<rect x="478.98" y="161.35" width="5.40" height="7.25" fill="#e6eff8" />
<rect x="483.88" y="161.35" width="5.40" height="7.25" fill="#fde39c" />
<rect x="488.78" y="161.35" width="5.40" height="7.25" fill="#fef2c2" />
<rect x="493.68" y="161.35" width="5.40" height="7.25" fill="#fef2c2" />
<rect x="498.58" y="161.35" width="5.40" height="7.25" fill="#fef2c2" />
<rect x="503.48" y="161.35" width="5.40" height="7.25" fill="#fef2c2" />
<rect x="508.38" y="161.35" width="4.90" height="7.25" fill="#fef2c2" />
<rect x="459.38" y="168.10" width="5.40" height="6.75" fill="#fef2c2" />
<rect x="464.28" y="168.10" width="5.40" height="6.75" fill="#fef2c2" />
<rect x="469.18" y="168.10" width="5.40" height="6.75" fill="#e6eff8" />
<rect x="474.08" y="168.10" width="5.40" height="6.75" fill="#e6eff8" />
<rect x="478.98" y="168.10" width="5.40" height="6.75" fill="#e6eff8" />
<rect x="483.88" y="168.10" width="5.40" height="6.75" fill="#e6eff8" />
<rect x="488.78" y="168.10" width="5.40" height="6.75" fill="#e6eff8" />
<rect x="493.68" y="168.10" width="5.40" height="6.75" fill="#e6eff8" />
<rect x="498.58" y="168.10" width="5.40" height="6.75" fill="#e6eff8" />
<rect x="503.48" y="168.10" width="5.40" height="6.75" fill="#fef2c2" />
<rect x="508.38" y="168.10" width="4.90" height="6.75" fill="#fef2c2" />
<circle cx="496.13" cy="157.97" r="0.62" fill="#4a4a4a"/>
<circle cx="486.33" cy="164.72" r="0.62" fill="#4a4a4a"/>
<circle cx="496.13" cy="164.72" r="0.62" fill="#4a4a4a"/>
<rect x="459.38" y="154.60" width="53.90" height="20.25" fill="none" stroke="#6f6f6f" stroke-width="0.9" rx="0.8"/>
<rect x="459.38" y="179.00" width="5.40" height="7.25" fill="#e6eff8" />
<rect x="464.28" y="179.00" width="5.40" height="7.25" fill="#f8f8f7" />
<rect x="469.18" y="179.00" width="5.40" height="7.25" fill="#fef2c2" />
<rect x="474.08" y="179.00" width="5.40" height="7.25" fill="#fef2c2" />
<rect x="478.98" y="179.00" width="5.40" height="7.25" fill="#fef2c2" />
<rect x="483.88" y="179.00" width="5.40" height="7.25" fill="#fef2c2" />
<rect x="488.78" y="179.00" width="5.40" height="7.25" fill="#fef2c2" />
<rect x="493.68" y="179.00" width="5.40" height="7.25" fill="#fef2c2" />
<rect x="498.58" y="179.00" width="5.40" height="7.25" fill="#fef2c2" />
<rect x="503.48" y="179.00" width="5.40" height="7.25" fill="#fef2c2" />
<rect x="508.38" y="179.00" width="4.90" height="7.25" fill="#fef2c2" />
<rect x="459.38" y="185.75" width="5.40" height="7.25" fill="#fef2c2" />
<rect x="464.28" y="185.75" width="5.40" height="7.25" fill="#fef2c2" />
<rect x="469.18" y="185.75" width="5.40" height="7.25" fill="#fef2c2" />
<rect x="474.08" y="185.75" width="5.40" height="7.25" fill="#fde39c" />
<rect x="478.98" y="185.75" width="5.40" height="7.25" fill="#fde39c" />
<rect x="483.88" y="185.75" width="5.40" height="7.25" fill="#fef2c2" />
<rect x="488.78" y="185.75" width="5.40" height="7.25" fill="#fccb70" />
<rect x="493.68" y="185.75" width="5.40" height="7.25" fill="#fde39c" />
<rect x="498.58" y="185.75" width="5.40" height="7.25" fill="#fde39c" />
<rect x="503.48" y="185.75" width="5.40" height="7.25" fill="#fef2c2" />
<rect x="508.38" y="185.75" width="4.90" height="7.25" fill="#fef2c2" />
<rect x="459.38" y="192.50" width="5.40" height="7.25" fill="#e6eff8" />
<rect x="464.28" y="192.50" width="5.40" height="7.25" fill="#fef2c2" />
<rect x="469.18" y="192.50" width="5.40" height="7.25" fill="#e6eff8" />
<rect x="474.08" y="192.50" width="5.40" height="7.25" fill="#fef2c2" />
<rect x="478.98" y="192.50" width="5.40" height="7.25" fill="#fef2c2" />
<rect x="483.88" y="192.50" width="5.40" height="7.25" fill="#e6eff8" />
<rect x="488.78" y="192.50" width="5.40" height="7.25" fill="#fef2c2" />
<rect x="493.68" y="192.50" width="5.40" height="7.25" fill="#e6eff8" />
<rect x="498.58" y="192.50" width="5.40" height="7.25" fill="#e6eff8" />
<rect x="503.48" y="192.50" width="5.40" height="7.25" fill="#e6eff8" />
<rect x="508.38" y="192.50" width="4.90" height="7.25" fill="#e6eff8" />
<rect x="459.38" y="199.25" width="5.40" height="7.25" fill="#e6eff8" />
<rect x="464.28" y="199.25" width="5.40" height="7.25" fill="#cddff0" />
<rect x="469.18" y="199.25" width="5.40" height="7.25" fill="#fde39c" />
<rect x="474.08" y="199.25" width="5.40" height="7.25" fill="#fde39c" />
<rect x="478.98" y="199.25" width="5.40" height="7.25" fill="#fde39c" />
<rect x="483.88" y="199.25" width="5.40" height="7.25" fill="#e6eff8" />
<rect x="488.78" y="199.25" width="5.40" height="7.25" fill="#fef2c2" />
<rect x="493.68" y="199.25" width="5.40" height="7.25" fill="#fef2c2" />
<rect x="498.58" y="199.25" width="5.40" height="7.25" fill="#fef2c2" />
<rect x="503.48" y="199.25" width="5.40" height="7.25" fill="#e6eff8" />
<rect x="508.38" y="199.25" width="4.90" height="7.25" fill="#e6eff8" />
<rect x="459.38" y="206.00" width="5.40" height="7.25" fill="#f8f8f7" />
<rect x="464.28" y="206.00" width="5.40" height="7.25" fill="#fef2c2" />
<rect x="469.18" y="206.00" width="5.40" height="7.25" fill="#fef2c2" />
<rect x="474.08" y="206.00" width="5.40" height="7.25" fill="#fef2c2" />
<rect x="478.98" y="206.00" width="5.40" height="7.25" fill="#fef2c2" />
<rect x="483.88" y="206.00" width="5.40" height="7.25" fill="#e6eff8" />
<rect x="488.78" y="206.00" width="5.40" height="7.25" fill="#92bfdf" />
<rect x="493.68" y="206.00" width="5.40" height="7.25" fill="#cddff0" />
<rect x="498.58" y="206.00" width="5.40" height="7.25" fill="#e6eff8" />
<rect x="503.48" y="206.00" width="5.40" height="7.25" fill="#f8f8f7" />
<rect x="508.38" y="206.00" width="4.90" height="7.25" fill="#92bfdf" />
<rect x="459.38" y="212.75" width="5.40" height="7.25" fill="#e6eff8" />
<rect x="464.28" y="212.75" width="5.40" height="7.25" fill="#f8f8f7" />
<rect x="469.18" y="212.75" width="5.40" height="7.25" fill="#e6eff8" />
<rect x="474.08" y="212.75" width="5.40" height="7.25" fill="#fef2c2" />
<rect x="478.98" y="212.75" width="5.40" height="7.25" fill="#fef2c2" />
<rect x="483.88" y="212.75" width="5.40" height="7.25" fill="#e6eff8" />
<rect x="488.78" y="212.75" width="5.40" height="7.25" fill="#e6eff8" />
<rect x="493.68" y="212.75" width="5.40" height="7.25" fill="#e6eff8" />
<rect x="498.58" y="212.75" width="5.40" height="7.25" fill="#e6eff8" />
<rect x="503.48" y="212.75" width="5.40" height="7.25" fill="#e6eff8" />
<rect x="508.38" y="212.75" width="4.90" height="7.25" fill="#cddff0" />
<rect x="459.38" y="219.50" width="5.40" height="6.75" fill="#e6eff8" />
<rect x="464.28" y="219.50" width="5.40" height="6.75" fill="#e6eff8" />
<rect x="469.18" y="219.50" width="5.40" height="6.75" fill="#fef2c2" />
<rect x="474.08" y="219.50" width="5.40" height="6.75" fill="#fef2c2" />
<rect x="478.98" y="219.50" width="5.40" height="6.75" fill="#fef2c2" />
<rect x="483.88" y="219.50" width="5.40" height="6.75" fill="#e6eff8" />
<rect x="488.78" y="219.50" width="5.40" height="6.75" fill="#fef2c2" />
<rect x="493.68" y="219.50" width="5.40" height="6.75" fill="#e6eff8" />
<rect x="498.58" y="219.50" width="5.40" height="6.75" fill="#e6eff8" />
<rect x="503.48" y="219.50" width="5.40" height="6.75" fill="#e6eff8" />
<rect x="508.38" y="219.50" width="4.90" height="6.75" fill="#cddff0" />
<circle cx="476.53" cy="189.12" r="0.62" fill="#4a4a4a"/>
<circle cx="481.43" cy="189.12" r="0.62" fill="#4a4a4a"/>
<circle cx="486.33" cy="189.12" r="0.62" fill="#4a4a4a"/>
<circle cx="491.23" cy="189.12" r="0.62" fill="#4a4a4a"/>
<circle cx="496.13" cy="189.12" r="0.62" fill="#4a4a4a"/>
<circle cx="501.03" cy="189.12" r="0.62" fill="#4a4a4a"/>
<circle cx="471.63" cy="202.62" r="0.62" fill="#4a4a4a"/>
<circle cx="476.53" cy="202.62" r="0.62" fill="#4a4a4a"/>
<circle cx="481.43" cy="202.62" r="0.62" fill="#4a4a4a"/>
<circle cx="486.33" cy="202.62" r="0.62" fill="#4a4a4a"/>
<circle cx="476.53" cy="209.38" r="0.62" fill="#4a4a4a"/>
<circle cx="486.33" cy="209.38" r="0.62" fill="#4a4a4a"/>
<circle cx="491.23" cy="209.38" r="0.62" fill="#4a4a4a"/>
<circle cx="496.13" cy="209.38" r="0.62" fill="#4a4a4a"/>
<circle cx="501.03" cy="209.38" r="0.62" fill="#4a4a4a"/>
<circle cx="510.83" cy="209.38" r="0.62" fill="#4a4a4a"/>
<circle cx="461.83" cy="216.12" r="0.62" fill="#4a4a4a"/>
<circle cx="486.33" cy="216.12" r="0.62" fill="#4a4a4a"/>
<circle cx="501.03" cy="216.12" r="0.62" fill="#4a4a4a"/>
<circle cx="510.83" cy="216.12" r="0.62" fill="#4a4a4a"/>
<circle cx="461.83" cy="222.88" r="0.62" fill="#4a4a4a"/>
<circle cx="476.53" cy="222.88" r="0.62" fill="#4a4a4a"/>
<circle cx="501.03" cy="222.88" r="0.62" fill="#4a4a4a"/>
<circle cx="510.83" cy="222.88" r="0.62" fill="#4a4a4a"/>
<rect x="459.38" y="179.00" width="53.90" height="47.25" fill="none" stroke="#6f6f6f" stroke-width="0.9" rx="0.8"/>
<rect x="459.38" y="229.50" width="5.30" height="5.50" fill="#7cc5dc" />
<rect x="464.28" y="229.50" width="5.30" height="5.50" fill="#0d4f67" />
<rect x="469.18" y="229.50" width="5.30" height="5.50" fill="#a5c85b" />
<rect x="474.08" y="229.50" width="5.30" height="5.50" fill="#6a9c4d" />
<rect x="478.98" y="229.50" width="5.30" height="5.50" fill="#3a6a40" />
<rect x="483.88" y="229.50" width="5.30" height="5.50" fill="#fdf0aa" />
<rect x="488.78" y="229.50" width="5.30" height="5.50" fill="#e5a23e" />
<rect x="493.68" y="229.50" width="5.30" height="5.50" fill="#a62f35" />
<rect x="498.58" y="229.50" width="5.30" height="5.50" fill="#5a0e16" />
<rect x="503.48" y="229.50" width="5.30" height="5.50" fill="#94678a" />
<rect x="508.38" y="229.50" width="4.90" height="5.50" fill="#6a1f3d" />
<path d="M464.28,229.5V235 M469.18,229.5V235 M474.08,229.5V235 M478.98,229.5V235 M483.88,229.5V235 M488.78,229.5V235 M493.68,229.5V235 M498.58,229.5V235 M503.48,229.5V235 M508.38,229.5V235" stroke="#2a2a2a" stroke-width="0.45"/>
<rect x="459.38" y="229.5" width="53.90" height="5.5" fill="none" stroke="#444" stroke-width="0.55"/>
<text x="486.33" y="62.60" font-size="7.6" text-anchor="middle" >TNF</text>
<text x="486.33" y="71.20" font-size="7.6" text-anchor="middle" >receptor/ligand</text>
<line x1="459.38" y1="74.6" x2="513.28" y2="74.6" stroke="#8a8a8a" stroke-width="0.9"/>
<rect x="517.00" y="82.00" width="5.45" height="7.25" fill="#fde39c" />
<rect x="521.95" y="82.00" width="4.95" height="7.25" fill="#fef2c2" />
<rect x="517.00" y="88.75" width="5.45" height="7.25" fill="#e6eff8" />
<rect x="521.95" y="88.75" width="4.95" height="7.25" fill="#f8f8f7" />
<rect x="517.00" y="95.50" width="5.45" height="7.25" fill="#cddff0" />
<rect x="521.95" y="95.50" width="4.95" height="7.25" fill="#e6eff8" />
<rect x="517.00" y="102.25" width="5.45" height="6.75" fill="#fccb70" />
<rect x="521.95" y="102.25" width="4.95" height="6.75" fill="#fde39c" />
<rect x="517.00" y="82.00" width="9.90" height="27.00" fill="none" stroke="#6f6f6f" stroke-width="0.9" rx="0.8"/>
<rect x="517.00" y="113.00" width="5.45" height="7.25" fill="#e6eff8" />
<rect x="521.95" y="113.00" width="4.95" height="7.25" fill="#e6eff8" />
<rect x="517.00" y="119.75" width="5.45" height="7.25" fill="#f8f8f7" />
<rect x="521.95" y="119.75" width="4.95" height="7.25" fill="#e6eff8" />
<rect x="517.00" y="126.50" width="5.45" height="7.25" fill="#cddff0" />
<rect x="521.95" y="126.50" width="4.95" height="7.25" fill="#cddff0" />
<rect x="517.00" y="133.25" width="5.45" height="6.75" fill="#fde39c" />
<rect x="521.95" y="133.25" width="4.95" height="6.75" fill="#e6eff8" />
<circle cx="524.43" cy="123.12" r="0.62" fill="#4a4a4a"/>
<circle cx="519.48" cy="129.88" r="0.62" fill="#4a4a4a"/>
<rect x="517.00" y="113.00" width="9.90" height="27.00" fill="none" stroke="#6f6f6f" stroke-width="0.9" rx="0.8"/>
<rect x="517.00" y="144.20" width="5.45" height="6.75" fill="#fef2c2" />
<rect x="521.95" y="144.20" width="4.95" height="6.75" fill="#fef2c2" />
<rect x="517.00" y="144.20" width="9.90" height="6.75" fill="none" stroke="#6f6f6f" stroke-width="0.9" rx="0.8"/>
<rect x="517.00" y="154.60" width="5.45" height="7.25" fill="#fccb70" />
<rect x="521.95" y="154.60" width="4.95" height="7.25" fill="#fccb70" />
<rect x="517.00" y="161.35" width="5.45" height="7.25" fill="#e6eff8" />
<rect x="521.95" y="161.35" width="4.95" height="7.25" fill="#e6eff8" />
<rect x="517.00" y="168.10" width="5.45" height="6.75" fill="#fef2c2" />
<rect x="521.95" y="168.10" width="4.95" height="6.75" fill="#fef2c2" />
<circle cx="519.48" cy="157.97" r="0.62" fill="#4a4a4a"/>
<circle cx="524.43" cy="157.97" r="0.62" fill="#4a4a4a"/>
<rect x="517.00" y="154.60" width="9.90" height="20.25" fill="none" stroke="#6f6f6f" stroke-width="0.9" rx="0.8"/>
<rect x="517.00" y="179.00" width="5.45" height="7.25" fill="#fef2c2" />
<rect x="521.95" y="179.00" width="4.95" height="7.25" fill="#fef2c2" />
<rect x="517.00" y="185.75" width="5.45" height="7.25" fill="#fef2c2" />
<rect x="521.95" y="185.75" width="4.95" height="7.25" fill="#e6eff8" />
<rect x="517.00" y="192.50" width="5.45" height="7.25" fill="#fde39c" />
<rect x="521.95" y="192.50" width="4.95" height="7.25" fill="#fde39c" />
<rect x="517.00" y="199.25" width="5.45" height="7.25" fill="#fef2c2" />
<rect x="521.95" y="199.25" width="4.95" height="7.25" fill="#fde39c" />
<rect x="517.00" y="206.00" width="5.45" height="7.25" fill="#fde39c" />
<rect x="521.95" y="206.00" width="4.95" height="7.25" fill="#fde39c" />
<rect x="517.00" y="212.75" width="5.45" height="7.25" fill="#fef2c2" />
<rect x="521.95" y="212.75" width="4.95" height="7.25" fill="#fef2c2" />
<rect x="517.00" y="219.50" width="5.45" height="6.75" fill="#fde39c" />
<rect x="521.95" y="219.50" width="4.95" height="6.75" fill="#fde39c" />
<circle cx="524.43" cy="189.12" r="0.62" fill="#4a4a4a"/>
<circle cx="519.48" cy="195.88" r="0.62" fill="#4a4a4a"/>
<circle cx="524.43" cy="195.88" r="0.62" fill="#4a4a4a"/>
<circle cx="524.43" cy="202.62" r="0.62" fill="#4a4a4a"/>
<circle cx="519.48" cy="209.38" r="0.62" fill="#4a4a4a"/>
<circle cx="524.43" cy="209.38" r="0.62" fill="#4a4a4a"/>
<circle cx="519.48" cy="222.88" r="0.62" fill="#4a4a4a"/>
<circle cx="524.43" cy="222.88" r="0.62" fill="#4a4a4a"/>
<rect x="517.00" y="179.00" width="9.90" height="47.25" fill="none" stroke="#6f6f6f" stroke-width="0.9" rx="0.8"/>
<rect x="517.00" y="229.50" width="5.35" height="5.50" fill="#fdf0aa" />
<rect x="521.95" y="229.50" width="4.95" height="5.50" fill="#e5a23e" />
<path d="M521.95,229.5V235" stroke="#2a2a2a" stroke-width="0.45"/>
<rect x="517.00" y="229.5" width="9.90" height="5.5" fill="none" stroke="#444" stroke-width="0.55"/>
<text transform="translate(523.85,71.4) rotate(-90)" font-size="7.45">Tfh</text>
<line x1="517.00" y1="74.6" x2="526.90" y2="74.6" stroke="#8a8a8a" stroke-width="0.9"/>
<rect x="530.40" y="82.00" width="5.45" height="7.25" fill="#fde39c" />
<rect x="535.35" y="82.00" width="4.95" height="7.25" fill="#fef2c2" />
<rect x="530.40" y="88.75" width="5.45" height="7.25" fill="#e6eff8" />
<rect x="535.35" y="88.75" width="4.95" height="7.25" fill="#e6eff8" />
<rect x="530.40" y="95.50" width="5.45" height="7.25" fill="#e6eff8" />
<rect x="535.35" y="95.50" width="4.95" height="7.25" fill="#fef2c2" />
<rect x="530.40" y="102.25" width="5.45" height="6.75" fill="#fccb70" />
<rect x="535.35" y="102.25" width="4.95" height="6.75" fill="#fde39c" />
<rect x="530.40" y="82.00" width="9.90" height="27.00" fill="none" stroke="#6f6f6f" stroke-width="0.9" rx="0.8"/>
<rect x="530.40" y="113.00" width="5.45" height="7.25" fill="#fef2c2" />
<rect x="535.35" y="113.00" width="4.95" height="7.25" fill="#fef2c2" />
<rect x="530.40" y="119.75" width="5.45" height="7.25" fill="#fef2c2" />
<rect x="535.35" y="119.75" width="4.95" height="7.25" fill="#e6eff8" />
<rect x="530.40" y="126.50" width="5.45" height="7.25" fill="#cddff0" />
<rect x="535.35" y="126.50" width="4.95" height="7.25" fill="#cddff0" />
<rect x="530.40" y="133.25" width="5.45" height="6.75" fill="#fccb70" />
<rect x="535.35" y="133.25" width="4.95" height="6.75" fill="#fde39c" />
<circle cx="537.83" cy="129.88" r="0.62" fill="#4a4a4a"/>
<circle cx="532.88" cy="136.62" r="0.62" fill="#4a4a4a"/>
<rect x="530.40" y="113.00" width="9.90" height="27.00" fill="none" stroke="#6f6f6f" stroke-width="0.9" rx="0.8"/>
<rect x="530.40" y="144.20" width="5.45" height="6.75" fill="#fef2c2" />
<rect x="535.35" y="144.20" width="4.95" height="6.75" fill="#fef2c2" />
<rect x="530.40" y="144.20" width="9.90" height="6.75" fill="none" stroke="#6f6f6f" stroke-width="0.9" rx="0.8"/>
<rect x="530.40" y="154.60" width="5.45" height="7.25" fill="#fccb70" />
<rect x="535.35" y="154.60" width="4.95" height="7.25" fill="#fccb70" />
<rect x="530.40" y="161.35" width="5.45" height="7.25" fill="#e6eff8" />
<rect x="535.35" y="161.35" width="4.95" height="7.25" fill="#e6eff8" />
<rect x="530.40" y="168.10" width="5.45" height="6.75" fill="#fef2c2" />
<rect x="535.35" y="168.10" width="4.95" height="6.75" fill="#fef2c2" />
<rect x="530.40" y="154.60" width="9.90" height="20.25" fill="none" stroke="#6f6f6f" stroke-width="0.9" rx="0.8"/>
<rect x="530.40" y="179.00" width="5.45" height="7.25" fill="#e6eff8" />
<rect x="535.35" y="179.00" width="4.95" height="7.25" fill="#fef2c2" />
<rect x="530.40" y="185.75" width="5.45" height="7.25" fill="#fde39c" />
<rect x="535.35" y="185.75" width="4.95" height="7.25" fill="#fde39c" />
<rect x="530.40" y="192.50" width="5.45" height="7.25" fill="#fccb70" />
<rect x="535.35" y="192.50" width="4.95" height="7.25" fill="#fccb70" />
<rect x="530.40" y="199.25" width="5.45" height="7.25" fill="#fde39c" />
<rect x="535.35" y="199.25" width="4.95" height="7.25" fill="#fccb70" />
<rect x="530.40" y="206.00" width="5.45" height="7.25" fill="#fde39c" />
<rect x="535.35" y="206.00" width="4.95" height="7.25" fill="#fde39c" />
<rect x="530.40" y="212.75" width="5.45" height="7.25" fill="#fde39c" />
<rect x="535.35" y="212.75" width="4.95" height="7.25" fill="#fde39c" />
<rect x="530.40" y="219.50" width="5.45" height="6.75" fill="#fde39c" />
<rect x="535.35" y="219.50" width="4.95" height="6.75" fill="#fde39c" />
<circle cx="532.88" cy="189.12" r="0.62" fill="#4a4a4a"/>
<circle cx="537.83" cy="189.12" r="0.62" fill="#4a4a4a"/>
<circle cx="532.88" cy="195.88" r="0.62" fill="#4a4a4a"/>
<circle cx="537.83" cy="195.88" r="0.62" fill="#4a4a4a"/>
<circle cx="532.88" cy="202.62" r="0.62" fill="#4a4a4a"/>
<circle cx="537.83" cy="202.62" r="0.62" fill="#4a4a4a"/>
<circle cx="532.88" cy="216.12" r="0.62" fill="#4a4a4a"/>
<circle cx="537.83" cy="216.12" r="0.62" fill="#4a4a4a"/>
<circle cx="532.88" cy="222.88" r="0.62" fill="#4a4a4a"/>
<circle cx="537.83" cy="222.88" r="0.62" fill="#4a4a4a"/>
<rect x="530.40" y="179.00" width="9.90" height="47.25" fill="none" stroke="#6f6f6f" stroke-width="0.9" rx="0.8"/>
<rect x="530.40" y="229.50" width="5.35" height="5.50" fill="#fdf0aa" />
<rect x="535.35" y="229.50" width="4.95" height="5.50" fill="#e5a23e" />
<path d="M535.35,229.5V235" stroke="#2a2a2a" stroke-width="0.45"/>
<rect x="530.40" y="229.5" width="9.90" height="5.5" fill="none" stroke="#444" stroke-width="0.55"/>
<text transform="translate(537.25,71.4) rotate(-90)" font-size="7.45">Th1</text>
<line x1="530.40" y1="74.6" x2="540.30" y2="74.6" stroke="#8a8a8a" stroke-width="0.9"/>
<rect x="544.20" y="82.00" width="5.45" height="7.25" fill="#fef2c2" />
<rect x="549.15" y="82.00" width="4.95" height="7.25" fill="#fef2c2" />
<rect x="544.20" y="88.75" width="5.45" height="7.25" fill="#e6eff8" />
<rect x="549.15" y="88.75" width="4.95" height="7.25" fill="#fef2c2" />
<rect x="544.20" y="95.50" width="5.45" height="7.25" fill="#fde39c" />
<rect x="549.15" y="95.50" width="4.95" height="7.25" fill="#fccb70" />
<rect x="544.20" y="102.25" width="5.45" height="6.75" fill="#fef2c2" />
<rect x="549.15" y="102.25" width="4.95" height="6.75" fill="#e6eff8" />
<rect x="544.20" y="82.00" width="9.90" height="27.00" fill="none" stroke="#6f6f6f" stroke-width="0.9" rx="0.8"/>
<rect x="544.20" y="113.00" width="5.45" height="7.25" fill="#cddff0" />
<rect x="549.15" y="113.00" width="4.95" height="7.25" fill="#e6eff8" />
<rect x="544.20" y="119.75" width="5.45" height="7.25" fill="#e6eff8" />
<rect x="549.15" y="119.75" width="4.95" height="7.25" fill="#e6eff8" />
<rect x="544.20" y="126.50" width="5.45" height="7.25" fill="#fef2c2" />
<rect x="549.15" y="126.50" width="4.95" height="7.25" fill="#fef2c2" />
<rect x="544.20" y="133.25" width="5.45" height="6.75" fill="#fef2c2" />
<rect x="549.15" y="133.25" width="4.95" height="6.75" fill="#cddff0" />
<circle cx="546.68" cy="116.38" r="0.62" fill="#4a4a4a"/>
<circle cx="551.63" cy="116.38" r="0.62" fill="#4a4a4a"/>
<circle cx="546.68" cy="123.12" r="0.62" fill="#4a4a4a"/>
<rect x="544.20" y="113.00" width="9.90" height="27.00" fill="none" stroke="#6f6f6f" stroke-width="0.9" rx="0.8"/>
<rect x="544.20" y="144.20" width="5.45" height="6.75" fill="#cddff0" />
<rect x="549.15" y="144.20" width="4.95" height="6.75" fill="#e6eff8" />
<circle cx="546.68" cy="147.57" r="0.62" fill="#4a4a4a"/>
<circle cx="551.63" cy="147.57" r="0.62" fill="#4a4a4a"/>
<rect x="544.20" y="144.20" width="9.90" height="6.75" fill="none" stroke="#6f6f6f" stroke-width="0.9" rx="0.8"/>
<rect x="544.20" y="154.60" width="5.45" height="7.25" fill="#e6eff8" />
<rect x="549.15" y="154.60" width="4.95" height="7.25" fill="#fef2c2" />
<rect x="544.20" y="161.35" width="5.45" height="7.25" fill="#fef2c2" />
<rect x="549.15" y="161.35" width="4.95" height="7.25" fill="#fef2c2" />
<rect x="544.20" y="168.10" width="5.45" height="6.75" fill="#fef2c2" />
<rect x="549.15" y="168.10" width="4.95" height="6.75" fill="#e6eff8" />
<rect x="544.20" y="154.60" width="9.90" height="20.25" fill="none" stroke="#6f6f6f" stroke-width="0.9" rx="0.8"/>
<rect x="544.20" y="179.00" width="5.45" height="7.25" fill="#fde39c" />
<rect x="549.15" y="179.00" width="4.95" height="7.25" fill="#fef2c2" />
<rect x="544.20" y="185.75" width="5.45" height="7.25" fill="#fef2c2" />
<rect x="549.15" y="185.75" width="4.95" height="7.25" fill="#fef2c2" />
<rect x="544.20" y="192.50" width="5.45" height="7.25" fill="#fef2c2" />
<rect x="549.15" y="192.50" width="4.95" height="7.25" fill="#fef2c2" />
<rect x="544.20" y="199.25" width="5.45" height="7.25" fill="#fef2c2" />
<rect x="549.15" y="199.25" width="4.95" height="7.25" fill="#fef2c2" />
<rect x="544.20" y="206.00" width="5.45" height="7.25" fill="#fef2c2" />
<rect x="549.15" y="206.00" width="4.95" height="7.25" fill="#fef2c2" />
<rect x="544.20" y="212.75" width="5.45" height="7.25" fill="#fef2c2" />
<rect x="549.15" y="212.75" width="4.95" height="7.25" fill="#fef2c2" />
<rect x="544.20" y="219.50" width="5.45" height="6.75" fill="#fef2c2" />
<rect x="549.15" y="219.50" width="4.95" height="6.75" fill="#fef2c2" />
<circle cx="546.68" cy="182.38" r="0.62" fill="#4a4a4a"/>
<circle cx="546.68" cy="189.12" r="0.62" fill="#4a4a4a"/>
<circle cx="551.63" cy="189.12" r="0.62" fill="#4a4a4a"/>
<circle cx="546.68" cy="195.88" r="0.62" fill="#4a4a4a"/>
<circle cx="551.63" cy="195.88" r="0.62" fill="#4a4a4a"/>
<circle cx="551.63" cy="202.62" r="0.62" fill="#4a4a4a"/>
<circle cx="546.68" cy="209.38" r="0.62" fill="#4a4a4a"/>
<circle cx="546.68" cy="216.12" r="0.62" fill="#4a4a4a"/>
<circle cx="546.68" cy="222.88" r="0.62" fill="#4a4a4a"/>
<rect x="544.20" y="179.00" width="9.90" height="47.25" fill="none" stroke="#6f6f6f" stroke-width="0.9" rx="0.8"/>
<rect x="544.20" y="229.50" width="5.35" height="5.50" fill="#fdf0aa" />
<rect x="549.15" y="229.50" width="4.95" height="5.50" fill="#e5a23e" />
<path d="M549.15,229.5V235" stroke="#2a2a2a" stroke-width="0.45"/>
<rect x="544.20" y="229.5" width="9.90" height="5.5" fill="none" stroke="#444" stroke-width="0.55"/>
<text transform="translate(551.05,71.4) rotate(-90)" font-size="7.45">Th2</text>
<line x1="544.20" y1="74.6" x2="554.10" y2="74.6" stroke="#8a8a8a" stroke-width="0.9"/>
<rect x="557.60" y="82.00" width="5.45" height="7.25" fill="#fef2c2" />
<rect x="562.55" y="82.00" width="4.95" height="7.25" fill="#92bfdf" />
<rect x="557.60" y="88.75" width="5.45" height="7.25" fill="#fef2c2" />
<rect x="562.55" y="88.75" width="4.95" height="7.25" fill="#fccb70" />
<rect x="557.60" y="95.50" width="5.45" height="7.25" fill="#cddff0" />
<rect x="562.55" y="95.50" width="4.95" height="7.25" fill="#92bfdf" />
<rect x="557.60" y="102.25" width="5.45" height="6.75" fill="#fef2c2" />
<rect x="562.55" y="102.25" width="4.95" height="6.75" fill="#4b8ec5" />
<rect x="557.60" y="82.00" width="9.90" height="27.00" fill="none" stroke="#6f6f6f" stroke-width="0.9" rx="0.8"/>
<rect x="557.60" y="113.00" width="5.45" height="7.25" fill="#e6eff8" />
<rect x="562.55" y="113.00" width="4.95" height="7.25" fill="#fef2c2" />
<rect x="557.60" y="119.75" width="5.45" height="7.25" fill="#fef2c2" />
<rect x="562.55" y="119.75" width="4.95" height="7.25" fill="#fccb70" />
<rect x="557.60" y="126.50" width="5.45" height="7.25" fill="#cddff0" />
<rect x="562.55" y="126.50" width="4.95" height="7.25" fill="#92bfdf" />
<rect x="557.60" y="133.25" width="5.45" height="6.75" fill="#fef2c2" />
<rect x="562.55" y="133.25" width="4.95" height="6.75" fill="#163f80" />
<circle cx="565.03" cy="123.12" r="0.62" fill="#4a4a4a"/>
<circle cx="560.08" cy="129.88" r="0.62" fill="#4a4a4a"/>
<rect x="557.60" y="113.00" width="9.90" height="27.00" fill="none" stroke="#6f6f6f" stroke-width="0.9" rx="0.8"/>
<rect x="557.60" y="144.20" width="5.45" height="6.75" fill="#e6eff8" />
<rect x="562.55" y="144.20" width="4.95" height="6.75" fill="#e6eff8" />
<rect x="557.60" y="144.20" width="9.90" height="6.75" fill="none" stroke="#6f6f6f" stroke-width="0.9" rx="0.8"/>
<rect x="557.60" y="154.60" width="5.45" height="7.25" fill="#fccb70" />
<rect x="562.55" y="154.60" width="4.95" height="7.25" fill="#950c28" />
<rect x="557.60" y="161.35" width="5.45" height="7.25" fill="#fef2c2" />
<rect x="562.55" y="161.35" width="4.95" height="7.25" fill="#fde39c" />
<rect x="557.60" y="168.10" width="5.45" height="6.75" fill="#fef2c2" />
<rect x="562.55" y="168.10" width="4.95" height="6.75" fill="#cddff0" />
<rect x="557.60" y="154.60" width="9.90" height="20.25" fill="none" stroke="#6f6f6f" stroke-width="0.9" rx="0.8"/>
<rect x="557.60" y="179.00" width="5.45" height="7.25" fill="#e6eff8" />
<rect x="562.55" y="179.00" width="4.95" height="7.25" fill="#4b8ec5" />
<rect x="557.60" y="185.75" width="5.45" height="7.25" fill="#fef2c2" />
<rect x="562.55" y="185.75" width="4.95" height="7.25" fill="#fccb70" />
<rect x="557.60" y="192.50" width="5.45" height="7.25" fill="#fef2c2" />
<rect x="562.55" y="192.50" width="4.95" height="7.25" fill="#f06236" />
<rect x="557.60" y="199.25" width="5.45" height="7.25" fill="#fef2c2" />
<rect x="562.55" y="199.25" width="4.95" height="7.25" fill="#f06236" />
<rect x="557.60" y="206.00" width="5.45" height="7.25" fill="#fef2c2" />
<rect x="562.55" y="206.00" width="4.95" height="7.25" fill="#f06236" />
<rect x="557.60" y="212.75" width="5.45" height="7.25" fill="#fef2c2" />
<rect x="562.55" y="212.75" width="4.95" height="7.25" fill="#fbb054" />
<rect x="557.60" y="219.50" width="5.45" height="6.75" fill="#fef2c2" />
<rect x="562.55" y="219.50" width="4.95" height="6.75" fill="#d9302a" />
<circle cx="560.08" cy="189.12" r="0.62" fill="#4a4a4a"/>
<circle cx="565.03" cy="189.12" r="0.62" fill="#4a4a4a"/>
<circle cx="565.03" cy="195.88" r="0.62" fill="#4a4a4a"/>
<circle cx="560.08" cy="202.62" r="0.62" fill="#4a4a4a"/>
<circle cx="565.03" cy="202.62" r="0.62" fill="#4a4a4a"/>
<circle cx="560.08" cy="209.38" r="0.62" fill="#4a4a4a"/>
<circle cx="565.03" cy="209.38" r="0.62" fill="#4a4a4a"/>
<circle cx="565.03" cy="216.12" r="0.62" fill="#4a4a4a"/>
<circle cx="560.08" cy="222.88" r="0.62" fill="#4a4a4a"/>
<circle cx="565.03" cy="222.88" r="0.62" fill="#4a4a4a"/>
<rect x="557.60" y="179.00" width="9.90" height="47.25" fill="none" stroke="#6f6f6f" stroke-width="0.9" rx="0.8"/>
<rect x="557.60" y="229.50" width="5.35" height="5.50" fill="#fdf0aa" />
<rect x="562.55" y="229.50" width="4.95" height="5.50" fill="#e5a23e" />
<path d="M562.55,229.5V235" stroke="#2a2a2a" stroke-width="0.45"/>
<rect x="557.60" y="229.5" width="9.90" height="5.5" fill="none" stroke="#444" stroke-width="0.55"/>
<text transform="translate(564.45,71.4) rotate(-90)" font-size="7.45">Th17</text>
<line x1="557.60" y1="74.6" x2="567.50" y2="74.6" stroke="#8a8a8a" stroke-width="0.9"/>
<rect x="571.10" y="82.00" width="5.45" height="7.25" fill="#e6eff8" />
<rect x="576.05" y="82.00" width="4.95" height="7.25" fill="#e6eff8" />
<rect x="571.10" y="88.75" width="5.45" height="7.25" fill="#fef2c2" />
<rect x="576.05" y="88.75" width="4.95" height="7.25" fill="#e6eff8" />
<rect x="571.10" y="95.50" width="5.45" height="7.25" fill="#f6843e" />
<rect x="576.05" y="95.50" width="4.95" height="7.25" fill="#fef2c2" />
<rect x="571.10" y="102.25" width="5.45" height="6.75" fill="#92bfdf" />
<rect x="576.05" y="102.25" width="4.95" height="6.75" fill="#fef2c2" />
<rect x="571.10" y="82.00" width="9.90" height="27.00" fill="none" stroke="#6f6f6f" stroke-width="0.9" rx="0.8"/>
<rect x="571.10" y="113.00" width="5.45" height="7.25" fill="#e6eff8" />
<rect x="576.05" y="113.00" width="4.95" height="7.25" fill="#e6eff8" />
<rect x="571.10" y="119.75" width="5.45" height="7.25" fill="#f8f8f7" />
<rect x="576.05" y="119.75" width="4.95" height="7.25" fill="#e6eff8" />
<rect x="571.10" y="126.50" width="5.45" height="7.25" fill="#fde39c" />
<rect x="576.05" y="126.50" width="4.95" height="7.25" fill="#e6eff8" />
<rect x="571.10" y="133.25" width="5.45" height="6.75" fill="#163f80" />
<rect x="576.05" y="133.25" width="4.95" height="6.75" fill="#cddff0" />
<circle cx="578.53" cy="123.12" r="0.62" fill="#4a4a4a"/>
<rect x="571.10" y="113.00" width="9.90" height="27.00" fill="none" stroke="#6f6f6f" stroke-width="0.9" rx="0.8"/>
<rect x="571.10" y="144.20" width="5.45" height="6.75" fill="#cddff0" />
<rect x="576.05" y="144.20" width="4.95" height="6.75" fill="#e6eff8" />
<rect x="571.10" y="144.20" width="9.90" height="6.75" fill="none" stroke="#6f6f6f" stroke-width="0.9" rx="0.8"/>
<rect x="571.10" y="154.60" width="5.45" height="7.25" fill="#cddff0" />
<rect x="576.05" y="154.60" width="4.95" height="7.25" fill="#fef2c2" />
<rect x="571.10" y="161.35" width="5.45" height="7.25" fill="#fef2c2" />
<rect x="576.05" y="161.35" width="4.95" height="7.25" fill="#e6eff8" />
<rect x="571.10" y="168.10" width="5.45" height="6.75" fill="#fef2c2" />
<rect x="576.05" y="168.10" width="4.95" height="6.75" fill="#fef2c2" />
<rect x="571.10" y="154.60" width="9.90" height="20.25" fill="none" stroke="#6f6f6f" stroke-width="0.9" rx="0.8"/>
<rect x="571.10" y="179.00" width="5.45" height="7.25" fill="#cddff0" />
<rect x="576.05" y="179.00" width="4.95" height="7.25" fill="#fef2c2" />
<rect x="571.10" y="185.75" width="5.45" height="7.25" fill="#fef2c2" />
<rect x="576.05" y="185.75" width="4.95" height="7.25" fill="#fef2c2" />
<rect x="571.10" y="192.50" width="5.45" height="7.25" fill="#cddff0" />
<rect x="576.05" y="192.50" width="4.95" height="7.25" fill="#cddff0" />
<rect x="571.10" y="199.25" width="5.45" height="7.25" fill="#fef2c2" />
<rect x="576.05" y="199.25" width="4.95" height="7.25" fill="#e6eff8" />
<rect x="571.10" y="206.00" width="5.45" height="7.25" fill="#92bfdf" />
<rect x="576.05" y="206.00" width="4.95" height="7.25" fill="#cddff0" />
<rect x="571.10" y="212.75" width="5.45" height="7.25" fill="#e6eff8" />
<rect x="576.05" y="212.75" width="4.95" height="7.25" fill="#cddff0" />
<rect x="571.10" y="219.50" width="5.45" height="6.75" fill="#92bfdf" />
<rect x="576.05" y="219.50" width="4.95" height="6.75" fill="#cddff0" />
<circle cx="578.53" cy="182.38" r="0.62" fill="#4a4a4a"/>
<circle cx="578.53" cy="189.12" r="0.62" fill="#4a4a4a"/>
<circle cx="578.53" cy="202.62" r="0.62" fill="#4a4a4a"/>
<circle cx="578.53" cy="209.38" r="0.62" fill="#4a4a4a"/>
<rect x="571.10" y="179.00" width="9.90" height="47.25" fill="none" stroke="#6f6f6f" stroke-width="0.9" rx="0.8"/>
<rect x="571.10" y="229.50" width="5.35" height="5.50" fill="#fdf0aa" />
<rect x="576.05" y="229.50" width="4.95" height="5.50" fill="#e5a23e" />
<path d="M576.05,229.5V235" stroke="#2a2a2a" stroke-width="0.45"/>
<rect x="571.10" y="229.5" width="9.90" height="5.5" fill="none" stroke="#444" stroke-width="0.55"/>
<text transform="translate(577.95,71.4) rotate(-90)" font-size="7.45">FOXP3</text>
<line x1="571.10" y1="74.6" x2="581.00" y2="74.6" stroke="#8a8a8a" stroke-width="0.9"/>
<rect x="585.00" y="82.00" width="5.45" height="7.25" fill="#92bfdf" />
<rect x="589.95" y="82.00" width="4.95" height="7.25" fill="#cddff0" />
<rect x="585.00" y="88.75" width="5.45" height="7.25" fill="#fef2c2" />
<rect x="589.95" y="88.75" width="4.95" height="7.25" fill="#fde39c" />
<rect x="585.00" y="95.50" width="5.45" height="7.25" fill="#92bfdf" />
<rect x="589.95" y="95.50" width="4.95" height="7.25" fill="#fef2c2" />
<rect x="585.00" y="102.25" width="5.45" height="6.75" fill="#f8f8f7" />
<rect x="589.95" y="102.25" width="4.95" height="6.75" fill="#fde39c" />
<rect x="585.00" y="82.00" width="9.90" height="27.00" fill="none" stroke="#6f6f6f" stroke-width="0.9" rx="0.8"/>
<rect x="585.00" y="113.00" width="5.45" height="7.25" fill="#fde39c" />
<rect x="589.95" y="113.00" width="4.95" height="7.25" fill="#fef2c2" />
<rect x="585.00" y="119.75" width="5.45" height="7.25" fill="#fef2c2" />
<rect x="589.95" y="119.75" width="4.95" height="7.25" fill="#f8f8f7" />
<rect x="585.00" y="126.50" width="5.45" height="7.25" fill="#92bfdf" />
<rect x="589.95" y="126.50" width="4.95" height="7.25" fill="#f8f8f7" />
<rect x="585.00" y="133.25" width="5.45" height="6.75" fill="#fde39c" />
<rect x="589.95" y="133.25" width="4.95" height="6.75" fill="#e6eff8" />
<circle cx="587.48" cy="123.12" r="0.62" fill="#4a4a4a"/>
<circle cx="587.48" cy="129.88" r="0.62" fill="#4a4a4a"/>
<rect x="585.00" y="113.00" width="9.90" height="27.00" fill="none" stroke="#6f6f6f" stroke-width="0.9" rx="0.8"/>
<rect x="585.00" y="144.20" width="5.45" height="6.75" fill="#fef2c2" />
<rect x="589.95" y="144.20" width="4.95" height="6.75" fill="#fef2c2" />
<rect x="585.00" y="144.20" width="9.90" height="6.75" fill="none" stroke="#6f6f6f" stroke-width="0.9" rx="0.8"/>
<rect x="585.00" y="154.60" width="5.45" height="7.25" fill="#fef2c2" />
<rect x="589.95" y="154.60" width="4.95" height="7.25" fill="#fef2c2" />
<rect x="585.00" y="161.35" width="5.45" height="7.25" fill="#fef2c2" />
<rect x="589.95" y="161.35" width="4.95" height="7.25" fill="#fef2c2" />
<rect x="585.00" y="168.10" width="5.45" height="6.75" fill="#e6eff8" />
<rect x="589.95" y="168.10" width="4.95" height="6.75" fill="#fef2c2" />
<rect x="585.00" y="154.60" width="9.90" height="20.25" fill="none" stroke="#6f6f6f" stroke-width="0.9" rx="0.8"/>
<rect x="585.00" y="179.00" width="5.45" height="7.25" fill="#fef2c2" />
<rect x="589.95" y="179.00" width="4.95" height="7.25" fill="#fef2c2" />
<rect x="585.00" y="185.75" width="5.45" height="7.25" fill="#fde39c" />
<rect x="589.95" y="185.75" width="4.95" height="7.25" fill="#fde39c" />
<rect x="585.00" y="192.50" width="5.45" height="7.25" fill="#fef2c2" />
<rect x="589.95" y="192.50" width="4.95" height="7.25" fill="#fde39c" />
<rect x="585.00" y="199.25" width="5.45" height="7.25" fill="#fef2c2" />
<rect x="589.95" y="199.25" width="4.95" height="7.25" fill="#fef2c2" />
<rect x="585.00" y="206.00" width="5.45" height="7.25" fill="#fef2c2" />
<rect x="589.95" y="206.00" width="4.95" height="7.25" fill="#fef2c2" />
<rect x="585.00" y="212.75" width="5.45" height="7.25" fill="#e6eff8" />
<rect x="589.95" y="212.75" width="4.95" height="7.25" fill="#fef2c2" />
<rect x="585.00" y="219.50" width="5.45" height="6.75" fill="#fef2c2" />
<rect x="589.95" y="219.50" width="4.95" height="6.75" fill="#fef2c2" />
<circle cx="587.48" cy="189.12" r="0.62" fill="#4a4a4a"/>
<circle cx="592.43" cy="189.12" r="0.62" fill="#4a4a4a"/>
<circle cx="592.43" cy="195.88" r="0.62" fill="#4a4a4a"/>
<circle cx="592.43" cy="222.88" r="0.62" fill="#4a4a4a"/>
<rect x="585.00" y="179.00" width="9.90" height="47.25" fill="none" stroke="#6f6f6f" stroke-width="0.9" rx="0.8"/>
<rect x="585.00" y="229.50" width="5.35" height="5.50" fill="#a62f35" />
<rect x="589.95" y="229.50" width="4.95" height="5.50" fill="#5a0e16" />
<path d="M589.95,229.5V235" stroke="#2a2a2a" stroke-width="0.45"/>
<rect x="585.00" y="229.5" width="9.90" height="5.5" fill="none" stroke="#444" stroke-width="0.55"/>
<text transform="translate(591.85,71.4) rotate(-90)" font-size="7.45">Exhaustion</text>
<line x1="585.00" y1="74.6" x2="594.90" y2="74.6" stroke="#8a8a8a" stroke-width="0.9"/>
<rect x="598.40" y="82.00" width="5.45" height="7.25" fill="#cddff0" />
<rect x="603.35" y="82.00" width="4.95" height="7.25" fill="#cddff0" />
<rect x="598.40" y="88.75" width="5.45" height="7.25" fill="#fef2c2" />
<rect x="603.35" y="88.75" width="4.95" height="7.25" fill="#fef2c2" />
<rect x="598.40" y="95.50" width="5.45" height="7.25" fill="#e6eff8" />
<rect x="603.35" y="95.50" width="4.95" height="7.25" fill="#fef2c2" />
<rect x="598.40" y="102.25" width="5.45" height="6.75" fill="#e6eff8" />
<rect x="603.35" y="102.25" width="4.95" height="6.75" fill="#e6eff8" />
<rect x="598.40" y="82.00" width="9.90" height="27.00" fill="none" stroke="#6f6f6f" stroke-width="0.9" rx="0.8"/>
<rect x="598.40" y="113.00" width="5.45" height="7.25" fill="#fef2c2" />
<rect x="603.35" y="113.00" width="4.95" height="7.25" fill="#fef2c2" />
<rect x="598.40" y="119.75" width="5.45" height="7.25" fill="#f8f8f7" />
<rect x="603.35" y="119.75" width="4.95" height="7.25" fill="#fef2c2" />
<rect x="598.40" y="126.50" width="5.45" height="7.25" fill="#e6eff8" />
<rect x="603.35" y="126.50" width="4.95" height="7.25" fill="#e6eff8" />
<rect x="598.40" y="133.25" width="5.45" height="6.75" fill="#cddff0" />
<rect x="603.35" y="133.25" width="4.95" height="6.75" fill="#cddff0" />
<rect x="598.40" y="113.00" width="9.90" height="27.00" fill="none" stroke="#6f6f6f" stroke-width="0.9" rx="0.8"/>
<rect x="598.40" y="144.20" width="5.45" height="6.75" fill="#fef2c2" />
<rect x="603.35" y="144.20" width="4.95" height="6.75" fill="#fef2c2" />
<rect x="598.40" y="144.20" width="9.90" height="6.75" fill="none" stroke="#6f6f6f" stroke-width="0.9" rx="0.8"/>
<rect x="598.40" y="154.60" width="5.45" height="7.25" fill="#fbb054" />
<rect x="603.35" y="154.60" width="4.95" height="7.25" fill="#fbb054" />
<rect x="598.40" y="161.35" width="5.45" height="7.25" fill="#fef2c2" />
<rect x="603.35" y="161.35" width="4.95" height="7.25" fill="#fef2c2" />
<rect x="598.40" y="168.10" width="5.45" height="6.75" fill="#e6eff8" />
<rect x="603.35" y="168.10" width="4.95" height="6.75" fill="#fef2c2" />
<circle cx="605.83" cy="157.97" r="0.62" fill="#4a4a4a"/>
<rect x="598.40" y="154.60" width="9.90" height="20.25" fill="none" stroke="#6f6f6f" stroke-width="0.9" rx="0.8"/>
<rect x="598.40" y="179.00" width="5.45" height="7.25" fill="#fef2c2" />
<rect x="603.35" y="179.00" width="4.95" height="7.25" fill="#e6eff8" />
<rect x="598.40" y="185.75" width="5.45" height="7.25" fill="#fde39c" />
<rect x="603.35" y="185.75" width="4.95" height="7.25" fill="#fde39c" />
<rect x="598.40" y="192.50" width="5.45" height="7.25" fill="#fde39c" />
<rect x="603.35" y="192.50" width="4.95" height="7.25" fill="#fde39c" />
<rect x="598.40" y="199.25" width="5.45" height="7.25" fill="#fef2c2" />
<rect x="603.35" y="199.25" width="4.95" height="7.25" fill="#fef2c2" />
<rect x="598.40" y="206.00" width="5.45" height="7.25" fill="#fef2c2" />
<rect x="603.35" y="206.00" width="4.95" height="7.25" fill="#fef2c2" />
<rect x="598.40" y="212.75" width="5.45" height="7.25" fill="#fef2c2" />
<rect x="603.35" y="212.75" width="4.95" height="7.25" fill="#fef2c2" />
<rect x="598.40" y="219.50" width="5.45" height="6.75" fill="#fef2c2" />
<rect x="603.35" y="219.50" width="4.95" height="6.75" fill="#fef2c2" />
<circle cx="600.88" cy="189.12" r="0.62" fill="#4a4a4a"/>
<circle cx="605.83" cy="189.12" r="0.62" fill="#4a4a4a"/>
<circle cx="600.88" cy="195.88" r="0.62" fill="#4a4a4a"/>
<circle cx="605.83" cy="195.88" r="0.62" fill="#4a4a4a"/>
<circle cx="600.88" cy="209.38" r="0.62" fill="#4a4a4a"/>
<circle cx="600.88" cy="222.88" r="0.62" fill="#4a4a4a"/>
<rect x="598.40" y="179.00" width="9.90" height="47.25" fill="none" stroke="#6f6f6f" stroke-width="0.9" rx="0.8"/>
<rect x="598.40" y="229.50" width="5.35" height="5.50" fill="#a62f35" />
<rect x="603.35" y="229.50" width="4.95" height="5.50" fill="#5a0e16" />
<path d="M603.35,229.5V235" stroke="#2a2a2a" stroke-width="0.45"/>
<rect x="598.40" y="229.5" width="9.90" height="5.5" fill="none" stroke="#444" stroke-width="0.55"/>
<text transform="translate(605.25,71.4) rotate(-90)" font-size="7.45">TCR activation</text>
<line x1="598.40" y1="74.6" x2="608.30" y2="74.6" stroke="#8a8a8a" stroke-width="0.9"/>
<rect x="612.40" y="82.00" width="5.40" height="7.25" fill="#e6eff8" />
<rect x="612.40" y="88.75" width="5.40" height="7.25" fill="#fde39c" />
<rect x="612.40" y="95.50" width="5.40" height="7.25" fill="#92bfdf" />
<rect x="612.40" y="102.25" width="5.40" height="6.75" fill="#e6eff8" />
<rect x="612.40" y="82.00" width="5.40" height="27.00" fill="none" stroke="#6f6f6f" stroke-width="0.9" rx="0.8"/>
<rect x="612.40" y="113.00" width="5.40" height="7.25" fill="#fccb70" />
<rect x="612.40" y="119.75" width="5.40" height="7.25" fill="#fde39c" />
<rect x="612.40" y="126.50" width="5.40" height="7.25" fill="#cddff0" />
<rect x="612.40" y="133.25" width="5.40" height="6.75" fill="#fde39c" />
<circle cx="615.10" cy="116.38" r="0.62" fill="#4a4a4a"/>
<circle cx="615.10" cy="123.12" r="0.62" fill="#4a4a4a"/>
<rect x="612.40" y="113.00" width="5.40" height="27.00" fill="none" stroke="#6f6f6f" stroke-width="0.9" rx="0.8"/>
<rect x="612.40" y="144.20" width="5.40" height="6.75" fill="#fef2c2" />
<rect x="612.40" y="144.20" width="5.40" height="6.75" fill="none" stroke="#6f6f6f" stroke-width="0.9" rx="0.8"/>
<rect x="612.40" y="154.60" width="5.40" height="7.25" fill="#fef2c2" />
<rect x="612.40" y="161.35" width="5.40" height="7.25" fill="#fef2c2" />
<rect x="612.40" y="168.10" width="5.40" height="6.75" fill="#e6eff8" />
<circle cx="615.10" cy="164.72" r="0.62" fill="#4a4a4a"/>
<rect x="612.40" y="154.60" width="5.40" height="20.25" fill="none" stroke="#6f6f6f" stroke-width="0.9" rx="0.8"/>
<rect x="612.40" y="179.00" width="5.40" height="7.25" fill="#cddff0" />
<rect x="612.40" y="185.75" width="5.40" height="7.25" fill="#fde39c" />
<rect x="612.40" y="192.50" width="5.40" height="7.25" fill="#fde39c" />
<rect x="612.40" y="199.25" width="5.40" height="7.25" fill="#f8f8f7" />
<rect x="612.40" y="206.00" width="5.40" height="7.25" fill="#f8f8f7" />
<rect x="612.40" y="212.75" width="5.40" height="7.25" fill="#e6eff8" />
<rect x="612.40" y="219.50" width="5.40" height="6.75" fill="#fef2c2" />
<circle cx="615.10" cy="189.12" r="0.62" fill="#4a4a4a"/>
<circle cx="615.10" cy="195.88" r="0.62" fill="#4a4a4a"/>
<rect x="612.40" y="179.00" width="5.40" height="47.25" fill="none" stroke="#6f6f6f" stroke-width="0.9" rx="0.8"/>
<rect x="612.40" y="229.50" width="5.40" height="5.50" fill="#7cc5dc" />
<rect x="612.40" y="229.5" width="5.40" height="5.5" fill="none" stroke="#444" stroke-width="0.55"/>
<text transform="translate(617.00,71.4) rotate(-90)" font-size="7.45">Effector</text>
<line x1="612.40" y1="74.6" x2="617.80" y2="74.6" stroke="#8a8a8a" stroke-width="0.9"/>
<rect x="621.10" y="82.00" width="5.40" height="7.25" fill="#fde39c" />
<rect x="621.10" y="88.75" width="5.40" height="7.25" fill="#f8f8f7" />
<rect x="621.10" y="95.50" width="5.40" height="7.25" fill="#f8f8f7" />
<rect x="621.10" y="102.25" width="5.40" height="6.75" fill="#f8f8f7" />
<rect x="621.10" y="82.00" width="5.40" height="27.00" fill="none" stroke="#6f6f6f" stroke-width="0.9" rx="0.8"/>
<rect x="621.10" y="113.00" width="5.40" height="7.25" fill="#fde39c" />
<rect x="621.10" y="119.75" width="5.40" height="7.25" fill="#fccb70" />
<rect x="621.10" y="126.50" width="5.40" height="7.25" fill="#cddff0" />
<rect x="621.10" y="133.25" width="5.40" height="6.75" fill="#fef2c2" />
<circle cx="623.80" cy="116.38" r="0.62" fill="#4a4a4a"/>
<circle cx="623.80" cy="123.12" r="0.62" fill="#4a4a4a"/>
<rect x="621.10" y="113.00" width="5.40" height="27.00" fill="none" stroke="#6f6f6f" stroke-width="0.9" rx="0.8"/>
<rect x="621.10" y="144.20" width="5.40" height="6.75" fill="#fef2c2" />
<circle cx="623.80" cy="147.57" r="0.62" fill="#4a4a4a"/>
<rect x="621.10" y="144.20" width="5.40" height="6.75" fill="none" stroke="#6f6f6f" stroke-width="0.9" rx="0.8"/>
<rect x="621.10" y="154.60" width="5.40" height="7.25" fill="#fde39c" />
<rect x="621.10" y="161.35" width="5.40" height="7.25" fill="#fde39c" />
<rect x="621.10" y="168.10" width="5.40" height="6.75" fill="#cddff0" />
<rect x="621.10" y="154.60" width="5.40" height="20.25" fill="none" stroke="#6f6f6f" stroke-width="0.9" rx="0.8"/>
<rect x="621.10" y="179.00" width="5.40" height="7.25" fill="#cddff0" />
<rect x="621.10" y="185.75" width="5.40" height="7.25" fill="#fccb70" />
<rect x="621.10" y="192.50" width="5.40" height="7.25" fill="#fef2c2" />
<rect x="621.10" y="199.25" width="5.40" height="7.25" fill="#fef2c2" />
<rect x="621.10" y="206.00" width="5.40" height="7.25" fill="#fef2c2" />
<rect x="621.10" y="212.75" width="5.40" height="7.25" fill="#fef2c2" />
<rect x="621.10" y="219.50" width="5.40" height="6.75" fill="#fef2c2" />
<circle cx="623.80" cy="189.12" r="0.62" fill="#4a4a4a"/>
<rect x="621.10" y="179.00" width="5.40" height="47.25" fill="none" stroke="#6f6f6f" stroke-width="0.9" rx="0.8"/>
<rect x="621.10" y="229.50" width="5.40" height="5.50" fill="#3a6a40" />
<rect x="621.10" y="229.5" width="5.40" height="5.5" fill="none" stroke="#444" stroke-width="0.55"/>
<text transform="translate(625.70,71.4) rotate(-90)" font-size="7.45">IFNG response</text>
<line x1="621.10" y1="74.6" x2="626.50" y2="74.6" stroke="#8a8a8a" stroke-width="0.9"/>
<rect x="629.80" y="82.00" width="5.40" height="7.25" fill="#fbb054" />
<rect x="629.80" y="88.75" width="5.40" height="7.25" fill="#fbb054" />
<rect x="629.80" y="95.50" width="5.40" height="7.25" fill="#4b8ec5" />
<rect x="629.80" y="102.25" width="5.40" height="6.75" fill="#4b8ec5" />
<rect x="629.80" y="82.00" width="5.40" height="27.00" fill="none" stroke="#6f6f6f" stroke-width="0.9" rx="0.8"/>
<rect x="629.80" y="113.00" width="5.40" height="7.25" fill="#fde39c" />
<rect x="629.80" y="119.75" width="5.40" height="7.25" fill="#d9302a" />
<rect x="629.80" y="126.50" width="5.40" height="7.25" fill="#cddff0" />
<rect x="629.80" y="133.25" width="5.40" height="6.75" fill="#163f80" />
<circle cx="632.50" cy="123.12" r="0.62" fill="#4a4a4a"/>
<rect x="629.80" y="113.00" width="5.40" height="27.00" fill="none" stroke="#6f6f6f" stroke-width="0.9" rx="0.8"/>
<rect x="629.80" y="144.20" width="5.40" height="6.75" fill="#fde39c" />
<rect x="629.80" y="144.20" width="5.40" height="6.75" fill="none" stroke="#6f6f6f" stroke-width="0.9" rx="0.8"/>
<rect x="629.80" y="154.60" width="5.40" height="7.25" fill="#950c28" />
<rect x="629.80" y="161.35" width="5.40" height="7.25" fill="#fde39c" />
<rect x="629.80" y="168.10" width="5.40" height="6.75" fill="#e6eff8" />
<rect x="629.80" y="154.60" width="5.40" height="20.25" fill="none" stroke="#6f6f6f" stroke-width="0.9" rx="0.8"/>
<rect x="629.80" y="179.00" width="5.40" height="7.25" fill="#fde39c" />
<rect x="629.80" y="185.75" width="5.40" height="7.25" fill="#f06236" />
<rect x="629.80" y="192.50" width="5.40" height="7.25" fill="#f06236" />
<rect x="629.80" y="199.25" width="5.40" height="7.25" fill="#fde39c" />
<rect x="629.80" y="206.00" width="5.40" height="7.25" fill="#950c28" />
<rect x="629.80" y="212.75" width="5.40" height="7.25" fill="#fde39c" />
<rect x="629.80" y="219.50" width="5.40" height="6.75" fill="#950c28" />
<circle cx="632.50" cy="189.12" r="0.62" fill="#4a4a4a"/>
<circle cx="632.50" cy="195.88" r="0.62" fill="#4a4a4a"/>
<circle cx="632.50" cy="209.38" r="0.62" fill="#4a4a4a"/>
<circle cx="632.50" cy="222.88" r="0.62" fill="#4a4a4a"/>
<rect x="629.80" y="179.00" width="5.40" height="47.25" fill="none" stroke="#6f6f6f" stroke-width="0.9" rx="0.8"/>
<rect x="629.80" y="229.50" width="5.40" height="5.50" fill="#3a6a40" />
<rect x="629.80" y="229.5" width="5.40" height="5.5" fill="none" stroke="#444" stroke-width="0.55"/>
<text transform="translate(634.40,71.4) rotate(-90)" font-size="7.45">IL4/13 response</text>
<line x1="629.80" y1="74.6" x2="635.20" y2="74.6" stroke="#8a8a8a" stroke-width="0.9"/>
<rect x="638.50" y="82.00" width="5.40" height="7.25" fill="#fde39c" />
<rect x="638.50" y="88.75" width="5.40" height="7.25" fill="#fccb70" />
<rect x="638.50" y="95.50" width="5.40" height="7.25" fill="#fde39c" />
<rect x="638.50" y="102.25" width="5.40" height="6.75" fill="#92bfdf" />
<rect x="638.50" y="82.00" width="5.40" height="27.00" fill="none" stroke="#6f6f6f" stroke-width="0.9" rx="0.8"/>
<rect x="638.50" y="113.00" width="5.40" height="7.25" fill="#92bfdf" />
<rect x="638.50" y="119.75" width="5.40" height="7.25" fill="#fde39c" />
<rect x="638.50" y="126.50" width="5.40" height="7.25" fill="#cddff0" />
<rect x="638.50" y="133.25" width="5.40" height="6.75" fill="#f8f8f7" />
<rect x="638.50" y="113.00" width="5.40" height="27.00" fill="none" stroke="#6f6f6f" stroke-width="0.9" rx="0.8"/>
<rect x="638.50" y="144.20" width="5.40" height="6.75" fill="#cddff0" />
<rect x="638.50" y="144.20" width="5.40" height="6.75" fill="none" stroke="#6f6f6f" stroke-width="0.9" rx="0.8"/>
<rect x="638.50" y="154.60" width="5.40" height="7.25" fill="#950c28" />
<rect x="638.50" y="161.35" width="5.40" height="7.25" fill="#fbb054" />
<rect x="638.50" y="168.10" width="5.40" height="6.75" fill="#cddff0" />
<rect x="638.50" y="154.60" width="5.40" height="20.25" fill="none" stroke="#6f6f6f" stroke-width="0.9" rx="0.8"/>
<rect x="638.50" y="179.00" width="5.40" height="7.25" fill="#92bfdf" />
<rect x="638.50" y="185.75" width="5.40" height="7.25" fill="#fbb054" />
<rect x="638.50" y="192.50" width="5.40" height="7.25" fill="#d9302a" />
<rect x="638.50" y="199.25" width="5.40" height="7.25" fill="#fbb054" />
<rect x="638.50" y="206.00" width="5.40" height="7.25" fill="#950c28" />
<rect x="638.50" y="212.75" width="5.40" height="7.25" fill="#fccb70" />
<rect x="638.50" y="219.50" width="5.40" height="6.75" fill="#950c28" />
<circle cx="641.20" cy="189.12" r="0.62" fill="#4a4a4a"/>
<circle cx="641.20" cy="195.88" r="0.62" fill="#4a4a4a"/>
<circle cx="641.20" cy="202.62" r="0.62" fill="#4a4a4a"/>
<circle cx="641.20" cy="209.38" r="0.62" fill="#4a4a4a"/>
<circle cx="641.20" cy="216.12" r="0.62" fill="#4a4a4a"/>
<circle cx="641.20" cy="222.88" r="0.62" fill="#4a4a4a"/>
<rect x="638.50" y="179.00" width="5.40" height="47.25" fill="none" stroke="#6f6f6f" stroke-width="0.9" rx="0.8"/>
<rect x="638.50" y="229.50" width="5.40" height="5.50" fill="#6a9c4d" />
<rect x="638.50" y="229.5" width="5.40" height="5.5" fill="none" stroke="#444" stroke-width="0.55"/>
<text transform="translate(643.10,71.4) rotate(-90)" font-size="7.45">Ag crosspresentation</text>
<line x1="638.50" y1="74.6" x2="643.90" y2="74.6" stroke="#8a8a8a" stroke-width="0.9"/>
<rect x="647.30" y="82.00" width="5.45" height="7.25" fill="#fef2c2" />
<rect x="652.25" y="82.00" width="4.95" height="7.25" fill="#950c28" />
<rect x="647.30" y="88.75" width="5.45" height="7.25" fill="#cddff0" />
<rect x="652.25" y="88.75" width="4.95" height="7.25" fill="#fde39c" />
<rect x="647.30" y="95.50" width="5.45" height="7.25" fill="#950c28" />
<rect x="652.25" y="95.50" width="4.95" height="7.25" fill="#950c28" />
<rect x="647.30" y="102.25" width="5.45" height="6.75" fill="#fef2c2" />
<rect x="652.25" y="102.25" width="4.95" height="6.75" fill="#d9302a" />
<rect x="647.30" y="82.00" width="9.90" height="27.00" fill="none" stroke="#6f6f6f" stroke-width="0.9" rx="0.8"/>
<rect x="647.30" y="113.00" width="5.45" height="7.25" fill="#163f80" />
<rect x="652.25" y="113.00" width="4.95" height="7.25" fill="#163f80" />
<rect x="647.30" y="119.75" width="5.45" height="7.25" fill="#2b6aae" />
<rect x="652.25" y="119.75" width="4.95" height="7.25" fill="#163f80" />
<rect x="647.30" y="126.50" width="5.45" height="7.25" fill="#950c28" />
<rect x="652.25" y="126.50" width="4.95" height="7.25" fill="#950c28" />
<rect x="647.30" y="133.25" width="5.45" height="6.75" fill="#f8f8f7" />
<rect x="652.25" y="133.25" width="4.95" height="6.75" fill="#163f80" />
<circle cx="654.73" cy="116.38" r="0.62" fill="#4a4a4a"/>
<circle cx="649.77" cy="123.12" r="0.62" fill="#4a4a4a"/>
<circle cx="654.73" cy="123.12" r="0.62" fill="#4a4a4a"/>
<circle cx="654.73" cy="129.88" r="0.62" fill="#4a4a4a"/>
<rect x="647.30" y="113.00" width="9.90" height="27.00" fill="none" stroke="#6f6f6f" stroke-width="0.9" rx="0.8"/>
<rect x="647.30" y="144.20" width="5.45" height="6.75" fill="#163f80" />
<rect x="652.25" y="144.20" width="4.95" height="6.75" fill="#2b6aae" />
<circle cx="649.77" cy="147.57" r="0.62" fill="#4a4a4a"/>
<circle cx="654.73" cy="147.57" r="0.62" fill="#4a4a4a"/>
<rect x="647.30" y="144.20" width="9.90" height="6.75" fill="none" stroke="#6f6f6f" stroke-width="0.9" rx="0.8"/>
<rect x="647.30" y="154.60" width="5.45" height="7.25" fill="#950c28" />
<rect x="652.25" y="154.60" width="4.95" height="7.25" fill="#f06236" />
<rect x="647.30" y="161.35" width="5.45" height="7.25" fill="#e6eff8" />
<rect x="652.25" y="161.35" width="4.95" height="7.25" fill="#163f80" />
<rect x="647.30" y="168.10" width="5.45" height="6.75" fill="#fde39c" />
<rect x="652.25" y="168.10" width="4.95" height="6.75" fill="#f6843e" />
<rect x="647.30" y="154.60" width="9.90" height="20.25" fill="none" stroke="#6f6f6f" stroke-width="0.9" rx="0.8"/>
<rect x="647.30" y="179.00" width="5.45" height="7.25" fill="#e6eff8" />
<rect x="652.25" y="179.00" width="4.95" height="7.25" fill="#fde39c" />
<rect x="647.30" y="185.75" width="5.45" height="7.25" fill="#d9302a" />
<rect x="652.25" y="185.75" width="4.95" height="7.25" fill="#f06236" />
<rect x="647.30" y="192.50" width="5.45" height="7.25" fill="#d9302a" />
<rect x="652.25" y="192.50" width="4.95" height="7.25" fill="#950c28" />
<rect x="647.30" y="199.25" width="5.45" height="7.25" fill="#f06236" />
<rect x="652.25" y="199.25" width="4.95" height="7.25" fill="#950c28" />
<rect x="647.30" y="206.00" width="5.45" height="7.25" fill="#950c28" />
<rect x="652.25" y="206.00" width="4.95" height="7.25" fill="#950c28" />
<rect x="647.30" y="212.75" width="5.45" height="7.25" fill="#d9302a" />
<rect x="652.25" y="212.75" width="4.95" height="7.25" fill="#950c28" />
<rect x="647.30" y="219.50" width="5.45" height="6.75" fill="#950c28" />
<rect x="652.25" y="219.50" width="4.95" height="6.75" fill="#950c28" />
<circle cx="649.77" cy="189.12" r="0.62" fill="#4a4a4a"/>
<circle cx="654.73" cy="189.12" r="0.62" fill="#4a4a4a"/>
<circle cx="649.77" cy="195.88" r="0.62" fill="#4a4a4a"/>
<circle cx="654.73" cy="195.88" r="0.62" fill="#4a4a4a"/>
<circle cx="649.77" cy="202.62" r="0.62" fill="#4a4a4a"/>
<circle cx="654.73" cy="202.62" r="0.62" fill="#4a4a4a"/>
<circle cx="649.77" cy="209.38" r="0.62" fill="#4a4a4a"/>
<circle cx="654.73" cy="209.38" r="0.62" fill="#4a4a4a"/>
<circle cx="649.77" cy="216.12" r="0.62" fill="#4a4a4a"/>
<circle cx="654.73" cy="216.12" r="0.62" fill="#4a4a4a"/>
<circle cx="649.77" cy="222.88" r="0.62" fill="#4a4a4a"/>
<circle cx="654.73" cy="222.88" r="0.62" fill="#4a4a4a"/>
<rect x="647.30" y="179.00" width="9.90" height="47.25" fill="none" stroke="#6f6f6f" stroke-width="0.9" rx="0.8"/>
<rect x="647.30" y="229.50" width="5.35" height="5.50" fill="#6a9c4d" />
<rect x="652.25" y="229.50" width="4.95" height="5.50" fill="#3a6a40" />
<path d="M652.25,229.5V235" stroke="#2a2a2a" stroke-width="0.45"/>
<rect x="647.30" y="229.5" width="9.90" height="5.5" fill="none" stroke="#444" stroke-width="0.55"/>
<text transform="translate(654.15,71.4) rotate(-90)" font-size="7.45">TNF via NFκB sig.</text>
<line x1="647.30" y1="74.6" x2="657.20" y2="74.6" stroke="#8a8a8a" stroke-width="0.9"/>
<text x="660.20" y="87.38" font-size="6.4" text-anchor="start" >CRC</text>
<text x="660.20" y="94.12" font-size="6.4" text-anchor="start" >HNSCC</text>
<text x="660.20" y="100.88" font-size="6.4" text-anchor="start" >NPC</text>
<text x="660.20" y="107.62" font-size="6.4" text-anchor="start" >BRCA</text>
<text x="660.20" y="118.38" font-size="6.4" text-anchor="start" >Flu</text>
<text x="660.20" y="125.12" font-size="6.4" text-anchor="start" >COVID</text>
<text x="660.20" y="131.88" font-size="6.4" text-anchor="start" >HBV</text>
<text x="660.20" y="138.62" font-size="6.4" text-anchor="start" >HIV</text>
<text x="660.20" y="149.57" font-size="6.4" text-anchor="start" >Sepsis</text>
<text x="660.20" y="159.97" font-size="6.4" text-anchor="start" >Cirrhosis</text>
<text x="660.20" y="166.72" font-size="6.4" text-anchor="start" >COPD</text>
<text x="660.20" y="173.47" font-size="6.4" text-anchor="start" >Asthma</text>
<text x="660.20" y="184.38" font-size="6.4" text-anchor="start" >MS</text>
<text x="660.20" y="191.12" font-size="6.4" text-anchor="start" >SLE</text>
<text x="660.20" y="197.88" font-size="6.4" text-anchor="start" >UC</text>
<text x="660.20" y="204.62" font-size="6.4" text-anchor="start" >CD</text>
<text x="660.20" y="211.38" font-size="6.4" text-anchor="start" >PSA</text>
<text x="660.20" y="218.12" font-size="6.4" text-anchor="start" >PS</text>
<text x="660.20" y="224.88" font-size="6.4" text-anchor="start" >RA</text>
<text x="660.20" y="234.60" font-size="6.4" text-anchor="start" >Cell type</text>
<text x="58.50" y="248.00" font-size="7.6" text-anchor="end" >Cell type:</text>
<rect x="62.60" y="243.00" width="7.00" height="7.00" fill="#7cc5dc" stroke="#555" stroke-width="0.4"/>
<text x="74.80" y="249.20" font-size="7.3" text-anchor="start" >B</text>
<rect x="62.60" y="255.00" width="7.00" height="7.00" fill="#0d4f67" stroke="#555" stroke-width="0.4"/>
<text x="74.80" y="261.20" font-size="7.3" text-anchor="start" >Plasma</text>
<rect x="111.60" y="243.00" width="7.00" height="7.00" fill="#a5c85b" stroke="#555" stroke-width="0.4"/>
<text x="123.80" y="249.20" font-size="7.3" text-anchor="start" >pDC</text>
<rect x="111.60" y="255.00" width="7.00" height="7.00" fill="#6a9c4d" stroke="#555" stroke-width="0.4"/>
<text x="123.80" y="261.20" font-size="7.3" text-anchor="start" >DC</text>
<rect x="111.60" y="267.00" width="7.00" height="7.00" fill="#3a6a40" stroke="#555" stroke-width="0.4"/>
<text x="123.80" y="273.20" font-size="7.3" text-anchor="start" >Mono</text>
<rect x="155.80" y="243.00" width="7.00" height="7.00" fill="#fdf0aa" stroke="#555" stroke-width="0.4"/>
<text x="168.00" y="249.20" font-size="7.3" text-anchor="start" >T CD4 naive</text>
<rect x="155.80" y="255.00" width="7.00" height="7.00" fill="#e5a23e" stroke="#555" stroke-width="0.4"/>
<text x="168.00" y="261.20" font-size="7.3" text-anchor="start" >T CD4 non-naive</text>
<rect x="237.60" y="243.00" width="7.00" height="7.00" fill="#a62f35" stroke="#555" stroke-width="0.4"/>
<text x="249.80" y="249.20" font-size="7.3" text-anchor="start" >T CD8 naive</text>
<rect x="237.60" y="255.00" width="7.00" height="7.00" fill="#5a0e16" stroke="#555" stroke-width="0.4"/>
<text x="249.80" y="261.20" font-size="7.3" text-anchor="start" >T CD8 non-naive</text>
<rect x="318.80" y="243.00" width="7.00" height="7.00" fill="#94678a" stroke="#555" stroke-width="0.4"/>
<text x="331.00" y="249.20" font-size="7.3" text-anchor="start" >UTC</text>
<rect x="318.80" y="255.00" width="7.00" height="7.00" fill="#6a1f3d" stroke="#555" stroke-width="0.4"/>
<text x="331.00" y="261.20" font-size="7.3" text-anchor="start" >ILC</text>
<text x="470.40" y="248.80" font-size="7.7" text-anchor="middle" >Corrected activity score</text>
<text x="470.40" y="257.20" font-size="7.7" text-anchor="middle" >(ULM coefficient)</text>
<defs><linearGradient id="gA" x1="0" x2="1" y1="0" y2="0"><stop offset="0" stop-color="#0e4a92"/><stop offset="0.18" stop-color="#3b7dbb"/><stop offset="0.3" stop-color="#9cc4e0"/><stop offset="0.365" stop-color="#eef3f8"/><stop offset="0.37" stop-color="#fff6c0"/><stop offset="0.5" stop-color="#fedf8c"/><stop offset="0.65" stop-color="#fca95c"/><stop offset="0.8" stop-color="#f0603a"/><stop offset="0.92" stop-color="#cc1f2a"/><stop offset="1" stop-color="#9a0030"/></linearGradient></defs>
<rect x="521.20" y="249.80" width="81.20" height="5.10" fill="url(#gA)" />
<text x="521.20" y="247.60" font-size="6.2" text-anchor="start" >&lt;–6.5</text>
<text x="551.50" y="247.60" font-size="6.2" text-anchor="middle" >0</text>
<text x="602.00" y="247.60" font-size="6.2" text-anchor="end" >&gt;9</text>
<text x="0.60" y="291.60" font-size="12.5" text-anchor="start" font-weight="bold" fill="#000">b</text>
<path d="M52.25,368.30L52.25,377.00 M63.90,368.30L63.90,377.00 M52.25,368.30L63.90,368.30 M40.60,366.60L40.60,377.00 M58.08,366.60L58.08,368.30 M40.60,366.60L58.08,366.60 M75.55,365.30L75.55,377.00 M87.20,365.30L87.20,377.00 M75.55,365.30L87.20,365.30 M49.34,357.70L49.34,366.60 M81.38,357.70L81.38,365.30 M49.34,357.70L81.38,357.70 M28.95,351.30L28.95,377.00 M65.36,351.30L65.36,357.70 M28.95,351.30L65.36,351.30 M17.30,336.00L17.30,377.00 M47.15,336.00L47.15,351.30 M17.30,336.00L47.15,336.00 M110.50,356.60L110.50,377.00 M122.15,356.60L122.15,377.00 M110.50,356.60L122.15,356.60 M133.80,357.30L133.80,377.00 M145.45,357.30L145.45,377.00 M133.80,357.30L145.45,357.30 M157.10,351.00L157.10,377.00 M168.75,351.00L168.75,377.00 M157.10,351.00L168.75,351.00 M139.62,349.00L139.62,357.30 M162.93,349.00L162.93,351.00 M139.62,349.00L162.93,349.00 M180.40,358.30L180.40,377.00 M192.05,358.30L192.05,377.00 M180.40,358.30L192.05,358.30 M215.35,362.30L215.35,377.00 M227.00,362.30L227.00,377.00 M215.35,362.30L227.00,362.30 M203.70,356.60L203.70,377.00 M221.18,356.60L221.18,362.30 M203.70,356.60L221.18,356.60 M186.23,346.60L186.23,358.30 M212.44,346.60L212.44,356.60 M186.23,346.60L212.44,346.60 M151.28,333.80L151.28,349.00 M199.33,333.80L199.33,346.60 M151.28,333.80L199.33,333.80 M116.33,329.30L116.33,356.60 M175.30,329.30L175.30,333.80 M116.33,329.30L175.30,329.30 M98.85,318.50L98.85,377.00 M145.81,318.50L145.81,329.30 M98.85,318.50L145.81,318.50 M32.23,290.00L32.23,336.00 M122.33,290.00L122.33,318.50 M32.23,290.00L122.33,290.00" stroke="#555" stroke-width="0.85" fill="none"/>
<text transform="translate(19.90,380.6) rotate(-90)" font-size="7.4" text-anchor="end">Cirrhosis</text>
<rect x="11.85" y="416.00" width="12.10" height="10.00" fill="#f6aac5" />
<text transform="translate(31.55,380.6) rotate(-90)" font-size="7.4" text-anchor="end">SLE</text>
<rect x="23.50" y="416.00" width="12.10" height="10.00" fill="#25a08b" />
<text transform="translate(43.20,380.6) rotate(-90)" font-size="7.4" text-anchor="end">UC</text>
<rect x="35.15" y="416.00" width="12.10" height="10.00" fill="#25a08b" />
<text transform="translate(54.85,380.6) rotate(-90)" font-size="7.4" text-anchor="end">RA</text>
<rect x="46.80" y="416.00" width="12.10" height="10.00" fill="#25a08b" />
<text transform="translate(66.50,380.6) rotate(-90)" font-size="7.4" text-anchor="end">PSA</text>
<rect x="58.45" y="416.00" width="12.10" height="10.00" fill="#25a08b" />
<text transform="translate(78.15,380.6) rotate(-90)" font-size="7.4" text-anchor="end">PS</text>
<rect x="70.10" y="416.00" width="12.10" height="10.00" fill="#25a08b" />
<text transform="translate(89.80,380.6) rotate(-90)" font-size="7.4" text-anchor="end">CD</text>
<rect x="81.75" y="416.00" width="12.10" height="10.00" fill="#25a08b" />
<text transform="translate(101.45,380.6) rotate(-90)" font-size="7.4" text-anchor="end">HIV</text>
<rect x="93.40" y="416.00" width="12.10" height="10.00" fill="#abc3f7" />
<text transform="translate(113.10,380.6) rotate(-90)" font-size="7.4" text-anchor="end">HBV</text>
<rect x="105.05" y="416.00" width="12.10" height="10.00" fill="#abc3f7" />
<text transform="translate(124.75,380.6) rotate(-90)" font-size="7.4" text-anchor="end">NPC</text>
<rect x="116.70" y="416.00" width="12.10" height="10.00" fill="#e2a433" />
<text transform="translate(136.40,380.6) rotate(-90)" font-size="7.4" text-anchor="end">MS</text>
<rect x="128.35" y="416.00" width="12.10" height="10.00" fill="#25a08b" />
<text transform="translate(148.05,380.6) rotate(-90)" font-size="7.4" text-anchor="end">Asthma</text>
<rect x="140.00" y="416.00" width="12.10" height="10.00" fill="#f6aac5" />
<text transform="translate(159.70,380.6) rotate(-90)" font-size="7.4" text-anchor="end">CRC</text>
<rect x="151.65" y="416.00" width="12.10" height="10.00" fill="#e2a433" />
<text transform="translate(171.35,380.6) rotate(-90)" font-size="7.4" text-anchor="end">BRCA</text>
<rect x="163.30" y="416.00" width="12.10" height="10.00" fill="#e2a433" />
<text transform="translate(183.00,380.6) rotate(-90)" font-size="7.4" text-anchor="end">COPD</text>
<rect x="174.95" y="416.00" width="12.10" height="10.00" fill="#f6aac5" />
<text transform="translate(194.65,380.6) rotate(-90)" font-size="7.4" text-anchor="end">HNSCC</text>
<rect x="186.60" y="416.00" width="12.10" height="10.00" fill="#e2a433" />
<text transform="translate(206.30,380.6) rotate(-90)" font-size="7.4" text-anchor="end">Sepsis</text>
<rect x="198.25" y="416.00" width="12.10" height="10.00" fill="#e5283f" />
<text transform="translate(217.95,380.6) rotate(-90)" font-size="7.4" text-anchor="end">COVID</text>
<rect x="209.90" y="416.00" width="12.10" height="10.00" fill="#abc3f7" />
<text transform="translate(229.60,380.6) rotate(-90)" font-size="7.4" text-anchor="end">Flu</text>
<rect x="221.55" y="416.00" width="11.70" height="10.00" fill="#abc3f7" />
<text x="242.70" y="326.00" font-size="7.6" text-anchor="start" >Disease group</text>
<rect x="242.70" y="330.40" width="6.80" height="6.80" fill="#25a08b" stroke="#444" stroke-width="0.4"/>
<text x="254.50" y="336.50" font-size="7.6" text-anchor="start" >IMIDs</text>
<rect x="242.70" y="342.50" width="6.80" height="6.80" fill="#f6aac5" stroke="#444" stroke-width="0.4"/>
<text x="254.50" y="348.60" font-size="7.6" text-anchor="start" >Chronic inflammation</text>
<rect x="242.70" y="354.60" width="6.80" height="6.80" fill="#e5283f" stroke="#444" stroke-width="0.4"/>
<text x="254.50" y="360.70" font-size="7.6" text-anchor="start" >Acute inflammation</text>
<rect x="242.70" y="366.70" width="6.80" height="6.80" fill="#abc3f7" stroke="#444" stroke-width="0.4"/>
<text x="254.50" y="372.80" font-size="7.6" text-anchor="start" >Infection</text>
<rect x="242.70" y="378.80" width="6.80" height="6.80" fill="#e2a433" stroke="#444" stroke-width="0.4"/>
<text x="254.50" y="384.90" font-size="7.6" text-anchor="start" >Solid tumors</text>
<text x="338.00" y="290.90" font-size="12.5" text-anchor="start" font-weight="bold" fill="#000">c</text>
<text x="389.70" y="298.70" font-size="7.3" text-anchor="middle" >IFN type 1 and 2</text>
<line x1="337.3" y1="302.5" x2="442" y2="302.5" stroke="#555" stroke-width="0.8"/>
<rect x="337.30" y="307.10" width="17.85" height="11.86" fill="#fdd383" />
<rect x="344.93" y="311.73" width="2.20" height="2.20" fill="#444" />
<rect x="354.75" y="307.10" width="17.85" height="11.86" fill="#fffbd2" />
<rect x="372.20" y="307.10" width="17.85" height="11.86" fill="#fee9a4" />
<rect x="389.65" y="307.10" width="17.85" height="11.86" fill="#fee9a4" />
<rect x="407.10" y="307.10" width="17.85" height="11.86" fill="#fdd383" />
<rect x="414.73" y="311.73" width="2.20" height="2.20" fill="#444" />
<rect x="424.55" y="307.10" width="17.45" height="11.86" fill="#fee9a4" />
<rect x="432.18" y="311.73" width="2.20" height="2.20" fill="#444" />
<rect x="337.30" y="318.56" width="17.85" height="11.86" fill="#dd2f2a" />
<rect x="344.93" y="323.19" width="2.20" height="2.20" fill="#444" />
<rect x="354.75" y="318.56" width="17.85" height="11.86" fill="#fb9a4e" />
<rect x="362.38" y="323.19" width="2.20" height="2.20" fill="#444" />
<rect x="372.20" y="318.56" width="17.85" height="11.86" fill="#f05533" />
<rect x="379.82" y="323.19" width="2.20" height="2.20" fill="#444" />
<rect x="389.65" y="318.56" width="17.85" height="11.86" fill="#fb9a4e" />
<rect x="397.27" y="323.19" width="2.20" height="2.20" fill="#444" />
<rect x="407.10" y="318.56" width="17.85" height="11.86" fill="#f05533" />
<rect x="414.73" y="323.19" width="2.20" height="2.20" fill="#444" />
<rect x="424.55" y="318.56" width="17.45" height="11.86" fill="#8c0027" />
<rect x="432.18" y="323.19" width="2.20" height="2.20" fill="#444" />
<rect x="337.30" y="330.03" width="17.85" height="11.86" fill="#dd2f2a" />
<rect x="344.93" y="334.66" width="2.20" height="2.20" fill="#444" />
<rect x="354.75" y="330.03" width="17.85" height="11.86" fill="#fee9a4" />
<rect x="372.20" y="330.03" width="17.85" height="11.86" fill="#fb9a4e" />
<rect x="379.82" y="334.66" width="2.20" height="2.20" fill="#444" />
<rect x="389.65" y="330.03" width="17.85" height="11.86" fill="#fb9a4e" />
<rect x="397.27" y="334.66" width="2.20" height="2.20" fill="#444" />
<rect x="407.10" y="330.03" width="17.85" height="11.86" fill="#f7793f" />
<rect x="414.73" y="334.66" width="2.20" height="2.20" fill="#444" />
<rect x="424.55" y="330.03" width="17.45" height="11.86" fill="#fee9a4" />
<rect x="337.30" y="341.49" width="17.85" height="11.86" fill="#f05533" />
<rect x="344.93" y="346.12" width="2.20" height="2.20" fill="#444" />
<rect x="354.75" y="341.49" width="17.85" height="11.86" fill="#f7793f" />
<rect x="372.20" y="341.49" width="17.85" height="11.86" fill="#fdb865" />
<rect x="389.65" y="341.49" width="17.85" height="11.86" fill="#f7793f" />
<rect x="407.10" y="341.49" width="17.85" height="11.86" fill="#f7793f" />
<rect x="424.55" y="341.49" width="17.45" height="11.86" fill="#fb9a4e" />
<rect x="432.18" y="346.12" width="2.20" height="2.20" fill="#444" />
<rect x="337.30" y="352.95" width="17.85" height="11.86" fill="#f7793f" />
<rect x="354.75" y="352.95" width="17.85" height="11.86" fill="#fee9a4" />
<rect x="372.20" y="352.95" width="17.85" height="11.86" fill="#fdd383" />
<rect x="389.65" y="352.95" width="17.85" height="11.86" fill="#fdb865" />
<rect x="407.10" y="352.95" width="17.85" height="11.86" fill="#f05533" />
<rect x="424.55" y="352.95" width="17.45" height="11.86" fill="#fb9a4e" />
<rect x="432.18" y="357.58" width="2.20" height="2.20" fill="#444" />
<rect x="337.30" y="364.41" width="17.85" height="11.86" fill="#fb9a4e" />
<rect x="344.93" y="369.04" width="2.20" height="2.20" fill="#444" />
<rect x="354.75" y="364.41" width="17.85" height="11.86" fill="#fee9a4" />
<rect x="372.20" y="364.41" width="17.85" height="11.86" fill="#fb9a4e" />
<rect x="379.82" y="369.04" width="2.20" height="2.20" fill="#444" />
<rect x="389.65" y="364.41" width="17.85" height="11.86" fill="#f05533" />
<rect x="397.27" y="369.04" width="2.20" height="2.20" fill="#444" />
<rect x="407.10" y="364.41" width="17.85" height="11.86" fill="#fb9a4e" />
<rect x="414.73" y="369.04" width="2.20" height="2.20" fill="#444" />
<rect x="424.55" y="364.41" width="17.45" height="11.86" fill="#fee9a4" />
<rect x="337.30" y="375.88" width="17.85" height="11.86" fill="#bd1429" />
<rect x="354.75" y="375.88" width="17.85" height="11.86" fill="#f7793f" />
<rect x="372.20" y="375.88" width="17.85" height="11.86" fill="#fb9a4e" />
<rect x="389.65" y="375.88" width="17.85" height="11.86" fill="#f05533" />
<rect x="407.10" y="375.88" width="17.85" height="11.86" fill="#8c0027" />
<rect x="414.73" y="380.51" width="2.20" height="2.20" fill="#444" />
<rect x="424.55" y="375.88" width="17.45" height="11.86" fill="#dd2f2a" />
<rect x="432.18" y="380.51" width="2.20" height="2.20" fill="#444" />
<rect x="337.30" y="387.34" width="17.85" height="11.46" fill="#fb9a4e" />
<rect x="354.75" y="387.34" width="17.85" height="11.46" fill="#fee9a4" />
<rect x="372.20" y="387.34" width="17.85" height="11.46" fill="#fdb865" />
<rect x="389.65" y="387.34" width="17.85" height="11.46" fill="#fdb865" />
<rect x="407.10" y="387.34" width="17.85" height="11.46" fill="#dd2f2a" />
<rect x="414.73" y="391.97" width="2.20" height="2.20" fill="#444" />
<rect x="424.55" y="387.34" width="17.45" height="11.46" fill="#fb9a4e" />
<rect x="432.18" y="391.97" width="2.20" height="2.20" fill="#444" />
<rect x="337.3" y="307.1" width="104.7" height="91.7" fill="none" stroke="#555" stroke-width="0.8"/>
<text x="446.00" y="315.53" font-size="7.6" text-anchor="start" >CM</text>
<text x="446.00" y="326.99" font-size="7.6" text-anchor="start" >CM stem</text>
<text x="446.00" y="338.46" font-size="7.6" text-anchor="start" >EM CX3CR1 high</text>
<text x="446.00" y="349.92" font-size="7.6" text-anchor="start" >EM CX3CR1 int</text>
<text x="446.00" y="361.38" font-size="7.6" text-anchor="start" >Effector HOBIT</text>
<text x="446.00" y="372.84" font-size="7.6" text-anchor="start" >IFNresponse</text>
<text x="446.00" y="384.31" font-size="7.6" text-anchor="start" >Memory cytotoxic</text>
<text x="446.00" y="395.77" font-size="7.6" text-anchor="start" >Activated</text>
<text x="346.03" y="406.90" font-size="7.6" text-anchor="middle" >RA</text>
<text x="363.48" y="406.90" font-size="7.6" text-anchor="middle" >PS</text>
<text x="380.93" y="406.90" font-size="7.6" text-anchor="middle" >PSA</text>
<text x="398.38" y="406.90" font-size="7.6" text-anchor="middle" >CD</text>
<text x="415.83" y="406.90" font-size="7.6" text-anchor="middle" >UC</text>
<text x="433.28" y="406.90" font-size="7.6" text-anchor="middle" >SLE</text>
<text x="379.00" y="422.20" font-size="7.6" text-anchor="middle" >Corrected activity score</text>
<text x="377.50" y="430.20" font-size="7.6" text-anchor="middle" >(ULM coefficient)</text>
<defs><linearGradient id="gC" x1="0" x2="1" y1="0" y2="0"><stop offset="0" stop-color="#fff4c6"/><stop offset="0.3" stop-color="#fdc878"/><stop offset="0.6" stop-color="#f26c3a"/><stop offset="0.8" stop-color="#d22a2c"/><stop offset="1" stop-color="#8c0027"/></linearGradient></defs>
<rect x="423.80" y="416.60" width="24.10" height="9.80" fill="url(#gC)" />
<text x="425.30" y="433.30" font-size="6.4" text-anchor="middle" >0</text>
<text x="449.80" y="433.30" font-size="6.4" text-anchor="end" >3.5</text>
<text x="510.80" y="291.60" font-size="12.5" text-anchor="start" font-weight="bold" fill="#000">d</text>
<rect x="551.9" y="310.2" width="22.2" height="69.4" fill="none" stroke="#555" stroke-width="0.8" rx="1"/>
<text x="563.00" y="289.70" font-size="7.0" text-anchor="middle" >EM</text>
<text x="563.00" y="297.80" font-size="7.0" text-anchor="middle" >CX3CR1</text>
<text x="563.00" y="306.00" font-size="7.0" text-anchor="middle" >high</text>
<line x1="549.6999999999999" y1="320.00" x2="551.9" y2="320.00" stroke="#555" stroke-width="0.7"/>
<line x1="549.6999999999999" y1="329.85" x2="551.9" y2="329.85" stroke="#555" stroke-width="0.7"/>
<line x1="549.6999999999999" y1="339.70" x2="551.9" y2="339.70" stroke="#555" stroke-width="0.7"/>
<line x1="549.6999999999999" y1="349.55" x2="551.9" y2="349.55" stroke="#555" stroke-width="0.7"/>
<line x1="549.6999999999999" y1="359.40" x2="551.9" y2="359.40" stroke="#555" stroke-width="0.7"/>
<line x1="549.6999999999999" y1="369.25" x2="551.9" y2="369.25" stroke="#555" stroke-width="0.7"/>
<text transform="translate(561.40,385.3) rotate(-90)" font-size="7.0" text-anchor="end" font-style="italic">FGFBP2</text>
<line x1="558.90" y1="379.6" x2="558.90" y2="381.9" stroke="#555" stroke-width="0.7"/>
<text transform="translate(570.30,385.3) rotate(-90)" font-size="7.0" text-anchor="end" font-style="italic">GZMB</text>
<line x1="567.80" y1="379.6" x2="567.80" y2="381.9" stroke="#555" stroke-width="0.7"/>
<rect x="583.8" y="310.2" width="22.2" height="69.4" fill="none" stroke="#555" stroke-width="0.8" rx="1"/>
<text x="594.90" y="289.70" font-size="7.0" text-anchor="middle" >EM</text>
<text x="594.90" y="297.80" font-size="7.0" text-anchor="middle" >CX3CR1</text>
<text x="594.90" y="306.00" font-size="7.0" text-anchor="middle" >int</text>
<line x1="581.5999999999999" y1="320.00" x2="583.8" y2="320.00" stroke="#555" stroke-width="0.7"/>
<line x1="581.5999999999999" y1="329.85" x2="583.8" y2="329.85" stroke="#555" stroke-width="0.7"/>
<line x1="581.5999999999999" y1="339.70" x2="583.8" y2="339.70" stroke="#555" stroke-width="0.7"/>
<line x1="581.5999999999999" y1="349.55" x2="583.8" y2="349.55" stroke="#555" stroke-width="0.7"/>
<line x1="581.5999999999999" y1="359.40" x2="583.8" y2="359.40" stroke="#555" stroke-width="0.7"/>
<line x1="581.5999999999999" y1="369.25" x2="583.8" y2="369.25" stroke="#555" stroke-width="0.7"/>
<text transform="translate(593.30,385.3) rotate(-90)" font-size="7.0" text-anchor="end" font-style="italic">FGFBP2</text>
<line x1="590.80" y1="379.6" x2="590.80" y2="381.9" stroke="#555" stroke-width="0.7"/>
<text transform="translate(602.20,385.3) rotate(-90)" font-size="7.0" text-anchor="end" font-style="italic">GZMB</text>
<line x1="599.70" y1="379.6" x2="599.70" y2="381.9" stroke="#555" stroke-width="0.7"/>
<rect x="616.2" y="310.2" width="22.2" height="69.4" fill="none" stroke="#555" stroke-width="0.8" rx="1"/>
<text x="627.30" y="297.60" font-size="7.0" text-anchor="middle" >Effector</text>
<text x="627.30" y="305.60" font-size="7.0" text-anchor="middle" >HOBIT</text>
<line x1="614.0" y1="320.00" x2="616.2" y2="320.00" stroke="#555" stroke-width="0.7"/>
<line x1="614.0" y1="329.85" x2="616.2" y2="329.85" stroke="#555" stroke-width="0.7"/>
<line x1="614.0" y1="339.70" x2="616.2" y2="339.70" stroke="#555" stroke-width="0.7"/>
<line x1="614.0" y1="349.55" x2="616.2" y2="349.55" stroke="#555" stroke-width="0.7"/>
<line x1="614.0" y1="359.40" x2="616.2" y2="359.40" stroke="#555" stroke-width="0.7"/>
<line x1="614.0" y1="369.25" x2="616.2" y2="369.25" stroke="#555" stroke-width="0.7"/>
<text transform="translate(625.70,385.3) rotate(-90)" font-size="7.0" text-anchor="end" font-style="italic">FGFBP2</text>
<line x1="623.20" y1="379.6" x2="623.20" y2="381.9" stroke="#555" stroke-width="0.7"/>
<text transform="translate(634.60,385.3) rotate(-90)" font-size="7.0" text-anchor="end" font-style="italic">GZMB</text>
<line x1="632.10" y1="379.6" x2="632.10" y2="381.9" stroke="#555" stroke-width="0.7"/>
<rect x="649.0" y="310.2" width="22.2" height="69.4" fill="none" stroke="#555" stroke-width="0.8" rx="1"/>
<text x="660.10" y="301.20" font-size="7.0" text-anchor="middle" >Activated</text>
<line x1="646.8" y1="320.00" x2="649.0" y2="320.00" stroke="#555" stroke-width="0.7"/>
<line x1="646.8" y1="329.85" x2="649.0" y2="329.85" stroke="#555" stroke-width="0.7"/>
<line x1="646.8" y1="339.70" x2="649.0" y2="339.70" stroke="#555" stroke-width="0.7"/>
<line x1="646.8" y1="349.55" x2="649.0" y2="349.55" stroke="#555" stroke-width="0.7"/>
<line x1="646.8" y1="359.40" x2="649.0" y2="359.40" stroke="#555" stroke-width="0.7"/>
<line x1="646.8" y1="369.25" x2="649.0" y2="369.25" stroke="#555" stroke-width="0.7"/>
<text transform="translate(658.50,385.3) rotate(-90)" font-size="7.0" text-anchor="end" font-style="italic">FGFBP2</text>
<line x1="656.00" y1="379.6" x2="656.00" y2="381.9" stroke="#555" stroke-width="0.7"/>
<text transform="translate(667.40,385.3) rotate(-90)" font-size="7.0" text-anchor="end" font-style="italic">GZMB</text>
<line x1="664.90" y1="379.6" x2="664.90" y2="381.9" stroke="#555" stroke-width="0.7"/>
<text x="545.60" y="322.50" font-size="7.2" text-anchor="end" >RA</text>
<text x="545.60" y="332.35" font-size="7.2" text-anchor="end" >PS</text>
<text x="545.60" y="342.20" font-size="7.2" text-anchor="end" >PSA</text>
<text x="545.60" y="352.05" font-size="7.2" text-anchor="end" >CD</text>
<text x="545.60" y="361.90" font-size="7.2" text-anchor="end" >UC</text>
<text x="545.60" y="371.75" font-size="7.2" text-anchor="end" >Healthy</text>
<circle cx="558.90" cy="320.00" r="3.4" fill="#f4a58a" stroke="#222" stroke-width="0.55"/>
<circle cx="567.80" cy="320.00" r="4.3" fill="#9c0f1e" stroke="#222" stroke-width="0.55"/>
<circle cx="558.90" cy="329.85" r="3.4" fill="#fde4dc" stroke="#222" stroke-width="0.55"/>
<circle cx="567.80" cy="329.85" r="4.3" fill="#fdeee8" stroke="#222" stroke-width="0.55"/>
<circle cx="558.90" cy="339.70" r="3.4" fill="#f4a58a" stroke="#222" stroke-width="0.55"/>
<circle cx="567.80" cy="339.70" r="4.3" fill="#d7402f" stroke="#222" stroke-width="0.55"/>
<circle cx="558.90" cy="349.55" r="4.0" fill="#c5282e" stroke="#222" stroke-width="0.55"/>
<circle cx="567.80" cy="349.55" r="4.0" fill="#d83c2f" stroke="#222" stroke-width="0.55"/>
<circle cx="558.90" cy="359.40" r="4.2" fill="#6e0615" stroke="#222" stroke-width="0.55"/>
<circle cx="567.80" cy="359.40" r="4.3" fill="#6e0615" stroke="#222" stroke-width="0.55"/>
<circle cx="558.90" cy="369.25" r="4.0" fill="#f7b6a0" stroke="#222" stroke-width="0.55"/>
<circle cx="567.80" cy="369.25" r="4.3" fill="#f4a586" stroke="#222" stroke-width="0.55"/>
<circle cx="590.80" cy="320.00" r="3.3" fill="#e45a41" stroke="#222" stroke-width="0.55"/>
<circle cx="599.70" cy="320.00" r="3.4" fill="#f08d70" stroke="#222" stroke-width="0.55"/>
<circle cx="590.80" cy="329.85" r="3.3" fill="#e24b39" stroke="#222" stroke-width="0.55"/>
<circle cx="599.70" cy="329.85" r="3.6" fill="#f08d70" stroke="#222" stroke-width="0.55"/>
<circle cx="590.80" cy="339.70" r="2.9" fill="#fbe3d8" stroke="#222" stroke-width="0.55"/>
<circle cx="599.70" cy="339.70" r="3.3" fill="#fde8de" stroke="#222" stroke-width="0.55"/>
<circle cx="590.80" cy="349.55" r="3.4" fill="#b51d2b" stroke="#222" stroke-width="0.55"/>
<circle cx="599.70" cy="349.55" r="4.1" fill="#700716" stroke="#222" stroke-width="0.55"/>
<circle cx="590.80" cy="359.40" r="3.6" fill="#700716" stroke="#222" stroke-width="0.55"/>
<circle cx="599.70" cy="359.40" r="3.3" fill="#fbd3c4" stroke="#222" stroke-width="0.55"/>
<circle cx="590.80" cy="369.25" r="3.2" fill="#fde6de" stroke="#222" stroke-width="0.55"/>
<circle cx="599.70" cy="369.25" r="3.6" fill="#fff0ea" stroke="#222" stroke-width="0.55"/>
<circle cx="623.20" cy="320.00" r="3.3" fill="#a5101b" stroke="#222" stroke-width="0.55"/>
<circle cx="632.10" cy="320.00" r="4.3" fill="#a5101b" stroke="#222" stroke-width="0.55"/>
<circle cx="623.20" cy="329.85" r="3.3" fill="#e65a41" stroke="#222" stroke-width="0.55"/>
<circle cx="632.10" cy="329.85" r="4.3" fill="#c3232d" stroke="#222" stroke-width="0.55"/>
<circle cx="623.20" cy="339.70" r="3.4" fill="#cf2a2a" stroke="#222" stroke-width="0.55"/>
<circle cx="632.10" cy="339.70" r="4.4" fill="#700716" stroke="#222" stroke-width="0.55"/>
<circle cx="623.20" cy="349.55" r="2.9" fill="#fde6dc" stroke="#222" stroke-width="0.55"/>
<circle cx="632.10" cy="349.55" r="4.1" fill="#ef7b5e" stroke="#222" stroke-width="0.55"/>
<circle cx="623.20" cy="359.40" r="3.5" fill="#700716" stroke="#222" stroke-width="0.55"/>
<circle cx="632.10" cy="359.40" r="4.1" fill="#ef7b5e" stroke="#222" stroke-width="0.55"/>
<circle cx="623.20" cy="369.25" r="3.0" fill="#fde8e0" stroke="#222" stroke-width="0.55"/>
<circle cx="632.10" cy="369.25" r="4.3" fill="#fff0ea" stroke="#222" stroke-width="0.55"/>
<circle cx="656.00" cy="320.00" r="2.2" fill="#f08d70" stroke="#222" stroke-width="0.55"/>
<circle cx="664.90" cy="320.00" r="2.0" fill="#f4a586" stroke="#222" stroke-width="0.55"/>
<circle cx="656.00" cy="329.85" r="1.9" fill="#fde2d8" stroke="#222" stroke-width="0.55"/>
<circle cx="664.90" cy="329.85" r="2.0" fill="#f4a586" stroke="#222" stroke-width="0.55"/>
<circle cx="656.00" cy="339.70" r="2.2" fill="#ef7b5e" stroke="#222" stroke-width="0.55"/>
<circle cx="664.90" cy="339.70" r="2.2" fill="#e45a41" stroke="#222" stroke-width="0.55"/>
<circle cx="656.00" cy="349.55" r="2.1" fill="#f08d70" stroke="#222" stroke-width="0.55"/>
<circle cx="664.90" cy="349.55" r="2.1" fill="#d7402f" stroke="#222" stroke-width="0.55"/>
<circle cx="656.00" cy="359.40" r="2.6" fill="#700716" stroke="#222" stroke-width="0.55"/>
<circle cx="664.90" cy="359.40" r="2.4" fill="#700716" stroke="#222" stroke-width="0.55"/>
<circle cx="656.00" cy="369.25" r="1.9" fill="#ffffff" stroke="#222" stroke-width="0.55"/>
<circle cx="664.90" cy="369.25" r="1.8" fill="#ffffff" stroke="#222" stroke-width="0.55"/>
<text x="563.10" y="422.30" font-size="7.6" text-anchor="middle" >Fraction of cells (%)</text>
<circle cx="544.1" cy="429.1" r="0.7" fill="#fff" stroke="#333" stroke-width="0.5"/>
<text transform="translate(545.60,437.0) rotate(-45)" font-size="6.2" text-anchor="end">20</text>
<circle cx="552.0" cy="429.1" r="1.6" fill="#fff" stroke="#333" stroke-width="0.5"/>
<text transform="translate(553.50,437.0) rotate(-45)" font-size="6.2" text-anchor="end">40</text>
<circle cx="562.1" cy="429.1" r="2.4" fill="#fff" stroke="#333" stroke-width="0.5"/>
<text transform="translate(563.60,437.0) rotate(-45)" font-size="6.2" text-anchor="end">60</text>
<circle cx="571.8" cy="429.1" r="3.1" fill="#fff" stroke="#333" stroke-width="0.5"/>
<text transform="translate(573.30,437.0) rotate(-45)" font-size="6.2" text-anchor="end">80</text>
<circle cx="583.8" cy="429.1" r="3.8" fill="#fff" stroke="#333" stroke-width="0.5"/>
<text transform="translate(585.30,437.0) rotate(-45)" font-size="6.2" text-anchor="end">100</text>
<text x="643.50" y="422.30" font-size="7.6" text-anchor="middle" >Scaled mean expression</text>
<defs><linearGradient id="gD" x1="0" x2="1" y1="0" y2="0"><stop offset="0" stop-color="#fff5f0"/><stop offset="0.35" stop-color="#fb9a7e"/><stop offset="0.65" stop-color="#e0352b"/><stop offset="1" stop-color="#7a0012"/></linearGradient></defs>
<rect x="620.00" y="426.20" width="38.50" height="4.80" fill="url(#gD)" stroke="#555" stroke-width="0.4"/>
<line x1="620.0" y1="431" x2="620.0" y2="432.6" stroke="#555" stroke-width="0.5"/>
<line x1="639.2" y1="431" x2="639.2" y2="432.6" stroke="#555" stroke-width="0.5"/>
<line x1="658.5" y1="431" x2="658.5" y2="432.6" stroke="#555" stroke-width="0.5"/>
<text x="620.30" y="439.20" font-size="6.4" text-anchor="middle" >0</text>
<text x="639.60" y="439.20" font-size="6.4" text-anchor="middle" >0.5</text>
<text x="657.80" y="439.20" font-size="6.4" text-anchor="middle" >1.0</text>
<text x="0.90" y="456.80" font-size="12.5" text-anchor="start" font-weight="bold" fill="#000">e</text>
<defs><pattern id="hatch" width="2" height="2" patternUnits="userSpaceOnUse"><rect width="2" height="2" fill="#e8e8e8"/><rect width="1" height="1" fill="#9e9e9e"/><rect x="1" y="1" width="1" height="1" fill="#b2b2b2"/></pattern><pattern id="hatch2" width="1.9" height="1.9" patternUnits="userSpaceOnUse" patternTransform="rotate(45)"><rect width="1.9" height="1.9" fill="#ffffff"/><rect width="0.7" height="1.9" fill="#4a4a4a"/></pattern></defs>
<rect x="24.00" y="454.70" width="67.55" height="56.50" fill="url(#hatch)" />
<rect x="72.25" y="454.70" width="9.65" height="9.72" fill="#f5f8b3" />
<rect x="33.65" y="464.12" width="9.65" height="9.42" fill="#2b4a7f" />
<rect x="52.95" y="464.12" width="9.65" height="9.42" fill="#2b4a7f" />
<rect x="72.25" y="464.12" width="9.65" height="9.72" fill="#38a78b" />
<rect x="72.25" y="473.53" width="9.65" height="9.72" fill="#78c99b" />
<rect x="24.00" y="482.95" width="9.65" height="9.42" fill="#2b4a7f" />
<rect x="62.60" y="482.95" width="9.95" height="9.42" fill="#2b4a7f" />
<rect x="72.25" y="482.95" width="9.65" height="9.72" fill="#f5f8b3" />
<rect x="72.25" y="492.37" width="9.65" height="9.72" fill="#38a78b" />
<rect x="72.25" y="501.78" width="9.65" height="9.42" fill="#38a78b" />
<rect x="24.00" y="517.40" width="67.55" height="38.90" fill="url(#hatch)" />
<rect x="24.00" y="517.40" width="9.65" height="9.72" fill="#147b8b" />
<rect x="43.30" y="517.40" width="9.95" height="9.72" fill="#2b4a7f" />
<rect x="52.95" y="517.40" width="9.95" height="9.72" fill="#2b4a7f" />
<rect x="62.60" y="517.40" width="9.95" height="10.03" fill="#24678c" />
<rect x="72.25" y="517.40" width="9.65" height="10.03" fill="#f5f8b3" />
<rect x="62.60" y="527.12" width="9.95" height="9.72" fill="#2b4a7f" />
<rect x="72.25" y="527.12" width="9.65" height="10.03" fill="#c8e7a8" />
<rect x="72.25" y="536.85" width="9.65" height="10.03" fill="#38a78b" />
<rect x="72.25" y="546.57" width="9.65" height="9.72" fill="#78c99b" />
<rect x="95.00" y="454.70" width="29.10" height="56.50" fill="url(#hatch)" />
<rect x="114.40" y="482.95" width="9.70" height="9.42" fill="#2b4a7f" />
<rect x="104.70" y="501.78" width="9.70" height="9.42" fill="#2b4a7f" />
<rect x="95.00" y="517.40" width="29.10" height="38.90" fill="url(#hatch)" />
<rect x="104.70" y="517.40" width="10.00" height="10.03" fill="#24678c" />
<rect x="114.40" y="517.40" width="9.70" height="9.72" fill="#f5f8b3" />
<rect x="104.70" y="527.12" width="9.70" height="10.03" fill="#38a78b" />
<rect x="104.70" y="536.85" width="9.70" height="10.03" fill="#2b4a7f" />
<rect x="104.70" y="546.57" width="10.00" height="9.72" fill="#147b8b" />
<rect x="114.40" y="546.57" width="9.70" height="9.72" fill="#24678c" />
<rect x="128.10" y="454.70" width="10.00" height="56.50" fill="url(#hatch)" />
<rect x="128.10" y="464.12" width="10.00" height="9.42" fill="#2b4a7f" />
<rect x="128.10" y="482.95" width="10.00" height="9.72" fill="#2b4a7f" />
<rect x="128.10" y="492.37" width="10.00" height="9.72" fill="#24678c" />
<rect x="128.10" y="501.78" width="10.00" height="9.42" fill="#24678c" />
<rect x="128.10" y="517.40" width="10.00" height="38.90" fill="url(#hatch)" />
<rect x="128.10" y="517.40" width="10.00" height="9.72" fill="#24678c" />
<rect x="128.10" y="536.85" width="10.00" height="10.03" fill="#24678c" />
<rect x="128.10" y="546.57" width="10.00" height="9.72" fill="#24678c" />
<rect x="142.40" y="454.70" width="38.88" height="56.50" fill="url(#hatch)" />
<rect x="171.56" y="454.70" width="9.72" height="9.72" fill="#c8e7a8" />
<rect x="142.40" y="464.12" width="9.72" height="9.72" fill="#24678c" />
<rect x="161.84" y="464.12" width="10.02" height="9.72" fill="#24678c" />
<rect x="171.56" y="464.12" width="9.72" height="9.72" fill="#f5f8b3" />
<rect x="142.40" y="473.53" width="9.72" height="9.42" fill="#24678c" />
<rect x="161.84" y="473.53" width="10.02" height="9.72" fill="#2b4a7f" />
<rect x="171.56" y="473.53" width="9.72" height="9.72" fill="#f5f8b3" />
<rect x="161.84" y="482.95" width="10.02" height="9.72" fill="#24678c" />
<rect x="171.56" y="482.95" width="9.72" height="9.72" fill="#a8daa2" />
<rect x="161.84" y="492.37" width="10.02" height="9.72" fill="#2b4a7f" />
<rect x="171.56" y="492.37" width="9.72" height="9.72" fill="#f5f8b3" />
<rect x="142.40" y="501.78" width="9.72" height="9.42" fill="#2b4a7f" />
<rect x="161.84" y="501.78" width="10.02" height="9.42" fill="#147b8b" />
<rect x="171.56" y="501.78" width="9.72" height="9.42" fill="#f5f8b3" />
<rect x="142.40" y="517.40" width="38.88" height="38.90" fill="url(#hatch)" />
<rect x="171.56" y="517.40" width="9.72" height="10.03" fill="#78c99b" />
<rect x="171.56" y="527.12" width="9.72" height="10.03" fill="#f5f8b3" />
<rect x="171.56" y="536.85" width="9.72" height="10.03" fill="#f5f8b3" />
<rect x="171.56" y="546.57" width="9.72" height="9.72" fill="#f5f8b3" />
<rect x="185.30" y="454.70" width="38.88" height="56.50" fill="url(#hatch)" />
<rect x="185.30" y="454.70" width="9.72" height="9.72" fill="#2b4a7f" />
<rect x="204.74" y="454.70" width="10.02" height="9.42" fill="#147b8b" />
<rect x="214.46" y="454.70" width="9.72" height="9.72" fill="#24678c" />
<rect x="185.30" y="464.12" width="10.02" height="9.72" fill="#147b8b" />
<rect x="195.02" y="464.12" width="9.72" height="9.72" fill="#38a78b" />
<rect x="214.46" y="464.12" width="9.72" height="9.72" fill="#24678c" />
<rect x="185.30" y="473.53" width="10.02" height="9.42" fill="#147b8b" />
<rect x="195.02" y="473.53" width="10.02" height="9.72" fill="#24678c" />
<rect x="204.74" y="473.53" width="10.02" height="9.72" fill="#2b4a7f" />
<rect x="214.46" y="473.53" width="9.72" height="9.42" fill="#2b4a7f" />
<rect x="195.02" y="482.95" width="10.02" height="9.42" fill="#24678c" />
<rect x="204.74" y="482.95" width="9.72" height="9.42" fill="#24678c" />
<rect x="185.30" y="501.78" width="9.72" height="9.42" fill="#2b4a7f" />
<rect x="185.30" y="517.40" width="38.88" height="38.90" fill="url(#hatch)" />
<rect x="204.74" y="517.40" width="9.72" height="10.03" fill="#78c99b" />
<rect x="204.74" y="527.12" width="9.72" height="10.03" fill="#2b4a7f" />
<rect x="204.74" y="536.85" width="9.72" height="10.03" fill="#2b4a7f" />
<rect x="204.74" y="546.57" width="9.72" height="9.72" fill="#2b4a7f" />
<text transform="translate(31.32,559.7) rotate(-90)" font-size="7.3" text-anchor="end">RA</text>
<text transform="translate(40.98,559.7) rotate(-90)" font-size="7.3" text-anchor="end">PS</text>
<text transform="translate(50.62,559.7) rotate(-90)" font-size="7.3" text-anchor="end">PSA</text>
<text transform="translate(60.28,559.7) rotate(-90)" font-size="7.3" text-anchor="end">CD</text>
<text transform="translate(69.92,559.7) rotate(-90)" font-size="7.3" text-anchor="end">UC</text>
<text transform="translate(79.58,559.7) rotate(-90)" font-size="7.3" text-anchor="end">SLE</text>
<text transform="translate(89.23,559.7) rotate(-90)" font-size="7.3" text-anchor="end">MS</text>
<text transform="translate(102.35,559.7) rotate(-90)" font-size="7.3" text-anchor="end">Asthma</text>
<text transform="translate(112.05,559.7) rotate(-90)" font-size="7.3" text-anchor="end">COPD</text>
<text transform="translate(121.75,559.7) rotate(-90)" font-size="7.3" text-anchor="end">Cirrhosis</text>
<text transform="translate(135.60,559.7) rotate(-90)" font-size="7.3" text-anchor="end">Sepsis</text>
<text transform="translate(149.76,559.7) rotate(-90)" font-size="7.3" text-anchor="end">HIV</text>
<text transform="translate(159.48,559.7) rotate(-90)" font-size="7.3" text-anchor="end">HBV</text>
<text transform="translate(169.20,559.7) rotate(-90)" font-size="7.3" text-anchor="end">COVID</text>
<text transform="translate(178.92,559.7) rotate(-90)" font-size="7.3" text-anchor="end">Flu</text>
<text transform="translate(192.66,559.7) rotate(-90)" font-size="7.3" text-anchor="end">BRCA</text>
<text transform="translate(202.38,559.7) rotate(-90)" font-size="7.3" text-anchor="end">NPC</text>
<text transform="translate(212.10,559.7) rotate(-90)" font-size="7.3" text-anchor="end">HNSCC</text>
<text transform="translate(221.82,559.7) rotate(-90)" font-size="7.3" text-anchor="end">CRC</text>
<text x="228.00" y="462.01" font-size="7.6" text-anchor="start" >Plasma</text>
<text x="228.00" y="471.43" font-size="7.6" text-anchor="start" >pDC</text>
<text x="228.00" y="480.84" font-size="7.6" text-anchor="start" >DC</text>
<text x="228.00" y="490.26" font-size="7.6" text-anchor="start" >Mono</text>
<text x="228.00" y="499.68" font-size="7.6" text-anchor="start" >T CD8 naive</text>
<text x="228.00" y="509.09" font-size="7.6" text-anchor="start" >T CD8 non-naive</text>
<text x="228.00" y="524.86" font-size="7.6" text-anchor="start" >Mono</text>
<text x="228.00" y="534.59" font-size="7.6" text-anchor="start" >T CD4 naive</text>
<text x="228.00" y="544.31" font-size="7.6" text-anchor="start" >T CD8 non-naive</text>
<text x="228.00" y="554.04" font-size="7.6" text-anchor="start" >ILC</text>
<text transform="translate(16.6,487.5) rotate(-90)" font-size="7.6" text-anchor="middle">STAT1</text>
<text transform="translate(16.6,541.8) rotate(-90)" font-size="7.6" text-anchor="middle">SPI</text>
<text x="282.30" y="568.00" font-size="7.6" text-anchor="middle" >TF scaled activity</text>
<defs><linearGradient id="gE" x1="0" x2="1" y1="0" y2="0"><stop offset="0" stop-color="#2a3f78"/><stop offset="0.3" stop-color="#246a8c"/><stop offset="0.55" stop-color="#1f998d"/><stop offset="0.8" stop-color="#8fd2a0"/><stop offset="1" stop-color="#f7f8b5"/></linearGradient></defs>
<rect x="260.40" y="574.70" width="38.90" height="7.00" fill="url(#gE)" />
<text x="260.60" y="588.20" font-size="6.4" text-anchor="middle" >0</text>
<text x="298.90" y="588.20" font-size="6.4" text-anchor="middle" >1</text>
<text x="337.60" y="456.10" font-size="12.5" text-anchor="start" font-weight="bold" fill="#000">f</text>
<rect x="359.50" y="474.00" width="12.95" height="13.10" fill="#5c01a6" />
<rect x="372.05" y="474.00" width="12.95" height="13.10" fill="#0d0887" />
<rect x="384.60" y="474.00" width="12.95" height="13.10" fill="#7e03a8" />
<rect x="397.15" y="474.00" width="12.55" height="13.10" fill="#cc4778" />
<rect x="359.50" y="486.70" width="12.95" height="12.70" fill="#3a049a" />
<rect x="372.05" y="486.70" width="12.95" height="12.70" fill="#5c01a6" />
<rect x="384.60" y="486.70" width="12.95" height="12.70" fill="#5c01a6" />
<rect x="397.15" y="486.70" width="12.55" height="12.70" fill="#cc4778" />
<rect x="359.5" y="474.0" width="50.20" height="25.4" fill="none" stroke="#3a3a3a" stroke-width="0.8"/>
<rect x="359.50" y="504.30" width="12.95" height="13.10" fill="#ea8048" />
<rect x="372.05" y="504.30" width="12.95" height="13.10" fill="#9c179e" />
<rect x="384.60" y="504.30" width="12.95" height="13.10" fill="#f5a81c" />
<rect x="397.15" y="504.30" width="12.55" height="13.10" fill="#9c179e" />
<rect x="359.50" y="517.00" width="12.95" height="12.70" fill="#9c179e" />
<rect x="372.05" y="517.00" width="12.95" height="12.70" fill="#5c01a6" />
<rect x="384.60" y="517.00" width="12.95" height="12.70" fill="#b52f8c" />
<rect x="397.15" y="517.00" width="12.55" height="12.70" fill="#0d0887" />
<rect x="359.5" y="504.3" width="50.20" height="25.4" fill="none" stroke="#3a3a3a" stroke-width="0.8"/>
<polygon points="365.77,508.55 366.27,509.96 367.77,510.00 366.58,510.91 367.01,512.35 365.77,511.50 364.54,512.35 364.97,510.91 363.78,510.00 365.28,509.96" fill="#111"/>
<polygon points="390.88,508.55 391.37,509.96 392.87,510.00 391.68,510.91 392.11,512.35 390.88,511.50 389.64,512.35 390.07,510.91 388.88,510.00 390.38,509.96" fill="#111"/>
<polygon points="403.42,508.55 403.92,509.96 405.42,510.00 404.23,510.91 404.66,512.35 403.42,511.50 402.19,512.35 402.62,510.91 401.43,510.00 402.93,509.96" fill="#111"/>
<rect x="414.40" y="474.00" width="13.30" height="25.40" fill="url(#hatch2)" />
<rect x="414.40" y="504.30" width="13.30" height="13.10" fill="#f0c417" />
<rect x="414.40" y="517.00" width="13.30" height="12.70" fill="#ea8048" />
<rect x="414.4" y="504.3" width="13.30" height="25.4" fill="none" stroke="#3a3a3a" stroke-width="0.8"/>
<rect x="432.50" y="474.00" width="12.70" height="13.10" fill="#cc4778" />
<rect x="432.50" y="486.70" width="12.70" height="12.70" fill="#e0f552" />
<rect x="432.5" y="474.0" width="12.70" height="25.4" fill="none" stroke="#3a3a3a" stroke-width="0.8"/>
<rect x="432.50" y="504.30" width="12.70" height="25.40" fill="url(#hatch2)" />
<polygon points="438.85,490.95 439.35,492.36 440.85,492.40 439.66,493.31 440.08,494.75 438.85,493.90 437.62,494.75 438.04,493.31 436.85,492.40 438.35,492.36" fill="#111"/>
<rect x="450.20" y="474.00" width="12.90" height="13.10" fill="#5c01a6" />
<rect x="462.70" y="474.00" width="12.90" height="13.10" fill="#5c01a6" />
<rect x="475.20" y="474.00" width="12.90" height="13.10" fill="#7e03a8" />
<rect x="487.70" y="474.00" width="12.90" height="13.10" fill="#9c179e" />
<rect x="500.20" y="474.00" width="12.90" height="13.10" fill="#0d0887" />
<rect x="512.70" y="474.00" width="12.90" height="13.10" fill="#ea8048" />
<rect x="525.20" y="474.00" width="12.90" height="13.10" fill="#7e03a8" />
<rect x="537.70" y="474.00" width="12.50" height="13.10" fill="#9c179e" />
<rect x="450.20" y="486.70" width="12.90" height="12.70" fill="#b52f8c" />
<rect x="462.70" y="486.70" width="12.90" height="12.70" fill="#cc4778" />
<rect x="475.20" y="486.70" width="12.90" height="12.70" fill="#df6568" />
<rect x="487.70" y="486.70" width="12.90" height="12.70" fill="#df6568" />
<rect x="500.20" y="486.70" width="12.90" height="12.70" fill="#cc4778" />
<rect x="512.70" y="486.70" width="12.90" height="12.70" fill="#f0c417" />
<rect x="525.20" y="486.70" width="12.90" height="12.70" fill="#cc4778" />
<rect x="537.70" y="486.70" width="12.50" height="12.70" fill="#9c179e" />
<rect x="450.2" y="474.0" width="100.00" height="25.4" fill="none" stroke="#3a3a3a" stroke-width="0.8"/>
<rect x="450.20" y="504.30" width="12.90" height="13.10" fill="#f0c417" />
<rect x="462.70" y="504.30" width="12.90" height="13.10" fill="#f5a81c" />
<rect x="475.20" y="504.30" width="12.90" height="13.10" fill="#f0c417" />
<rect x="487.70" y="504.30" width="12.90" height="13.10" fill="#ea8048" />
<rect x="500.20" y="504.30" width="12.90" height="13.10" fill="#df6568" />
<rect x="512.70" y="504.30" width="12.90" height="13.10" fill="#df6568" />
<rect x="525.20" y="504.30" width="12.90" height="13.10" fill="#f5a81c" />
<rect x="537.70" y="504.30" width="12.50" height="13.10" fill="#e9e01a" />
<rect x="450.20" y="517.00" width="12.90" height="12.70" fill="#e9e01a" />
<rect x="462.70" y="517.00" width="12.90" height="12.70" fill="#e0f552" />
<rect x="475.20" y="517.00" width="12.90" height="12.70" fill="#f0c417" />
<rect x="487.70" y="517.00" width="12.90" height="12.70" fill="#ea8048" />
<rect x="500.20" y="517.00" width="12.90" height="12.70" fill="#f0c417" />
<rect x="512.70" y="517.00" width="12.90" height="12.70" fill="#f5a81c" />
<rect x="525.20" y="517.00" width="12.90" height="12.70" fill="#f5a81c" />
<rect x="537.70" y="517.00" width="12.50" height="12.70" fill="#f0c417" />
<rect x="450.2" y="504.3" width="100.00" height="25.4" fill="none" stroke="#3a3a3a" stroke-width="0.8"/>
<polygon points="468.95,521.25 469.45,522.66 470.95,522.70 469.76,523.61 470.18,525.05 468.95,524.20 467.72,525.05 468.14,523.61 466.95,522.70 468.45,522.66" fill="#111"/>
<rect x="555.50" y="474.00" width="50.60" height="25.40" fill="url(#hatch2)" />
<rect x="555.50" y="504.30" width="13.05" height="13.10" fill="#f0c417" />
<rect x="568.15" y="504.30" width="13.05" height="13.10" fill="#f5a81c" />
<rect x="580.80" y="504.30" width="13.05" height="13.10" fill="#f0c417" />
<rect x="593.45" y="504.30" width="12.65" height="13.10" fill="#df6568" />
<rect x="555.50" y="517.00" width="13.05" height="12.70" fill="#f29a2e" />
<rect x="568.15" y="517.00" width="13.05" height="12.70" fill="#ea8048" />
<rect x="580.80" y="517.00" width="13.05" height="12.70" fill="#f5a81c" />
<rect x="593.45" y="517.00" width="12.65" height="12.70" fill="#ea8048" />
<rect x="555.5" y="504.3" width="50.60" height="25.4" fill="none" stroke="#3a3a3a" stroke-width="0.8"/>
<text x="384.60" y="464.70" font-size="7.7" text-anchor="middle" >Mono</text>
<line x1="359.5" y1="468.4" x2="409.7" y2="468.4" stroke="#555" stroke-width="0.8"/>
<text x="418.70" y="456.70" font-size="7.0" text-anchor="middle" >T CD4</text>
<text x="418.70" y="464.70" font-size="7.0" text-anchor="middle" >Naive</text>
<line x1="414.4" y1="468.4" x2="427.7" y2="468.4" stroke="#555" stroke-width="0.8"/>
<text x="442.80" y="456.70" font-size="7.0" text-anchor="middle" >T CD8</text>
<text x="442.80" y="464.70" font-size="7.0" text-anchor="middle" >Naive</text>
<line x1="432.5" y1="468.4" x2="445.2" y2="468.4" stroke="#555" stroke-width="0.8"/>
<text x="500.20" y="464.70" font-size="7.7" text-anchor="middle" >T CD8 non-naive</text>
<line x1="450.2" y1="468.4" x2="550.2" y2="468.4" stroke="#555" stroke-width="0.8"/>
<text x="580.80" y="464.70" font-size="7.7" text-anchor="middle" >ILC</text>
<line x1="555.5" y1="468.4" x2="606.1" y2="468.4" stroke="#555" stroke-width="0.8"/>
<text x="609.90" y="483.60" font-size="7.6" text-anchor="start" >Non-flare</text>
<text x="609.90" y="495.80" font-size="7.6" text-anchor="start" >Flare</text>
<text x="609.90" y="514.30" font-size="7.6" text-anchor="start" >Non-flare</text>
<text x="609.90" y="526.50" font-size="7.6" text-anchor="start" >Flare</text>
<text transform="translate(355.6,487.5) rotate(-90)" font-size="7.6" text-anchor="middle">STAT1</text>
<text transform="translate(355.6,516.5) rotate(-90)" font-size="7.6" text-anchor="middle">SPI</text>
<text transform="translate(368.27,533.9) rotate(-90)" font-size="7.4" text-anchor="end">Classical</text>
<text transform="translate(380.82,533.9) rotate(-90)" font-size="7.4" text-anchor="end">Non-classical</text>
<text transform="translate(393.38,533.9) rotate(-90)" font-size="7.4" text-anchor="end">Inflammatory</text>
<text transform="translate(405.92,533.9) rotate(-90)" font-size="7.4" text-anchor="end">IFN-response</text>
<text transform="translate(423.55,533.9) rotate(-90)" font-size="7.4" text-anchor="end">Naive</text>
<text transform="translate(441.35,533.9) rotate(-90)" font-size="7.4" text-anchor="end">Naive</text>
<text transform="translate(458.95,533.9) rotate(-90)" font-size="7.4" text-anchor="end">CM</text>
<text transform="translate(471.45,533.9) rotate(-90)" font-size="7.4" text-anchor="end">CM stem</text>
<text transform="translate(483.95,533.9) rotate(-90)" font-size="7.4" text-anchor="end">EM-CX3CR1 high</text>
<text transform="translate(496.45,533.9) rotate(-90)" font-size="7.4" text-anchor="end">EM-CX3CR1 int</text>
<text transform="translate(508.95,533.9) rotate(-90)" font-size="7.4" text-anchor="end">Effector HOBIT</text>
<text transform="translate(521.45,533.9) rotate(-90)" font-size="7.4" text-anchor="end">IFN-response</text>
<text transform="translate(533.95,533.9) rotate(-90)" font-size="7.4" text-anchor="end">Mem cytotoxic</text>
<text transform="translate(546.45,533.9) rotate(-90)" font-size="7.4" text-anchor="end">Activated</text>
<text transform="translate(564.33,533.9) rotate(-90)" font-size="7.4" text-anchor="end">CD56dim CD16</text>
<text transform="translate(576.98,533.9) rotate(-90)" font-size="7.4" text-anchor="end">CD56 high</text>
<text transform="translate(589.62,533.9) rotate(-90)" font-size="7.4" text-anchor="end">Adaptive</text>
<text transform="translate(602.28,533.9) rotate(-90)" font-size="7.4" text-anchor="end">LowRB</text>
<text x="645.60" y="555.50" font-size="7.6" text-anchor="middle" >Scaled</text>
<text x="645.60" y="563.70" font-size="7.6" text-anchor="middle" >mean activity</text>
<defs><linearGradient id="gF" x1="0" x2="1" y1="0" y2="0"><stop offset="0" stop-color="#0d0887"/><stop offset="0.25" stop-color="#6a00a8"/><stop offset="0.5" stop-color="#b12a90"/><stop offset="0.7" stop-color="#e16462"/><stop offset="0.85" stop-color="#fca636"/><stop offset="1" stop-color="#f0f921"/></linearGradient></defs>
<rect x="627.00" y="568.40" width="34.70" height="8.90" fill="url(#gF)" />
<text x="628.50" y="584.50" font-size="6.4" text-anchor="middle" >0</text>
<text x="660.00" y="584.50" font-size="6.4" text-anchor="middle" >1</text>
</svg></body></html>
